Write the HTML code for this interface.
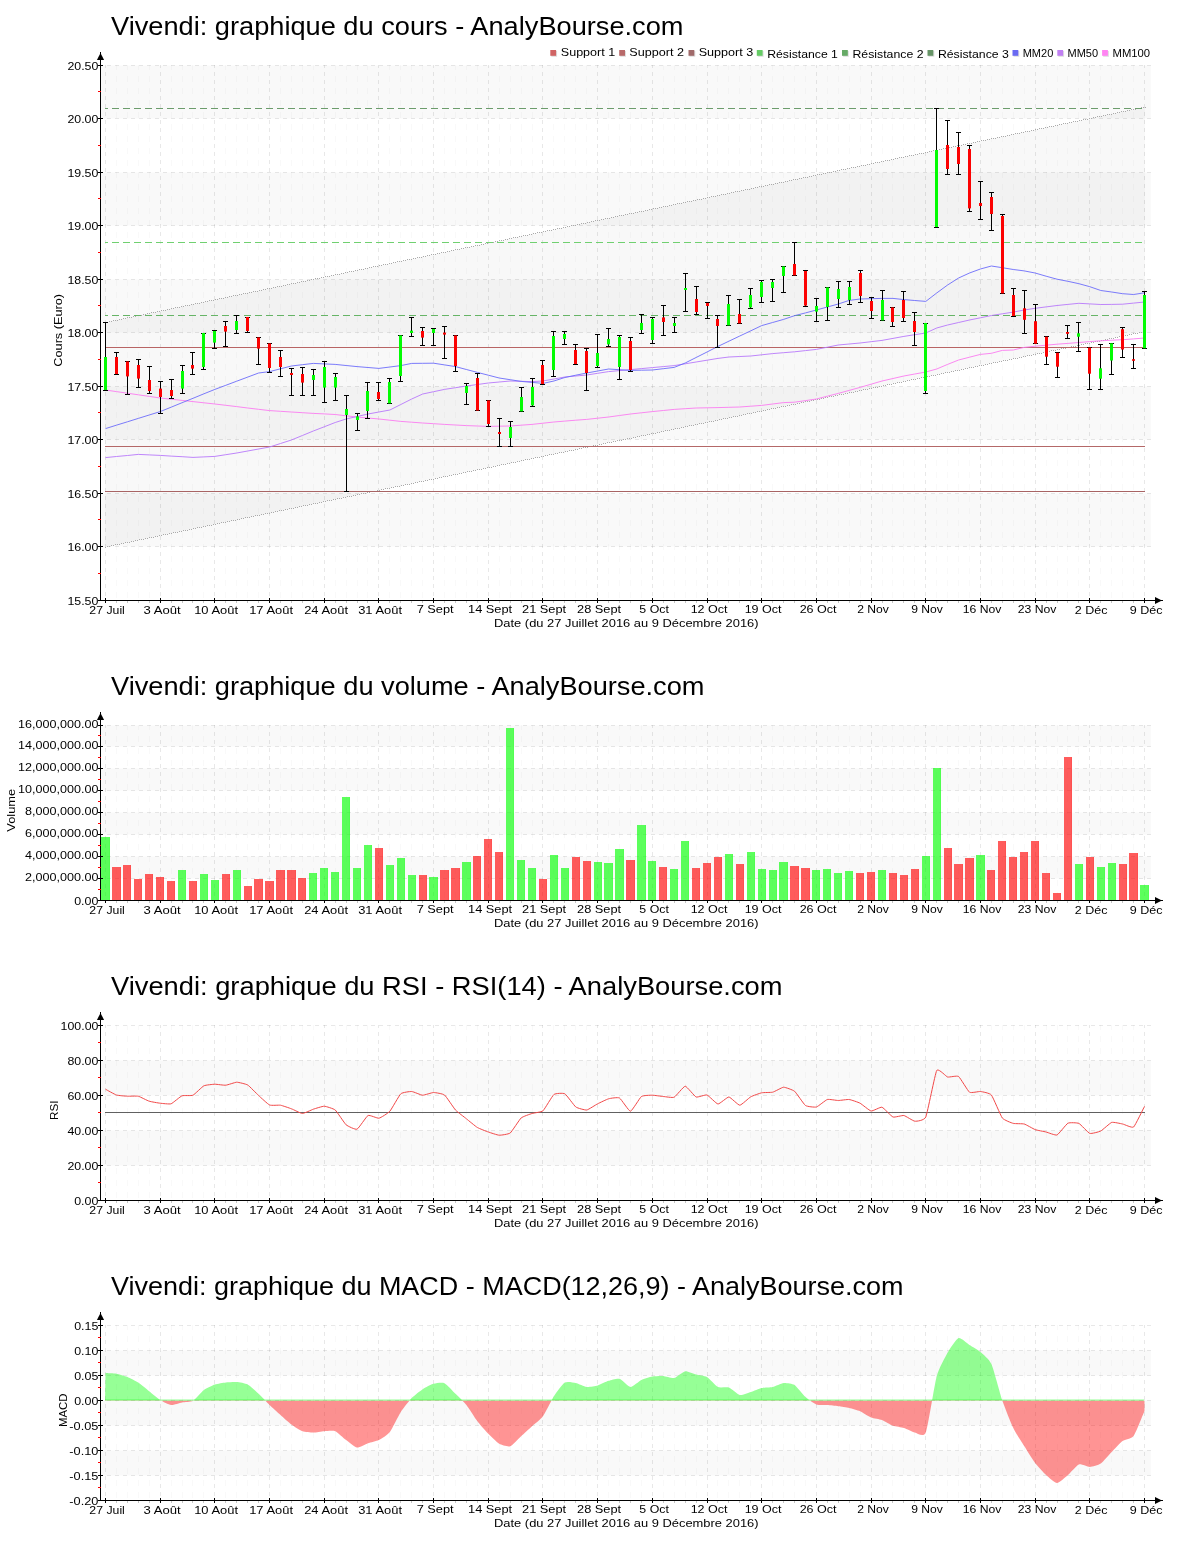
<!DOCTYPE html><html><head><meta charset="utf-8"><title>Vivendi</title><style>html,body{margin:0;padding:0;background:#fff}svg{display:block;will-change:transform}text{font-family:"Liberation Sans",sans-serif}</style></head><body>
<svg width="1200" height="1550" viewBox="0 0 1200 1550">
<rect width="1200" height="1550" fill="#fff"/>
<rect x="101" y="65.5" width="1049.8" height="53.0" fill="#f9f9f9"/>
<rect x="101" y="172.5" width="1049.8" height="53.0" fill="#f9f9f9"/>
<rect x="101" y="279.5" width="1049.8" height="53.0" fill="#f9f9f9"/>
<rect x="101" y="386.5" width="1049.8" height="53.0" fill="#f9f9f9"/>
<rect x="101" y="493.5" width="1049.8" height="53.0" fill="#f9f9f9"/>
<line x1="105.5" y1="65" x2="105.5" y2="600" stroke="#000" stroke-opacity="0.09" stroke-dasharray="4 4" stroke-width="1" stroke-dashoffset="1"/>
<line x1="116.5" y1="65" x2="116.5" y2="600" stroke="#000" stroke-opacity="0.022" stroke-dasharray="6 6" stroke-width="1" stroke-dashoffset="1"/>
<line x1="127.5" y1="65" x2="127.5" y2="600" stroke="#000" stroke-opacity="0.022" stroke-dasharray="6 6" stroke-width="1" stroke-dashoffset="1"/>
<line x1="138.5" y1="65" x2="138.5" y2="600" stroke="#000" stroke-opacity="0.022" stroke-dasharray="6 6" stroke-width="1" stroke-dashoffset="1"/>
<line x1="149.5" y1="65" x2="149.5" y2="600" stroke="#000" stroke-opacity="0.022" stroke-dasharray="6 6" stroke-width="1" stroke-dashoffset="1"/>
<line x1="160.5" y1="65" x2="160.5" y2="600" stroke="#000" stroke-opacity="0.09" stroke-dasharray="4 4" stroke-width="1" stroke-dashoffset="1"/>
<line x1="171.5" y1="65" x2="171.5" y2="600" stroke="#000" stroke-opacity="0.022" stroke-dasharray="6 6" stroke-width="1" stroke-dashoffset="1"/>
<line x1="182.5" y1="65" x2="182.5" y2="600" stroke="#000" stroke-opacity="0.022" stroke-dasharray="6 6" stroke-width="1" stroke-dashoffset="1"/>
<line x1="192.5" y1="65" x2="192.5" y2="600" stroke="#000" stroke-opacity="0.022" stroke-dasharray="6 6" stroke-width="1" stroke-dashoffset="1"/>
<line x1="203.5" y1="65" x2="203.5" y2="600" stroke="#000" stroke-opacity="0.022" stroke-dasharray="6 6" stroke-width="1" stroke-dashoffset="1"/>
<line x1="214.5" y1="65" x2="214.5" y2="600" stroke="#000" stroke-opacity="0.09" stroke-dasharray="4 4" stroke-width="1" stroke-dashoffset="1"/>
<line x1="225.5" y1="65" x2="225.5" y2="600" stroke="#000" stroke-opacity="0.022" stroke-dasharray="6 6" stroke-width="1" stroke-dashoffset="1"/>
<line x1="236.5" y1="65" x2="236.5" y2="600" stroke="#000" stroke-opacity="0.022" stroke-dasharray="6 6" stroke-width="1" stroke-dashoffset="1"/>
<line x1="247.5" y1="65" x2="247.5" y2="600" stroke="#000" stroke-opacity="0.022" stroke-dasharray="6 6" stroke-width="1" stroke-dashoffset="1"/>
<line x1="258.5" y1="65" x2="258.5" y2="600" stroke="#000" stroke-opacity="0.022" stroke-dasharray="6 6" stroke-width="1" stroke-dashoffset="1"/>
<line x1="269.5" y1="65" x2="269.5" y2="600" stroke="#000" stroke-opacity="0.09" stroke-dasharray="4 4" stroke-width="1" stroke-dashoffset="1"/>
<line x1="280.5" y1="65" x2="280.5" y2="600" stroke="#000" stroke-opacity="0.022" stroke-dasharray="6 6" stroke-width="1" stroke-dashoffset="1"/>
<line x1="291.5" y1="65" x2="291.5" y2="600" stroke="#000" stroke-opacity="0.022" stroke-dasharray="6 6" stroke-width="1" stroke-dashoffset="1"/>
<line x1="302.5" y1="65" x2="302.5" y2="600" stroke="#000" stroke-opacity="0.022" stroke-dasharray="6 6" stroke-width="1" stroke-dashoffset="1"/>
<line x1="313.5" y1="65" x2="313.5" y2="600" stroke="#000" stroke-opacity="0.022" stroke-dasharray="6 6" stroke-width="1" stroke-dashoffset="1"/>
<line x1="324.5" y1="65" x2="324.5" y2="600" stroke="#000" stroke-opacity="0.09" stroke-dasharray="4 4" stroke-width="1" stroke-dashoffset="1"/>
<line x1="335.5" y1="65" x2="335.5" y2="600" stroke="#000" stroke-opacity="0.022" stroke-dasharray="6 6" stroke-width="1" stroke-dashoffset="1"/>
<line x1="346.5" y1="65" x2="346.5" y2="600" stroke="#000" stroke-opacity="0.022" stroke-dasharray="6 6" stroke-width="1" stroke-dashoffset="1"/>
<line x1="357.5" y1="65" x2="357.5" y2="600" stroke="#000" stroke-opacity="0.022" stroke-dasharray="6 6" stroke-width="1" stroke-dashoffset="1"/>
<line x1="367.5" y1="65" x2="367.5" y2="600" stroke="#000" stroke-opacity="0.022" stroke-dasharray="6 6" stroke-width="1" stroke-dashoffset="1"/>
<line x1="378.5" y1="65" x2="378.5" y2="600" stroke="#000" stroke-opacity="0.09" stroke-dasharray="4 4" stroke-width="1" stroke-dashoffset="1"/>
<line x1="389.5" y1="65" x2="389.5" y2="600" stroke="#000" stroke-opacity="0.022" stroke-dasharray="6 6" stroke-width="1" stroke-dashoffset="1"/>
<line x1="400.5" y1="65" x2="400.5" y2="600" stroke="#000" stroke-opacity="0.022" stroke-dasharray="6 6" stroke-width="1" stroke-dashoffset="1"/>
<line x1="411.5" y1="65" x2="411.5" y2="600" stroke="#000" stroke-opacity="0.022" stroke-dasharray="6 6" stroke-width="1" stroke-dashoffset="1"/>
<line x1="422.5" y1="65" x2="422.5" y2="600" stroke="#000" stroke-opacity="0.022" stroke-dasharray="6 6" stroke-width="1" stroke-dashoffset="1"/>
<line x1="433.5" y1="65" x2="433.5" y2="600" stroke="#000" stroke-opacity="0.09" stroke-dasharray="4 4" stroke-width="1" stroke-dashoffset="1"/>
<line x1="444.5" y1="65" x2="444.5" y2="600" stroke="#000" stroke-opacity="0.022" stroke-dasharray="6 6" stroke-width="1" stroke-dashoffset="1"/>
<line x1="455.5" y1="65" x2="455.5" y2="600" stroke="#000" stroke-opacity="0.022" stroke-dasharray="6 6" stroke-width="1" stroke-dashoffset="1"/>
<line x1="466.5" y1="65" x2="466.5" y2="600" stroke="#000" stroke-opacity="0.022" stroke-dasharray="6 6" stroke-width="1" stroke-dashoffset="1"/>
<line x1="477.5" y1="65" x2="477.5" y2="600" stroke="#000" stroke-opacity="0.022" stroke-dasharray="6 6" stroke-width="1" stroke-dashoffset="1"/>
<line x1="488.5" y1="65" x2="488.5" y2="600" stroke="#000" stroke-opacity="0.09" stroke-dasharray="4 4" stroke-width="1" stroke-dashoffset="1"/>
<line x1="499.5" y1="65" x2="499.5" y2="600" stroke="#000" stroke-opacity="0.022" stroke-dasharray="6 6" stroke-width="1" stroke-dashoffset="1"/>
<line x1="510.5" y1="65" x2="510.5" y2="600" stroke="#000" stroke-opacity="0.022" stroke-dasharray="6 6" stroke-width="1" stroke-dashoffset="1"/>
<line x1="521.5" y1="65" x2="521.5" y2="600" stroke="#000" stroke-opacity="0.022" stroke-dasharray="6 6" stroke-width="1" stroke-dashoffset="1"/>
<line x1="532.5" y1="65" x2="532.5" y2="600" stroke="#000" stroke-opacity="0.022" stroke-dasharray="6 6" stroke-width="1" stroke-dashoffset="1"/>
<line x1="542.5" y1="65" x2="542.5" y2="600" stroke="#000" stroke-opacity="0.09" stroke-dasharray="4 4" stroke-width="1" stroke-dashoffset="1"/>
<line x1="553.5" y1="65" x2="553.5" y2="600" stroke="#000" stroke-opacity="0.022" stroke-dasharray="6 6" stroke-width="1" stroke-dashoffset="1"/>
<line x1="564.5" y1="65" x2="564.5" y2="600" stroke="#000" stroke-opacity="0.022" stroke-dasharray="6 6" stroke-width="1" stroke-dashoffset="1"/>
<line x1="575.5" y1="65" x2="575.5" y2="600" stroke="#000" stroke-opacity="0.022" stroke-dasharray="6 6" stroke-width="1" stroke-dashoffset="1"/>
<line x1="586.5" y1="65" x2="586.5" y2="600" stroke="#000" stroke-opacity="0.022" stroke-dasharray="6 6" stroke-width="1" stroke-dashoffset="1"/>
<line x1="597.5" y1="65" x2="597.5" y2="600" stroke="#000" stroke-opacity="0.09" stroke-dasharray="4 4" stroke-width="1" stroke-dashoffset="1"/>
<line x1="608.5" y1="65" x2="608.5" y2="600" stroke="#000" stroke-opacity="0.022" stroke-dasharray="6 6" stroke-width="1" stroke-dashoffset="1"/>
<line x1="619.5" y1="65" x2="619.5" y2="600" stroke="#000" stroke-opacity="0.022" stroke-dasharray="6 6" stroke-width="1" stroke-dashoffset="1"/>
<line x1="630.5" y1="65" x2="630.5" y2="600" stroke="#000" stroke-opacity="0.022" stroke-dasharray="6 6" stroke-width="1" stroke-dashoffset="1"/>
<line x1="641.5" y1="65" x2="641.5" y2="600" stroke="#000" stroke-opacity="0.022" stroke-dasharray="6 6" stroke-width="1" stroke-dashoffset="1"/>
<line x1="652.5" y1="65" x2="652.5" y2="600" stroke="#000" stroke-opacity="0.09" stroke-dasharray="4 4" stroke-width="1" stroke-dashoffset="1"/>
<line x1="663.5" y1="65" x2="663.5" y2="600" stroke="#000" stroke-opacity="0.022" stroke-dasharray="6 6" stroke-width="1" stroke-dashoffset="1"/>
<line x1="674.5" y1="65" x2="674.5" y2="600" stroke="#000" stroke-opacity="0.022" stroke-dasharray="6 6" stroke-width="1" stroke-dashoffset="1"/>
<line x1="685.5" y1="65" x2="685.5" y2="600" stroke="#000" stroke-opacity="0.022" stroke-dasharray="6 6" stroke-width="1" stroke-dashoffset="1"/>
<line x1="696.5" y1="65" x2="696.5" y2="600" stroke="#000" stroke-opacity="0.022" stroke-dasharray="6 6" stroke-width="1" stroke-dashoffset="1"/>
<line x1="707.5" y1="65" x2="707.5" y2="600" stroke="#000" stroke-opacity="0.09" stroke-dasharray="4 4" stroke-width="1" stroke-dashoffset="1"/>
<line x1="717.5" y1="65" x2="717.5" y2="600" stroke="#000" stroke-opacity="0.022" stroke-dasharray="6 6" stroke-width="1" stroke-dashoffset="1"/>
<line x1="728.5" y1="65" x2="728.5" y2="600" stroke="#000" stroke-opacity="0.022" stroke-dasharray="6 6" stroke-width="1" stroke-dashoffset="1"/>
<line x1="739.5" y1="65" x2="739.5" y2="600" stroke="#000" stroke-opacity="0.022" stroke-dasharray="6 6" stroke-width="1" stroke-dashoffset="1"/>
<line x1="750.5" y1="65" x2="750.5" y2="600" stroke="#000" stroke-opacity="0.022" stroke-dasharray="6 6" stroke-width="1" stroke-dashoffset="1"/>
<line x1="761.5" y1="65" x2="761.5" y2="600" stroke="#000" stroke-opacity="0.09" stroke-dasharray="4 4" stroke-width="1" stroke-dashoffset="1"/>
<line x1="772.5" y1="65" x2="772.5" y2="600" stroke="#000" stroke-opacity="0.022" stroke-dasharray="6 6" stroke-width="1" stroke-dashoffset="1"/>
<line x1="783.5" y1="65" x2="783.5" y2="600" stroke="#000" stroke-opacity="0.022" stroke-dasharray="6 6" stroke-width="1" stroke-dashoffset="1"/>
<line x1="794.5" y1="65" x2="794.5" y2="600" stroke="#000" stroke-opacity="0.022" stroke-dasharray="6 6" stroke-width="1" stroke-dashoffset="1"/>
<line x1="805.5" y1="65" x2="805.5" y2="600" stroke="#000" stroke-opacity="0.022" stroke-dasharray="6 6" stroke-width="1" stroke-dashoffset="1"/>
<line x1="816.5" y1="65" x2="816.5" y2="600" stroke="#000" stroke-opacity="0.09" stroke-dasharray="4 4" stroke-width="1" stroke-dashoffset="1"/>
<line x1="827.5" y1="65" x2="827.5" y2="600" stroke="#000" stroke-opacity="0.022" stroke-dasharray="6 6" stroke-width="1" stroke-dashoffset="1"/>
<line x1="838.5" y1="65" x2="838.5" y2="600" stroke="#000" stroke-opacity="0.022" stroke-dasharray="6 6" stroke-width="1" stroke-dashoffset="1"/>
<line x1="849.5" y1="65" x2="849.5" y2="600" stroke="#000" stroke-opacity="0.022" stroke-dasharray="6 6" stroke-width="1" stroke-dashoffset="1"/>
<line x1="860.5" y1="65" x2="860.5" y2="600" stroke="#000" stroke-opacity="0.022" stroke-dasharray="6 6" stroke-width="1" stroke-dashoffset="1"/>
<line x1="871.5" y1="65" x2="871.5" y2="600" stroke="#000" stroke-opacity="0.09" stroke-dasharray="4 4" stroke-width="1" stroke-dashoffset="1"/>
<line x1="882.5" y1="65" x2="882.5" y2="600" stroke="#000" stroke-opacity="0.022" stroke-dasharray="6 6" stroke-width="1" stroke-dashoffset="1"/>
<line x1="892.5" y1="65" x2="892.5" y2="600" stroke="#000" stroke-opacity="0.022" stroke-dasharray="6 6" stroke-width="1" stroke-dashoffset="1"/>
<line x1="903.5" y1="65" x2="903.5" y2="600" stroke="#000" stroke-opacity="0.022" stroke-dasharray="6 6" stroke-width="1" stroke-dashoffset="1"/>
<line x1="914.5" y1="65" x2="914.5" y2="600" stroke="#000" stroke-opacity="0.022" stroke-dasharray="6 6" stroke-width="1" stroke-dashoffset="1"/>
<line x1="925.5" y1="65" x2="925.5" y2="600" stroke="#000" stroke-opacity="0.09" stroke-dasharray="4 4" stroke-width="1" stroke-dashoffset="1"/>
<line x1="936.5" y1="65" x2="936.5" y2="600" stroke="#000" stroke-opacity="0.022" stroke-dasharray="6 6" stroke-width="1" stroke-dashoffset="1"/>
<line x1="947.5" y1="65" x2="947.5" y2="600" stroke="#000" stroke-opacity="0.022" stroke-dasharray="6 6" stroke-width="1" stroke-dashoffset="1"/>
<line x1="958.5" y1="65" x2="958.5" y2="600" stroke="#000" stroke-opacity="0.022" stroke-dasharray="6 6" stroke-width="1" stroke-dashoffset="1"/>
<line x1="969.5" y1="65" x2="969.5" y2="600" stroke="#000" stroke-opacity="0.022" stroke-dasharray="6 6" stroke-width="1" stroke-dashoffset="1"/>
<line x1="980.5" y1="65" x2="980.5" y2="600" stroke="#000" stroke-opacity="0.09" stroke-dasharray="4 4" stroke-width="1" stroke-dashoffset="1"/>
<line x1="991.5" y1="65" x2="991.5" y2="600" stroke="#000" stroke-opacity="0.022" stroke-dasharray="6 6" stroke-width="1" stroke-dashoffset="1"/>
<line x1="1002.5" y1="65" x2="1002.5" y2="600" stroke="#000" stroke-opacity="0.022" stroke-dasharray="6 6" stroke-width="1" stroke-dashoffset="1"/>
<line x1="1013.5" y1="65" x2="1013.5" y2="600" stroke="#000" stroke-opacity="0.022" stroke-dasharray="6 6" stroke-width="1" stroke-dashoffset="1"/>
<line x1="1024.5" y1="65" x2="1024.5" y2="600" stroke="#000" stroke-opacity="0.022" stroke-dasharray="6 6" stroke-width="1" stroke-dashoffset="1"/>
<line x1="1035.5" y1="65" x2="1035.5" y2="600" stroke="#000" stroke-opacity="0.09" stroke-dasharray="4 4" stroke-width="1" stroke-dashoffset="1"/>
<line x1="1046.5" y1="65" x2="1046.5" y2="600" stroke="#000" stroke-opacity="0.022" stroke-dasharray="6 6" stroke-width="1" stroke-dashoffset="1"/>
<line x1="1057.5" y1="65" x2="1057.5" y2="600" stroke="#000" stroke-opacity="0.022" stroke-dasharray="6 6" stroke-width="1" stroke-dashoffset="1"/>
<line x1="1067.5" y1="65" x2="1067.5" y2="600" stroke="#000" stroke-opacity="0.022" stroke-dasharray="6 6" stroke-width="1" stroke-dashoffset="1"/>
<line x1="1078.5" y1="65" x2="1078.5" y2="600" stroke="#000" stroke-opacity="0.022" stroke-dasharray="6 6" stroke-width="1" stroke-dashoffset="1"/>
<line x1="1089.5" y1="65" x2="1089.5" y2="600" stroke="#000" stroke-opacity="0.09" stroke-dasharray="4 4" stroke-width="1" stroke-dashoffset="1"/>
<line x1="1100.5" y1="65" x2="1100.5" y2="600" stroke="#000" stroke-opacity="0.022" stroke-dasharray="6 6" stroke-width="1" stroke-dashoffset="1"/>
<line x1="1111.5" y1="65" x2="1111.5" y2="600" stroke="#000" stroke-opacity="0.022" stroke-dasharray="6 6" stroke-width="1" stroke-dashoffset="1"/>
<line x1="1122.5" y1="65" x2="1122.5" y2="600" stroke="#000" stroke-opacity="0.022" stroke-dasharray="6 6" stroke-width="1" stroke-dashoffset="1"/>
<line x1="1133.5" y1="65" x2="1133.5" y2="600" stroke="#000" stroke-opacity="0.022" stroke-dasharray="6 6" stroke-width="1" stroke-dashoffset="1"/>
<line x1="1144.5" y1="65" x2="1144.5" y2="600" stroke="#000" stroke-opacity="0.09" stroke-dasharray="4 4" stroke-width="1" stroke-dashoffset="1"/>
<line x1="107" y1="65.5" x2="1151" y2="65.5" stroke="#000" stroke-opacity="0.09" stroke-width="1" stroke-dasharray="4 4"/>
<line x1="107" y1="118.5" x2="1151" y2="118.5" stroke="#000" stroke-opacity="0.09" stroke-width="1" stroke-dasharray="4 4"/>
<line x1="107" y1="172.5" x2="1151" y2="172.5" stroke="#000" stroke-opacity="0.09" stroke-width="1" stroke-dasharray="4 4"/>
<line x1="107" y1="225.5" x2="1151" y2="225.5" stroke="#000" stroke-opacity="0.09" stroke-width="1" stroke-dasharray="4 4"/>
<line x1="107" y1="279.5" x2="1151" y2="279.5" stroke="#000" stroke-opacity="0.09" stroke-width="1" stroke-dasharray="4 4"/>
<line x1="107" y1="332.5" x2="1151" y2="332.5" stroke="#000" stroke-opacity="0.09" stroke-width="1" stroke-dasharray="4 4"/>
<line x1="107" y1="386.5" x2="1151" y2="386.5" stroke="#000" stroke-opacity="0.09" stroke-width="1" stroke-dasharray="4 4"/>
<line x1="107" y1="439.5" x2="1151" y2="439.5" stroke="#000" stroke-opacity="0.09" stroke-width="1" stroke-dasharray="4 4"/>
<line x1="107" y1="493.5" x2="1151" y2="493.5" stroke="#000" stroke-opacity="0.09" stroke-width="1" stroke-dasharray="4 4"/>
<line x1="107" y1="546.5" x2="1151" y2="546.5" stroke="#000" stroke-opacity="0.09" stroke-width="1" stroke-dasharray="4 4"/>
<polygon points="105,322.5 1145,107 1145,331.5 105,547" fill="#000" fill-opacity="0.026"/>
<path d="M105 322.5h1M107 322.5h1M109 321.5h1M111 321.5h1M113 320.5h1M115 320.5h1M117 320.5h1M119 319.5h1M121 319.5h1M123 318.5h1M125 318.5h1M127 317.5h1M129 317.5h1M131 317.5h1M133 316.5h1M135 316.5h1M137 315.5h1M139 315.5h1M141 315.5h1M143 314.5h1M145 314.5h1M147 313.5h1M149 313.5h1M151 312.5h1M153 312.5h1M155 312.5h1M157 311.5h1M159 311.5h1M161 310.5h1M163 310.5h1M165 310.5h1M167 309.5h1M169 309.5h1M171 308.5h1M173 308.5h1M175 307.5h1M177 307.5h1M179 307.5h1M181 306.5h1M183 306.5h1M185 305.5h1M187 305.5h1M189 305.5h1M191 304.5h1M193 304.5h1M195 303.5h1M197 303.5h1M199 303.5h1M201 302.5h1M203 302.5h1M205 301.5h1M207 301.5h1M209 300.5h1M211 300.5h1M213 300.5h1M215 299.5h1M217 299.5h1M219 298.5h1M221 298.5h1M223 298.5h1M225 297.5h1M227 297.5h1M229 296.5h1M231 296.5h1M233 295.5h1M235 295.5h1M237 295.5h1M239 294.5h1M241 294.5h1M243 293.5h1M245 293.5h1M247 293.5h1M249 292.5h1M251 292.5h1M253 291.5h1M255 291.5h1M257 291.5h1M259 290.5h1M261 290.5h1M263 289.5h1M265 289.5h1M267 288.5h1M269 288.5h1M271 288.5h1M273 287.5h1M275 287.5h1M277 286.5h1M279 286.5h1M281 286.5h1M283 285.5h1M285 285.5h1M287 284.5h1M289 284.5h1M291 283.5h1M293 283.5h1M295 283.5h1M297 282.5h1M299 282.5h1M301 281.5h1M303 281.5h1M305 281.5h1M307 280.5h1M309 280.5h1M311 279.5h1M313 279.5h1M315 278.5h1M317 278.5h1M319 278.5h1M321 277.5h1M323 277.5h1M325 276.5h1M327 276.5h1M329 276.5h1M331 275.5h1M333 275.5h1M335 274.5h1M337 274.5h1M339 274.5h1M341 273.5h1M343 273.5h1M345 272.5h1M347 272.5h1M349 271.5h1M351 271.5h1M353 271.5h1M355 270.5h1M357 270.5h1M359 269.5h1M361 269.5h1M363 269.5h1M365 268.5h1M367 268.5h1M369 267.5h1M371 267.5h1M373 266.5h1M375 266.5h1M377 266.5h1M379 265.5h1M381 265.5h1M383 264.5h1M385 264.5h1M387 264.5h1M389 263.5h1M391 263.5h1M393 262.5h1M395 262.5h1M397 261.5h1M399 261.5h1M401 261.5h1M403 260.5h1M405 260.5h1M407 259.5h1M409 259.5h1M411 259.5h1M413 258.5h1M415 258.5h1M417 257.5h1M419 257.5h1M421 257.5h1M423 256.5h1M425 256.5h1M427 255.5h1M429 255.5h1M431 254.5h1M433 254.5h1M435 254.5h1M437 253.5h1M439 253.5h1M441 252.5h1M443 252.5h1M445 252.5h1M447 251.5h1M449 251.5h1M451 250.5h1M453 250.5h1M455 249.5h1M457 249.5h1M459 249.5h1M461 248.5h1M463 248.5h1M465 247.5h1M467 247.5h1M469 247.5h1M471 246.5h1M473 246.5h1M475 245.5h1M477 245.5h1M479 245.5h1M481 244.5h1M483 244.5h1M485 243.5h1M487 243.5h1M489 242.5h1M491 242.5h1M493 242.5h1M495 241.5h1M497 241.5h1M499 240.5h1M501 240.5h1M503 240.5h1M505 239.5h1M507 239.5h1M509 238.5h1M511 238.5h1M513 237.5h1M515 237.5h1M517 237.5h1M519 236.5h1M521 236.5h1M523 235.5h1M525 235.5h1M527 235.5h1M529 234.5h1M531 234.5h1M533 233.5h1M535 233.5h1M537 232.5h1M539 232.5h1M541 232.5h1M543 231.5h1M545 231.5h1M547 230.5h1M549 230.5h1M551 230.5h1M553 229.5h1M555 229.5h1M557 228.5h1M559 228.5h1M561 228.5h1M563 227.5h1M565 227.5h1M567 226.5h1M569 226.5h1M571 225.5h1M573 225.5h1M575 225.5h1M577 224.5h1M579 224.5h1M581 223.5h1M583 223.5h1M585 223.5h1M587 222.5h1M589 222.5h1M591 221.5h1M593 221.5h1M595 220.5h1M597 220.5h1M599 220.5h1M601 219.5h1M603 219.5h1M605 218.5h1M607 218.5h1M609 218.5h1M611 217.5h1M613 217.5h1M615 216.5h1M617 216.5h1M619 215.5h1M621 215.5h1M623 215.5h1M625 214.5h1M627 214.5h1M629 213.5h1M631 213.5h1M633 213.5h1M635 212.5h1M637 212.5h1M639 211.5h1M641 211.5h1M643 211.5h1M645 210.5h1M647 210.5h1M649 209.5h1M651 209.5h1M653 208.5h1M655 208.5h1M657 208.5h1M659 207.5h1M661 207.5h1M663 206.5h1M665 206.5h1M667 206.5h1M669 205.5h1M671 205.5h1M673 204.5h1M675 204.5h1M677 203.5h1M679 203.5h1M681 203.5h1M683 202.5h1M685 202.5h1M687 201.5h1M689 201.5h1M691 201.5h1M693 200.5h1M695 200.5h1M697 199.5h1M699 199.5h1M701 199.5h1M703 198.5h1M705 198.5h1M707 197.5h1M709 197.5h1M711 196.5h1M713 196.5h1M715 196.5h1M717 195.5h1M719 195.5h1M721 194.5h1M723 194.5h1M725 194.5h1M727 193.5h1M729 193.5h1M731 192.5h1M733 192.5h1M735 191.5h1M737 191.5h1M739 191.5h1M741 190.5h1M743 190.5h1M745 189.5h1M747 189.5h1M749 189.5h1M751 188.5h1M753 188.5h1M755 187.5h1M757 187.5h1M759 186.5h1M761 186.5h1M763 186.5h1M765 185.5h1M767 185.5h1M769 184.5h1M771 184.5h1M773 184.5h1M775 183.5h1M777 183.5h1M779 182.5h1M781 182.5h1M783 182.5h1M785 181.5h1M787 181.5h1M789 180.5h1M791 180.5h1M793 179.5h1M795 179.5h1M797 179.5h1M799 178.5h1M801 178.5h1M803 177.5h1M805 177.5h1M807 177.5h1M809 176.5h1M811 176.5h1M813 175.5h1M815 175.5h1M817 174.5h1M819 174.5h1M821 174.5h1M823 173.5h1M825 173.5h1M827 172.5h1M829 172.5h1M831 172.5h1M833 171.5h1M835 171.5h1M837 170.5h1M839 170.5h1M841 169.5h1M843 169.5h1M845 169.5h1M847 168.5h1M849 168.5h1M851 167.5h1M853 167.5h1M855 167.5h1M857 166.5h1M859 166.5h1M861 165.5h1M863 165.5h1M865 165.5h1M867 164.5h1M869 164.5h1M871 163.5h1M873 163.5h1M875 162.5h1M877 162.5h1M879 162.5h1M881 161.5h1M883 161.5h1M885 160.5h1M887 160.5h1M889 160.5h1M891 159.5h1M893 159.5h1M895 158.5h1M897 158.5h1M899 157.5h1M901 157.5h1M903 157.5h1M905 156.5h1M907 156.5h1M909 155.5h1M911 155.5h1M913 155.5h1M915 154.5h1M917 154.5h1M919 153.5h1M921 153.5h1M923 153.5h1M925 152.5h1M927 152.5h1M929 151.5h1M931 151.5h1M933 150.5h1M935 150.5h1M937 150.5h1M939 149.5h1M941 149.5h1M943 148.5h1M945 148.5h1M947 148.5h1M949 147.5h1M951 147.5h1M953 146.5h1M955 146.5h1M957 145.5h1M959 145.5h1M961 145.5h1M963 144.5h1M965 144.5h1M967 143.5h1M969 143.5h1M971 143.5h1M973 142.5h1M975 142.5h1M977 141.5h1M979 141.5h1M981 140.5h1M983 140.5h1M985 140.5h1M987 139.5h1M989 139.5h1M991 138.5h1M993 138.5h1M995 138.5h1M997 137.5h1M999 137.5h1M1001 136.5h1M1003 136.5h1M1005 136.5h1M1007 135.5h1M1009 135.5h1M1011 134.5h1M1013 134.5h1M1015 133.5h1M1017 133.5h1M1019 133.5h1M1021 132.5h1M1023 132.5h1M1025 131.5h1M1027 131.5h1M1029 131.5h1M1031 130.5h1M1033 130.5h1M1035 129.5h1M1037 129.5h1M1039 128.5h1M1041 128.5h1M1043 128.5h1M1045 127.5h1M1047 127.5h1M1049 126.5h1M1051 126.5h1M1053 126.5h1M1055 125.5h1M1057 125.5h1M1059 124.5h1M1061 124.5h1M1063 123.5h1M1065 123.5h1M1067 123.5h1M1069 122.5h1M1071 122.5h1M1073 121.5h1M1075 121.5h1M1077 121.5h1M1079 120.5h1M1081 120.5h1M1083 119.5h1M1085 119.5h1M1087 119.5h1M1089 118.5h1M1091 118.5h1M1093 117.5h1M1095 117.5h1M1097 116.5h1M1099 116.5h1M1101 116.5h1M1103 115.5h1M1105 115.5h1M1107 114.5h1M1109 114.5h1M1111 114.5h1M1113 113.5h1M1115 113.5h1M1117 112.5h1M1119 112.5h1M1121 111.5h1M1123 111.5h1M1125 111.5h1M1127 110.5h1M1129 110.5h1M1131 109.5h1M1133 109.5h1M1135 109.5h1M1137 108.5h1M1139 108.5h1M1141 107.5h1M1143 107.5h1M1145 107.5h1" stroke="#aaaaaa" stroke-width="1" fill="none" shape-rendering="crispEdges"/>
<path d="M105 547.5h1M107 546.5h1M109 546.5h1M111 545.5h1M113 545.5h1M115 544.5h1M117 544.5h1M119 544.5h1M121 543.5h1M123 543.5h1M125 542.5h1M127 542.5h1M129 542.5h1M131 541.5h1M133 541.5h1M135 540.5h1M137 540.5h1M139 539.5h1M141 539.5h1M143 539.5h1M145 538.5h1M147 538.5h1M149 537.5h1M151 537.5h1M153 537.5h1M155 536.5h1M157 536.5h1M159 535.5h1M161 535.5h1M163 534.5h1M165 534.5h1M167 534.5h1M169 533.5h1M171 533.5h1M173 532.5h1M175 532.5h1M177 532.5h1M179 531.5h1M181 531.5h1M183 530.5h1M185 530.5h1M187 530.5h1M189 529.5h1M191 529.5h1M193 528.5h1M195 528.5h1M197 527.5h1M199 527.5h1M201 527.5h1M203 526.5h1M205 526.5h1M207 525.5h1M209 525.5h1M211 525.5h1M213 524.5h1M215 524.5h1M217 523.5h1M219 523.5h1M221 522.5h1M223 522.5h1M225 522.5h1M227 521.5h1M229 521.5h1M231 520.5h1M233 520.5h1M235 520.5h1M237 519.5h1M239 519.5h1M241 518.5h1M243 518.5h1M245 517.5h1M247 517.5h1M249 517.5h1M251 516.5h1M253 516.5h1M255 515.5h1M257 515.5h1M259 515.5h1M261 514.5h1M263 514.5h1M265 513.5h1M267 513.5h1M269 513.5h1M271 512.5h1M273 512.5h1M275 511.5h1M277 511.5h1M279 510.5h1M281 510.5h1M283 510.5h1M285 509.5h1M287 509.5h1M289 508.5h1M291 508.5h1M293 508.5h1M295 507.5h1M297 507.5h1M299 506.5h1M301 506.5h1M303 505.5h1M305 505.5h1M307 505.5h1M309 504.5h1M311 504.5h1M313 503.5h1M315 503.5h1M317 503.5h1M319 502.5h1M321 502.5h1M323 501.5h1M325 501.5h1M327 500.5h1M329 500.5h1M331 500.5h1M333 499.5h1M335 499.5h1M337 498.5h1M339 498.5h1M341 498.5h1M343 497.5h1M345 497.5h1M347 496.5h1M349 496.5h1M351 496.5h1M353 495.5h1M355 495.5h1M357 494.5h1M359 494.5h1M361 493.5h1M363 493.5h1M365 493.5h1M367 492.5h1M369 492.5h1M371 491.5h1M373 491.5h1M375 491.5h1M377 490.5h1M379 490.5h1M381 489.5h1M383 489.5h1M385 488.5h1M387 488.5h1M389 488.5h1M391 487.5h1M393 487.5h1M395 486.5h1M397 486.5h1M399 486.5h1M401 485.5h1M403 485.5h1M405 484.5h1M407 484.5h1M409 484.5h1M411 483.5h1M413 483.5h1M415 482.5h1M417 482.5h1M419 481.5h1M421 481.5h1M423 481.5h1M425 480.5h1M427 480.5h1M429 479.5h1M431 479.5h1M433 479.5h1M435 478.5h1M437 478.5h1M439 477.5h1M441 477.5h1M443 476.5h1M445 476.5h1M447 476.5h1M449 475.5h1M451 475.5h1M453 474.5h1M455 474.5h1M457 474.5h1M459 473.5h1M461 473.5h1M463 472.5h1M465 472.5h1M467 471.5h1M469 471.5h1M471 471.5h1M473 470.5h1M475 470.5h1M477 469.5h1M479 469.5h1M481 469.5h1M483 468.5h1M485 468.5h1M487 467.5h1M489 467.5h1M491 467.5h1M493 466.5h1M495 466.5h1M497 465.5h1M499 465.5h1M501 464.5h1M503 464.5h1M505 464.5h1M507 463.5h1M509 463.5h1M511 462.5h1M513 462.5h1M515 462.5h1M517 461.5h1M519 461.5h1M521 460.5h1M523 460.5h1M525 459.5h1M527 459.5h1M529 459.5h1M531 458.5h1M533 458.5h1M535 457.5h1M537 457.5h1M539 457.5h1M541 456.5h1M543 456.5h1M545 455.5h1M547 455.5h1M549 454.5h1M551 454.5h1M553 454.5h1M555 453.5h1M557 453.5h1M559 452.5h1M561 452.5h1M563 452.5h1M565 451.5h1M567 451.5h1M569 450.5h1M571 450.5h1M573 450.5h1M575 449.5h1M577 449.5h1M579 448.5h1M581 448.5h1M583 447.5h1M585 447.5h1M587 447.5h1M589 446.5h1M591 446.5h1M593 445.5h1M595 445.5h1M597 445.5h1M599 444.5h1M601 444.5h1M603 443.5h1M605 443.5h1M607 442.5h1M609 442.5h1M611 442.5h1M613 441.5h1M615 441.5h1M617 440.5h1M619 440.5h1M621 440.5h1M623 439.5h1M625 439.5h1M627 438.5h1M629 438.5h1M631 438.5h1M633 437.5h1M635 437.5h1M637 436.5h1M639 436.5h1M641 435.5h1M643 435.5h1M645 435.5h1M647 434.5h1M649 434.5h1M651 433.5h1M653 433.5h1M655 433.5h1M657 432.5h1M659 432.5h1M661 431.5h1M663 431.5h1M665 430.5h1M667 430.5h1M669 430.5h1M671 429.5h1M673 429.5h1M675 428.5h1M677 428.5h1M679 428.5h1M681 427.5h1M683 427.5h1M685 426.5h1M687 426.5h1M689 425.5h1M691 425.5h1M693 425.5h1M695 424.5h1M697 424.5h1M699 423.5h1M701 423.5h1M703 423.5h1M705 422.5h1M707 422.5h1M709 421.5h1M711 421.5h1M713 421.5h1M715 420.5h1M717 420.5h1M719 419.5h1M721 419.5h1M723 418.5h1M725 418.5h1M727 418.5h1M729 417.5h1M731 417.5h1M733 416.5h1M735 416.5h1M737 416.5h1M739 415.5h1M741 415.5h1M743 414.5h1M745 414.5h1M747 413.5h1M749 413.5h1M751 413.5h1M753 412.5h1M755 412.5h1M757 411.5h1M759 411.5h1M761 411.5h1M763 410.5h1M765 410.5h1M767 409.5h1M769 409.5h1M771 408.5h1M773 408.5h1M775 408.5h1M777 407.5h1M779 407.5h1M781 406.5h1M783 406.5h1M785 406.5h1M787 405.5h1M789 405.5h1M791 404.5h1M793 404.5h1M795 404.5h1M797 403.5h1M799 403.5h1M801 402.5h1M803 402.5h1M805 401.5h1M807 401.5h1M809 401.5h1M811 400.5h1M813 400.5h1M815 399.5h1M817 399.5h1M819 399.5h1M821 398.5h1M823 398.5h1M825 397.5h1M827 397.5h1M829 396.5h1M831 396.5h1M833 396.5h1M835 395.5h1M837 395.5h1M839 394.5h1M841 394.5h1M843 394.5h1M845 393.5h1M847 393.5h1M849 392.5h1M851 392.5h1M853 392.5h1M855 391.5h1M857 391.5h1M859 390.5h1M861 390.5h1M863 389.5h1M865 389.5h1M867 389.5h1M869 388.5h1M871 388.5h1M873 387.5h1M875 387.5h1M877 387.5h1M879 386.5h1M881 386.5h1M883 385.5h1M885 385.5h1M887 384.5h1M889 384.5h1M891 384.5h1M893 383.5h1M895 383.5h1M897 382.5h1M899 382.5h1M901 382.5h1M903 381.5h1M905 381.5h1M907 380.5h1M909 380.5h1M911 379.5h1M913 379.5h1M915 379.5h1M917 378.5h1M919 378.5h1M921 377.5h1M923 377.5h1M925 377.5h1M927 376.5h1M929 376.5h1M931 375.5h1M933 375.5h1M935 375.5h1M937 374.5h1M939 374.5h1M941 373.5h1M943 373.5h1M945 372.5h1M947 372.5h1M949 372.5h1M951 371.5h1M953 371.5h1M955 370.5h1M957 370.5h1M959 370.5h1M961 369.5h1M963 369.5h1M965 368.5h1M967 368.5h1M969 367.5h1M971 367.5h1M973 367.5h1M975 366.5h1M977 366.5h1M979 365.5h1M981 365.5h1M983 365.5h1M985 364.5h1M987 364.5h1M989 363.5h1M991 363.5h1M993 362.5h1M995 362.5h1M997 362.5h1M999 361.5h1M1001 361.5h1M1003 360.5h1M1005 360.5h1M1007 360.5h1M1009 359.5h1M1011 359.5h1M1013 358.5h1M1015 358.5h1M1017 358.5h1M1019 357.5h1M1021 357.5h1M1023 356.5h1M1025 356.5h1M1027 355.5h1M1029 355.5h1M1031 355.5h1M1033 354.5h1M1035 354.5h1M1037 353.5h1M1039 353.5h1M1041 353.5h1M1043 352.5h1M1045 352.5h1M1047 351.5h1M1049 351.5h1M1051 350.5h1M1053 350.5h1M1055 350.5h1M1057 349.5h1M1059 349.5h1M1061 348.5h1M1063 348.5h1M1065 348.5h1M1067 347.5h1M1069 347.5h1M1071 346.5h1M1073 346.5h1M1075 346.5h1M1077 345.5h1M1079 345.5h1M1081 344.5h1M1083 344.5h1M1085 343.5h1M1087 343.5h1M1089 343.5h1M1091 342.5h1M1093 342.5h1M1095 341.5h1M1097 341.5h1M1099 341.5h1M1101 340.5h1M1103 340.5h1M1105 339.5h1M1107 339.5h1M1109 338.5h1M1111 338.5h1M1113 338.5h1M1115 337.5h1M1117 337.5h1M1119 336.5h1M1121 336.5h1M1123 336.5h1M1125 335.5h1M1127 335.5h1M1129 334.5h1M1131 334.5h1M1133 333.5h1M1135 333.5h1M1137 333.5h1M1139 332.5h1M1141 332.5h1M1143 331.5h1M1145 331.5h1" stroke="#aaaaaa" stroke-width="1" fill="none" shape-rendering="crispEdges"/>
<line x1="105" y1="347.5" x2="1145" y2="347.5" stroke="#b86464" stroke-width="1.2"/>
<line x1="105" y1="446.5" x2="1145" y2="446.5" stroke="#b46868" stroke-width="1.2"/>
<line x1="105" y1="491.5" x2="1145" y2="491.5" stroke="#a86464" stroke-width="1.2"/>
<line x1="105" y1="315.5" x2="1145" y2="315.5" stroke="#66b466" stroke-width="1.2" stroke-dasharray="7 4" stroke-dashoffset="4"/>
<line x1="105" y1="242.5" x2="1145" y2="242.5" stroke="#70d070" stroke-width="1.2" stroke-dasharray="7 4" stroke-dashoffset="4"/>
<line x1="105" y1="108.5" x2="1145" y2="108.5" stroke="#6c9c6c" stroke-width="1.2" stroke-dasharray="7 4" stroke-dashoffset="4"/>
<polyline points="105.5,390.0 116.4,391.6 127.4,393.2 138.3,394.8 149.2,396.4 160.2,398.0 171.1,399.2 182.1,400.4 193.0,401.6 203.9,402.8 214.9,404.0 225.8,405.3 236.7,406.6 247.7,408.0 258.6,409.3 269.6,410.6 280.5,411.3 291.4,412.0 302.4,412.7 313.3,413.4 324.2,413.9 335.2,414.5 346.1,415.8 357.0,417.0 368.0,418.0 378.9,419.0 389.9,420.2 400.8,421.4 411.7,422.2 422.7,423.0 433.6,423.7 444.5,424.4 455.5,425.0 466.4,425.6 477.4,426.0 488.3,426.4 499.2,426.2 510.2,426.0 521.1,425.2 532.0,424.4 543.0,423.2 553.9,422.0 564.8,421.1 575.8,420.2 586.7,419.4 597.7,418.2 608.6,417.0 619.5,415.5 630.5,414.0 641.4,412.8 652.3,411.6 663.3,410.5 674.2,409.4 685.2,408.7 696.1,408.0 707.0,407.8 718.0,407.6 728.9,407.3 739.8,407.0 750.8,406.2 761.7,405.4 772.6,404.0 783.6,402.6 794.5,402.2 805.5,400.6 816.4,399.0 827.3,396.2 838.3,393.4 849.2,390.4 860.1,387.4 871.1,384.2 882.0,381.0 893.0,378.5 903.9,376.0 914.8,374.0 925.8,372.0 936.7,369.0 947.6,364.4 958.6,360.0 969.5,357.2 980.4,354.4 991.4,353.3 1002.3,350.4 1013.3,350.0 1024.2,347.4 1035.1,346.2 1046.1,345.2 1057.0,344.2 1067.9,343.4 1078.9,342.5 1089.8,341.6 1100.8,340.8 1111.7,340.2 1122.6,339.7 1133.6,338.9 1144.5,338.0" fill="none" stroke="#fa7cf0" stroke-width="0.9" stroke-linejoin="round"/>
<polyline points="105.5,457.6 116.4,456.5 127.4,455.5 138.3,454.4 149.2,454.9 160.2,455.4 171.1,456.1 182.1,456.7 193.0,457.4 203.9,456.9 214.9,456.4 225.8,454.7 236.7,453.0 247.7,451.0 258.6,449.0 269.6,447.0 280.5,443.5 291.4,440.0 302.4,435.5 313.3,431.0 324.2,426.8 335.2,422.5 346.1,419.0 357.0,416.5 368.0,414.0 378.9,412.0 389.9,410.0 400.8,404.5 411.7,399.0 422.7,394.0 433.6,391.7 444.5,389.4 455.5,387.7 466.4,386.0 477.4,384.5 488.3,383.0 499.2,382.0 510.2,381.0 521.1,381.3 532.0,381.6 543.0,381.0 553.9,379.0 564.8,377.0 575.8,376.0 586.7,375.0 597.7,373.3 608.6,371.6 619.5,370.6 630.5,369.6 641.4,368.6 652.3,367.6 663.3,366.6 674.2,365.6 685.2,363.8 696.1,362.0 707.0,360.2 718.0,358.4 728.9,357.0 739.8,356.5 750.8,356.0 761.7,354.8 772.6,353.6 783.6,352.7 794.5,351.8 805.5,350.6 816.4,349.4 827.3,347.2 838.3,345.0 849.2,344.0 860.1,343.0 871.1,341.7 882.0,340.4 893.0,338.4 903.9,336.4 914.8,334.7 925.8,333.0 936.7,328.0 947.6,325.0 958.6,322.5 969.5,320.0 980.4,317.8 991.4,315.5 1002.3,313.8 1013.3,312.1 1024.2,310.0 1035.1,308.3 1046.1,306.9 1057.0,305.5 1067.9,304.4 1078.9,303.3 1089.8,303.9 1100.8,304.5 1111.7,304.4 1122.6,304.2 1133.6,303.1 1144.5,302.0" fill="none" stroke="#b878fa" stroke-width="0.9" stroke-linejoin="round"/>
<polyline points="105.5,428.6 116.4,425.2 127.4,421.8 138.3,418.4 149.2,415.0 160.2,411.6 171.1,407.2 182.1,402.7 193.0,398.3 203.9,393.8 214.9,389.4 225.8,385.3 236.7,381.2 247.7,377.1 258.6,373.0 269.6,371.6 280.5,368.8 291.4,366.0 302.4,364.7 313.3,363.4 324.2,363.9 335.2,364.4 346.1,365.5 357.0,366.6 368.0,367.5 378.9,368.4 389.9,367.0 400.8,365.6 411.7,363.4 422.7,363.3 433.6,363.2 444.5,364.9 455.5,366.6 466.4,369.5 477.4,372.4 488.3,375.2 499.2,378.0 510.2,379.7 521.1,381.4 532.0,382.4 543.0,383.4 553.9,381.0 564.8,377.5 575.8,375.2 586.7,373.0 597.7,371.0 608.6,369.0 619.5,369.7 630.5,370.4 641.4,370.2 652.3,370.0 663.3,368.7 674.2,367.4 685.2,363.0 696.1,357.5 707.0,352.0 718.0,346.4 728.9,341.2 739.8,336.0 750.8,330.8 761.7,325.6 772.6,322.5 783.6,319.4 794.5,315.7 805.5,312.9 816.4,310.0 827.3,307.0 838.3,304.0 849.2,300.4 860.1,299.0 871.1,298.7 882.0,298.4 893.0,298.4 903.9,299.6 914.8,300.5 925.8,301.4 936.7,293.0 947.6,285.0 958.6,278.0 969.5,273.0 980.4,269.0 991.4,266.0 1002.3,267.7 1013.3,269.5 1024.2,270.9 1035.1,273.0 1046.1,276.2 1057.0,279.2 1067.9,281.3 1078.9,283.7 1089.8,286.7 1100.8,290.5 1111.7,292.0 1122.6,293.7 1133.6,294.5 1144.5,292.8" fill="none" stroke="#6c6cfa" stroke-width="0.9" stroke-linejoin="round"/>
<path d="M105.5 322.0V391.0M103.0 322.5H108.0M103.0 390.5H108.0" stroke="#000" stroke-width="1" fill="none"/>
<rect x="104.0" y="357" width="3" height="33.0" fill="#02fc02"/>
<path d="M116.5 352.0V375.0M114.0 352.5H119.0M114.0 374.5H119.0" stroke="#000" stroke-width="1" fill="none"/>
<rect x="115.0" y="357" width="3" height="17.0" fill="#fc0202"/>
<path d="M127.5 361.0V395.0M125.0 361.5H130.0M125.0 394.5H130.0" stroke="#000" stroke-width="1" fill="none"/>
<rect x="126.0" y="361.4" width="3" height="15.0" fill="#fc0202"/>
<path d="M138.5 359.0V388.0M136.0 359.5H141.0M136.0 387.5H141.0" stroke="#000" stroke-width="1" fill="none"/>
<rect x="137.0" y="365" width="3" height="13.6" fill="#fc0202"/>
<path d="M149.5 366.0V394.0M147.0 366.5H152.0M147.0 393.5H152.0" stroke="#000" stroke-width="1" fill="none"/>
<rect x="148.0" y="380" width="3" height="11.0" fill="#fc0202"/>
<path d="M160.5 381.0V414.0M158.0 381.5H163.0M158.0 413.5H163.0" stroke="#000" stroke-width="1" fill="none"/>
<rect x="159.0" y="388.6" width="3" height="8.4" fill="#fc0202"/>
<path d="M171.5 379.0V399.0M169.0 379.5H174.0M169.0 398.5H174.0" stroke="#000" stroke-width="1" fill="none"/>
<rect x="170.0" y="390" width="3" height="6.0" fill="#fc0202"/>
<path d="M182.5 365.0V394.0M180.0 365.5H185.0M180.0 393.5H185.0" stroke="#000" stroke-width="1" fill="none"/>
<rect x="181.0" y="371" width="3" height="17.6" fill="#02fc02"/>
<path d="M192.5 352.0V375.0M190.0 352.5H195.0M190.0 374.5H195.0" stroke="#000" stroke-width="1" fill="none"/>
<rect x="191.0" y="365" width="3" height="3.6" fill="#fc0202"/>
<path d="M203.5 333.0V370.0M201.0 333.5H206.0M201.0 369.5H206.0" stroke="#000" stroke-width="1" fill="none"/>
<rect x="202.0" y="333" width="3" height="34.0" fill="#02fc02"/>
<path d="M214.5 330.0V349.0M212.0 330.5H217.0M212.0 348.5H217.0" stroke="#000" stroke-width="1" fill="none"/>
<rect x="213.0" y="331" width="3" height="11.6" fill="#02fc02"/>
<path d="M225.5 321.0V347.0M223.0 321.5H228.0M223.0 346.5H228.0" stroke="#000" stroke-width="1" fill="none"/>
<rect x="224.0" y="326" width="3" height="5.6" fill="#fc0202"/>
<path d="M236.5 315.0V334.0M234.0 315.5H239.0M234.0 333.5H239.0" stroke="#000" stroke-width="1" fill="none"/>
<rect x="235.0" y="321" width="3" height="9.0" fill="#02fc02"/>
<path d="M247.5 317.0V333.0M245.0 317.5H250.0M245.0 332.5H250.0" stroke="#000" stroke-width="1" fill="none"/>
<rect x="246.0" y="317" width="3" height="14.0" fill="#fc0202"/>
<path d="M258.5 337.0V365.0M256.0 337.5H261.0M256.0 364.5H261.0" stroke="#000" stroke-width="1" fill="none"/>
<rect x="257.0" y="337.4" width="3" height="11.2" fill="#fc0202"/>
<path d="M269.5 343.0V373.0M267.0 343.5H272.0M267.0 372.5H272.0" stroke="#000" stroke-width="1" fill="none"/>
<rect x="268.0" y="343.4" width="3" height="24.6" fill="#fc0202"/>
<path d="M280.5 350.0V377.0M278.0 350.5H283.0M278.0 376.5H283.0" stroke="#000" stroke-width="1" fill="none"/>
<rect x="279.0" y="357" width="3" height="10.0" fill="#fc0202"/>
<path d="M291.5 368.0V396.0M289.0 368.5H294.0M289.0 395.5H294.0" stroke="#000" stroke-width="1" fill="none"/>
<rect x="290.0" y="373" width="3" height="2.0" fill="#fc0202"/>
<path d="M302.5 367.0V396.0M300.0 367.5H305.0M300.0 395.5H305.0" stroke="#000" stroke-width="1" fill="none"/>
<rect x="301.0" y="374" width="3" height="8.6" fill="#fc0202"/>
<path d="M313.5 369.0V396.0M311.0 369.5H316.0M311.0 395.5H316.0" stroke="#000" stroke-width="1" fill="none"/>
<rect x="312.0" y="375" width="3" height="5.0" fill="#02fc02"/>
<path d="M324.5 361.0V403.0M322.0 361.5H327.0M322.0 402.5H327.0" stroke="#000" stroke-width="1" fill="none"/>
<rect x="323.0" y="367" width="3" height="20.6" fill="#02fc02"/>
<path d="M335.5 373.0V401.0M333.0 373.5H338.0M333.0 400.5H338.0" stroke="#000" stroke-width="1" fill="none"/>
<rect x="334.0" y="377" width="3" height="10.6" fill="#02fc02"/>
<path d="M346.5 395.0V492.0M344.0 395.5H349.0M344.0 491.5H349.0" stroke="#000" stroke-width="1" fill="none"/>
<rect x="345.0" y="409" width="3" height="6.0" fill="#02fc02"/>
<path d="M357.5 413.0V431.0M355.0 413.5H360.0M355.0 430.5H360.0" stroke="#000" stroke-width="1" fill="none"/>
<rect x="356.0" y="416.4" width="3" height="3.6" fill="#02fc02"/>
<path d="M367.5 382.0V419.0M365.0 382.5H370.0M365.0 418.5H370.0" stroke="#000" stroke-width="1" fill="none"/>
<rect x="366.0" y="391" width="3" height="20.0" fill="#02fc02"/>
<path d="M378.5 382.0V401.0M376.0 382.5H381.0M376.0 400.5H381.0" stroke="#000" stroke-width="1" fill="none"/>
<rect x="377.0" y="392" width="3" height="7.0" fill="#fc0202"/>
<path d="M389.5 378.0V404.0M387.0 378.5H392.0M387.0 403.5H392.0" stroke="#000" stroke-width="1" fill="none"/>
<rect x="388.0" y="382" width="3" height="21.4" fill="#02fc02"/>
<path d="M400.5 335.0V382.0M398.0 335.5H403.0M398.0 381.5H403.0" stroke="#000" stroke-width="1" fill="none"/>
<rect x="399.0" y="335.4" width="3" height="40.6" fill="#02fc02"/>
<path d="M411.5 317.0V337.0M409.0 317.5H414.0M409.0 336.5H414.0" stroke="#000" stroke-width="1" fill="none"/>
<rect x="410.0" y="330.6" width="3" height="2.4" fill="#02fc02"/>
<path d="M422.5 327.0V346.0M420.0 327.5H425.0M420.0 345.5H425.0" stroke="#000" stroke-width="1" fill="none"/>
<rect x="421.0" y="331" width="3" height="6.6" fill="#fc0202"/>
<path d="M433.5 328.0V346.0M431.0 328.5H436.0M431.0 345.5H436.0" stroke="#000" stroke-width="1" fill="none"/>
<rect x="432.0" y="329" width="3" height="4.0" fill="#02fc02"/>
<path d="M444.5 326.0V359.0M442.0 326.5H447.0M442.0 358.5H447.0" stroke="#000" stroke-width="1" fill="none"/>
<rect x="443.0" y="332.6" width="3" height="2.0" fill="#fc0202"/>
<path d="M455.5 335.0V372.0M453.0 335.5H458.0M453.0 371.5H458.0" stroke="#000" stroke-width="1" fill="none"/>
<rect x="454.0" y="335.4" width="3" height="30.6" fill="#fc0202"/>
<path d="M466.5 383.0V405.0M464.0 383.5H469.0M464.0 404.5H469.0" stroke="#000" stroke-width="1" fill="none"/>
<rect x="465.0" y="386" width="3" height="7.0" fill="#02fc02"/>
<path d="M477.5 373.0V411.0M475.0 373.5H480.0M475.0 410.5H480.0" stroke="#000" stroke-width="1" fill="none"/>
<rect x="476.0" y="378" width="3" height="32.6" fill="#fc0202"/>
<path d="M488.5 400.0V427.0M486.0 400.5H491.0M486.0 426.5H491.0" stroke="#000" stroke-width="1" fill="none"/>
<rect x="487.0" y="400.4" width="3" height="23.6" fill="#fc0202"/>
<path d="M499.5 418.0V447.0M497.0 418.5H502.0M497.0 446.5H502.0" stroke="#000" stroke-width="1" fill="none"/>
<rect x="498.0" y="432" width="3" height="2.0" fill="#fc0202"/>
<path d="M510.5 421.0V447.0M508.0 421.5H513.0M508.0 446.5H513.0" stroke="#000" stroke-width="1" fill="none"/>
<rect x="509.0" y="427" width="3" height="11.0" fill="#02fc02"/>
<path d="M521.5 387.0V412.0M519.0 387.5H524.0M519.0 411.5H524.0" stroke="#000" stroke-width="1" fill="none"/>
<rect x="520.0" y="397" width="3" height="14.4" fill="#02fc02"/>
<path d="M532.5 378.0V407.0M530.0 378.5H535.0M530.0 406.5H535.0" stroke="#000" stroke-width="1" fill="none"/>
<rect x="531.0" y="387" width="3" height="18.4" fill="#02fc02"/>
<path d="M542.5 360.0V385.0M540.0 360.5H545.0M540.0 384.5H545.0" stroke="#000" stroke-width="1" fill="none"/>
<rect x="541.0" y="365" width="3" height="19.0" fill="#fc0202"/>
<path d="M553.5 331.0V377.0M551.0 331.5H556.0M551.0 376.5H556.0" stroke="#000" stroke-width="1" fill="none"/>
<rect x="552.0" y="336" width="3" height="34.0" fill="#02fc02"/>
<path d="M564.5 331.0V345.0M562.0 331.5H567.0M562.0 344.5H567.0" stroke="#000" stroke-width="1" fill="none"/>
<rect x="563.0" y="334" width="3" height="5.0" fill="#02fc02"/>
<path d="M575.5 344.0V365.0M573.0 344.5H578.0M573.0 364.5H578.0" stroke="#000" stroke-width="1" fill="none"/>
<rect x="574.0" y="350" width="3" height="14.0" fill="#fc0202"/>
<path d="M586.5 348.0V391.0M584.0 348.5H589.0M584.0 390.5H589.0" stroke="#000" stroke-width="1" fill="none"/>
<rect x="585.0" y="351" width="3" height="22.0" fill="#fc0202"/>
<path d="M597.5 334.0V368.0M595.0 334.5H600.0M595.0 367.5H600.0" stroke="#000" stroke-width="1" fill="none"/>
<rect x="596.0" y="353" width="3" height="13.0" fill="#02fc02"/>
<path d="M608.5 328.0V347.0M606.0 328.5H611.0M606.0 346.5H611.0" stroke="#000" stroke-width="1" fill="none"/>
<rect x="607.0" y="339" width="3" height="5.4" fill="#02fc02"/>
<path d="M619.5 335.0V380.0M617.0 335.5H622.0M617.0 379.5H622.0" stroke="#000" stroke-width="1" fill="none"/>
<rect x="618.0" y="337" width="3" height="30.0" fill="#02fc02"/>
<path d="M630.5 337.0V372.0M628.0 337.5H633.0M628.0 371.5H633.0" stroke="#000" stroke-width="1" fill="none"/>
<rect x="629.0" y="341" width="3" height="29.0" fill="#fc0202"/>
<path d="M641.5 314.0V334.0M639.0 314.5H644.0M639.0 333.5H644.0" stroke="#000" stroke-width="1" fill="none"/>
<rect x="640.0" y="323" width="3" height="7.0" fill="#02fc02"/>
<path d="M652.5 317.0V344.0M650.0 317.5H655.0M650.0 343.5H655.0" stroke="#000" stroke-width="1" fill="none"/>
<rect x="651.0" y="319" width="3" height="21.0" fill="#02fc02"/>
<path d="M663.5 305.0V336.0M661.0 305.5H666.0M661.0 335.5H666.0" stroke="#000" stroke-width="1" fill="none"/>
<rect x="662.0" y="317.4" width="3" height="4.6" fill="#fc0202"/>
<path d="M674.5 317.0V333.0M672.0 317.5H677.0M672.0 332.5H677.0" stroke="#000" stroke-width="1" fill="none"/>
<rect x="673.0" y="323" width="3" height="3.0" fill="#02fc02"/>
<path d="M685.5 273.0V312.0M683.0 273.5H688.0M683.0 311.5H688.0" stroke="#000" stroke-width="1" fill="none"/>
<rect x="684.0" y="288" width="3" height="2.0" fill="#02fc02"/>
<path d="M696.5 286.0V315.0M694.0 286.5H699.0M694.0 314.5H699.0" stroke="#000" stroke-width="1" fill="none"/>
<rect x="695.0" y="299" width="3" height="13.0" fill="#fc0202"/>
<path d="M707.5 302.0V319.0M705.0 302.5H710.0M705.0 318.5H710.0" stroke="#000" stroke-width="1" fill="none"/>
<rect x="706.0" y="303" width="3" height="3.0" fill="#fc0202"/>
<path d="M717.5 315.0V348.0M715.0 315.5H720.0M715.0 347.5H720.0" stroke="#000" stroke-width="1" fill="none"/>
<rect x="716.0" y="319" width="3" height="7.0" fill="#fc0202"/>
<path d="M728.5 295.0V326.0M726.0 295.5H731.0M726.0 325.5H731.0" stroke="#000" stroke-width="1" fill="none"/>
<rect x="727.0" y="304" width="3" height="21.4" fill="#02fc02"/>
<path d="M739.5 299.0V324.0M737.0 299.5H742.0M737.0 323.5H742.0" stroke="#000" stroke-width="1" fill="none"/>
<rect x="738.0" y="314" width="3" height="9.4" fill="#fc0202"/>
<path d="M750.5 288.0V309.0M748.0 288.5H753.0M748.0 308.5H753.0" stroke="#000" stroke-width="1" fill="none"/>
<rect x="749.0" y="295" width="3" height="12.4" fill="#02fc02"/>
<path d="M761.5 280.0V303.0M759.0 280.5H764.0M759.0 302.5H764.0" stroke="#000" stroke-width="1" fill="none"/>
<rect x="760.0" y="282" width="3" height="15.0" fill="#02fc02"/>
<path d="M772.5 279.0V302.0M770.0 279.5H775.0M770.0 301.5H775.0" stroke="#000" stroke-width="1" fill="none"/>
<rect x="771.0" y="282" width="3" height="6.0" fill="#02fc02"/>
<path d="M783.5 266.0V293.0M781.0 266.5H786.0M781.0 292.5H786.0" stroke="#000" stroke-width="1" fill="none"/>
<rect x="782.0" y="266.4" width="3" height="9.6" fill="#02fc02"/>
<path d="M794.5 242.0V276.0M792.0 242.5H797.0M792.0 275.5H797.0" stroke="#000" stroke-width="1" fill="none"/>
<rect x="793.0" y="264" width="3" height="11.4" fill="#fc0202"/>
<path d="M805.5 270.0V307.0M803.0 270.5H808.0M803.0 306.5H808.0" stroke="#000" stroke-width="1" fill="none"/>
<rect x="804.0" y="271" width="3" height="34.6" fill="#fc0202"/>
<path d="M816.5 298.0V322.0M814.0 298.5H819.0M814.0 321.5H819.0" stroke="#000" stroke-width="1" fill="none"/>
<rect x="815.0" y="306" width="3" height="5.6" fill="#02fc02"/>
<path d="M827.5 287.0V321.0M825.0 287.5H830.0M825.0 320.5H830.0" stroke="#000" stroke-width="1" fill="none"/>
<rect x="826.0" y="287.4" width="3" height="19.6" fill="#02fc02"/>
<path d="M838.5 281.0V308.0M836.0 281.5H841.0M836.0 307.5H841.0" stroke="#000" stroke-width="1" fill="none"/>
<rect x="837.0" y="289" width="3" height="10.0" fill="#02fc02"/>
<path d="M849.5 281.0V305.0M847.0 281.5H852.0M847.0 304.5H852.0" stroke="#000" stroke-width="1" fill="none"/>
<rect x="848.0" y="287" width="3" height="13.0" fill="#02fc02"/>
<path d="M860.5 270.0V303.0M858.0 270.5H863.0M858.0 302.5H863.0" stroke="#000" stroke-width="1" fill="none"/>
<rect x="859.0" y="273" width="3" height="23.0" fill="#fc0202"/>
<path d="M871.5 297.0V319.0M869.0 297.5H874.0M869.0 318.5H874.0" stroke="#000" stroke-width="1" fill="none"/>
<rect x="870.0" y="301" width="3" height="10.0" fill="#fc0202"/>
<path d="M882.5 290.0V321.0M880.0 290.5H885.0M880.0 320.5H885.0" stroke="#000" stroke-width="1" fill="none"/>
<rect x="881.0" y="300" width="3" height="20.4" fill="#02fc02"/>
<path d="M892.5 307.0V327.0M890.0 307.5H895.0M890.0 326.5H895.0" stroke="#000" stroke-width="1" fill="none"/>
<rect x="891.0" y="307.4" width="3" height="14.6" fill="#fc0202"/>
<path d="M903.5 291.0V322.0M901.0 291.5H906.0M901.0 321.5H906.0" stroke="#000" stroke-width="1" fill="none"/>
<rect x="902.0" y="300" width="3" height="18.0" fill="#fc0202"/>
<path d="M914.5 312.0V346.0M912.0 312.5H917.0M912.0 345.5H917.0" stroke="#000" stroke-width="1" fill="none"/>
<rect x="913.0" y="321" width="3" height="11.0" fill="#fc0202"/>
<path d="M925.5 323.0V394.0M923.0 323.5H928.0M923.0 393.5H928.0" stroke="#000" stroke-width="1" fill="none"/>
<rect x="924.0" y="323" width="3" height="68.0" fill="#02fc02"/>
<path d="M936.5 108.0V228.0M934.0 108.5H939.0M934.0 227.5H939.0" stroke="#000" stroke-width="1" fill="none"/>
<rect x="935.0" y="150" width="3" height="77.0" fill="#02fc02"/>
<path d="M947.5 120.0V175.0M945.0 120.5H950.0M945.0 174.5H950.0" stroke="#000" stroke-width="1" fill="none"/>
<rect x="946.0" y="145" width="3" height="24.0" fill="#fc0202"/>
<path d="M958.5 132.0V175.0M956.0 132.5H961.0M956.0 174.5H961.0" stroke="#000" stroke-width="1" fill="none"/>
<rect x="957.0" y="147" width="3" height="17.0" fill="#fc0202"/>
<path d="M969.5 145.0V212.0M967.0 145.5H972.0M967.0 211.5H972.0" stroke="#000" stroke-width="1" fill="none"/>
<rect x="968.0" y="149" width="3" height="59.4" fill="#fc0202"/>
<path d="M980.5 181.0V220.0M978.0 181.5H983.0M978.0 219.5H983.0" stroke="#000" stroke-width="1" fill="none"/>
<rect x="979.0" y="203" width="3" height="3.0" fill="#fc0202"/>
<path d="M991.5 192.0V231.0M989.0 192.5H994.0M989.0 230.5H994.0" stroke="#000" stroke-width="1" fill="none"/>
<rect x="990.0" y="197" width="3" height="17.0" fill="#fc0202"/>
<path d="M1002.5 214.0V294.0M1000.0 214.5H1005.0M1000.0 293.5H1005.0" stroke="#000" stroke-width="1" fill="none"/>
<rect x="1001.0" y="216" width="3" height="77.4" fill="#fc0202"/>
<path d="M1013.5 288.0V317.0M1011.0 288.5H1016.0M1011.0 316.5H1016.0" stroke="#000" stroke-width="1" fill="none"/>
<rect x="1012.0" y="295" width="3" height="21.0" fill="#fc0202"/>
<path d="M1024.5 290.0V334.0M1022.0 290.5H1027.0M1022.0 333.5H1027.0" stroke="#000" stroke-width="1" fill="none"/>
<rect x="1023.0" y="308.3" width="3" height="11.5" fill="#fc0202"/>
<path d="M1035.5 304.0V344.0M1033.0 304.5H1038.0M1033.0 343.5H1038.0" stroke="#000" stroke-width="1" fill="none"/>
<rect x="1034.0" y="321.2" width="3" height="22.5" fill="#fc0202"/>
<path d="M1046.5 336.0V365.0M1044.0 336.5H1049.0M1044.0 364.5H1049.0" stroke="#000" stroke-width="1" fill="none"/>
<rect x="1045.0" y="336.7" width="3" height="20.0" fill="#fc0202"/>
<path d="M1057.5 352.0V378.0M1055.0 352.5H1060.0M1055.0 377.5H1060.0" stroke="#000" stroke-width="1" fill="none"/>
<rect x="1056.0" y="352.8" width="3" height="13.9" fill="#fc0202"/>
<path d="M1067.5 325.0V339.0M1065.0 325.5H1070.0M1065.0 338.5H1070.0" stroke="#000" stroke-width="1" fill="none"/>
<rect x="1066.0" y="332" width="3" height="1.8" fill="#fc0202"/>
<path d="M1078.5 322.0V352.0M1076.0 322.5H1081.0M1076.0 351.5H1081.0" stroke="#000" stroke-width="1" fill="none"/>
<rect x="1077.0" y="333.3" width="3" height="3.4" fill="#02fc02"/>
<path d="M1089.5 347.0V390.0M1087.0 347.5H1092.0M1087.0 389.5H1092.0" stroke="#000" stroke-width="1" fill="none"/>
<rect x="1088.0" y="347.5" width="3" height="26.2" fill="#fc0202"/>
<path d="M1100.5 344.0V390.0M1098.0 344.5H1103.0M1098.0 389.5H1103.0" stroke="#000" stroke-width="1" fill="none"/>
<rect x="1099.0" y="368.3" width="3" height="10.4" fill="#02fc02"/>
<path d="M1111.5 343.0V375.0M1109.0 343.5H1114.0M1109.0 374.5H1114.0" stroke="#000" stroke-width="1" fill="none"/>
<rect x="1110.0" y="343.3" width="3" height="17.2" fill="#02fc02"/>
<path d="M1122.5 327.0V358.0M1120.0 327.5H1125.0M1120.0 357.5H1125.0" stroke="#000" stroke-width="1" fill="none"/>
<rect x="1121.0" y="329.2" width="3" height="20.3" fill="#fc0202"/>
<path d="M1133.5 344.0V369.0M1131.0 344.5H1136.0M1131.0 368.5H1136.0" stroke="#000" stroke-width="1" fill="none"/>
<rect x="1132.0" y="359.2" width="3" height="1.6" fill="#fc0202"/>
<path d="M1144.5 291.0V349.0M1142.0 291.5H1147.0M1142.0 348.5H1147.0" stroke="#000" stroke-width="1" fill="none"/>
<rect x="1143.0" y="295" width="3" height="53.3" fill="#02fc02"/>
<rect x="551.3" y="51" width="5.8" height="5.8" fill="#000" fill-opacity="0.13"/><rect x="550.3" y="50" width="5.8" height="5.8" fill="#d06464"/>
<text x="560.80" y="56.00" font-size="11" text-anchor="start" fill="#000"  textLength="54.40" lengthAdjust="spacingAndGlyphs">Support 1</text>
<rect x="620.2" y="51" width="5.8" height="5.8" fill="#000" fill-opacity="0.13"/><rect x="619.2" y="50" width="5.8" height="5.8" fill="#b86a6a"/>
<text x="629.30" y="56.00" font-size="11" text-anchor="start" fill="#000"  textLength="54.70" lengthAdjust="spacingAndGlyphs">Support 2</text>
<rect x="689.5" y="51" width="5.8" height="5.8" fill="#000" fill-opacity="0.13"/><rect x="688.5" y="50" width="5.8" height="5.8" fill="#a06a6a"/>
<text x="698.70" y="56.00" font-size="11" text-anchor="start" fill="#000"  textLength="54.60" lengthAdjust="spacingAndGlyphs">Support 3</text>
<rect x="757.8" y="51" width="5.8" height="5.8" fill="#000" fill-opacity="0.13"/><rect x="756.8" y="50" width="5.8" height="5.8" fill="#66cc66"/>
<text x="767.20" y="58.00" font-size="11" text-anchor="start" fill="#000"  textLength="70.70" lengthAdjust="spacingAndGlyphs">Résistance 1</text>
<rect x="843.0" y="51" width="5.8" height="5.8" fill="#000" fill-opacity="0.13"/><rect x="842.0" y="50" width="5.8" height="5.8" fill="#66aa66"/>
<text x="852.50" y="58.00" font-size="11" text-anchor="start" fill="#000"  textLength="71.00" lengthAdjust="spacingAndGlyphs">Résistance 2</text>
<rect x="928.5" y="51" width="5.8" height="5.8" fill="#000" fill-opacity="0.13"/><rect x="927.5" y="50" width="5.8" height="5.8" fill="#669466"/>
<text x="937.90" y="58.00" font-size="11" text-anchor="start" fill="#000"  textLength="71.00" lengthAdjust="spacingAndGlyphs">Résistance 3</text>
<rect x="1013.5" y="51" width="5.8" height="5.8" fill="#000" fill-opacity="0.13"/><rect x="1012.5" y="50" width="5.8" height="5.8" fill="#6a6af2"/>
<text x="1022.70" y="57.00" font-size="11" text-anchor="start" fill="#000"  textLength="30.60" lengthAdjust="spacingAndGlyphs">MM20</text>
<rect x="1058.3" y="51" width="5.8" height="5.8" fill="#000" fill-opacity="0.13"/><rect x="1057.3" y="50" width="5.8" height="5.8" fill="#c080f2"/>
<text x="1067.50" y="57.00" font-size="11" text-anchor="start" fill="#000"  textLength="30.60" lengthAdjust="spacingAndGlyphs">MM50</text>
<rect x="1103.1" y="51" width="5.8" height="5.8" fill="#000" fill-opacity="0.13"/><rect x="1102.1" y="50" width="5.8" height="5.8" fill="#ff84f2"/>
<text x="1112.50" y="57.00" font-size="11" text-anchor="start" fill="#000"  textLength="37.60" lengthAdjust="spacingAndGlyphs">MM100</text>
<line x1="100.5" y1="52" x2="100.5" y2="601" stroke="#000" stroke-width="1"/>
<polygon points="100.5,53 96.9,60 104.1,60" fill="#000"/>
<line x1="100" y1="600.5" x2="1163" y2="600.5" stroke="#000" stroke-width="1"/>
<polygon points="1162,600.5 1155,596.9 1155,604.1" fill="#000"/>
<line x1="98" y1="65.5" x2="103" y2="65.5" stroke="#000" stroke-width="1"/>
<text x="98.40" y="69.90" font-size="10.8" text-anchor="end" fill="#000"  textLength="31.00" lengthAdjust="spacingAndGlyphs">20.50</text>
<line x1="98" y1="91.5" x2="101" y2="91.5" stroke="#f00" stroke-width="1"/>
<line x1="98" y1="118.5" x2="103" y2="118.5" stroke="#000" stroke-width="1"/>
<text x="98.40" y="122.90" font-size="10.8" text-anchor="end" fill="#000"  textLength="31.00" lengthAdjust="spacingAndGlyphs">20.00</text>
<line x1="98" y1="145.5" x2="101" y2="145.5" stroke="#f00" stroke-width="1"/>
<line x1="98" y1="172.5" x2="103" y2="172.5" stroke="#000" stroke-width="1"/>
<text x="98.40" y="176.90" font-size="10.8" text-anchor="end" fill="#000"  textLength="31.00" lengthAdjust="spacingAndGlyphs">19.50</text>
<line x1="98" y1="198.5" x2="101" y2="198.5" stroke="#f00" stroke-width="1"/>
<line x1="98" y1="225.5" x2="103" y2="225.5" stroke="#000" stroke-width="1"/>
<text x="98.40" y="229.90" font-size="10.8" text-anchor="end" fill="#000"  textLength="31.00" lengthAdjust="spacingAndGlyphs">19.00</text>
<line x1="98" y1="252.5" x2="101" y2="252.5" stroke="#f00" stroke-width="1"/>
<line x1="98" y1="279.5" x2="103" y2="279.5" stroke="#000" stroke-width="1"/>
<text x="98.40" y="283.90" font-size="10.8" text-anchor="end" fill="#000"  textLength="31.00" lengthAdjust="spacingAndGlyphs">18.50</text>
<line x1="98" y1="305.5" x2="101" y2="305.5" stroke="#f00" stroke-width="1"/>
<line x1="98" y1="332.5" x2="103" y2="332.5" stroke="#000" stroke-width="1"/>
<text x="98.40" y="336.90" font-size="10.8" text-anchor="end" fill="#000"  textLength="31.00" lengthAdjust="spacingAndGlyphs">18.00</text>
<line x1="98" y1="359.5" x2="101" y2="359.5" stroke="#f00" stroke-width="1"/>
<line x1="98" y1="386.5" x2="103" y2="386.5" stroke="#000" stroke-width="1"/>
<text x="98.40" y="390.90" font-size="10.8" text-anchor="end" fill="#000"  textLength="31.00" lengthAdjust="spacingAndGlyphs">17.50</text>
<line x1="98" y1="412.5" x2="101" y2="412.5" stroke="#f00" stroke-width="1"/>
<line x1="98" y1="439.5" x2="103" y2="439.5" stroke="#000" stroke-width="1"/>
<text x="98.40" y="443.90" font-size="10.8" text-anchor="end" fill="#000"  textLength="31.00" lengthAdjust="spacingAndGlyphs">17.00</text>
<line x1="98" y1="466.5" x2="101" y2="466.5" stroke="#f00" stroke-width="1"/>
<line x1="98" y1="493.5" x2="103" y2="493.5" stroke="#000" stroke-width="1"/>
<text x="98.40" y="497.90" font-size="10.8" text-anchor="end" fill="#000"  textLength="31.00" lengthAdjust="spacingAndGlyphs">16.50</text>
<line x1="98" y1="519.5" x2="101" y2="519.5" stroke="#f00" stroke-width="1"/>
<line x1="98" y1="546.5" x2="103" y2="546.5" stroke="#000" stroke-width="1"/>
<text x="98.40" y="550.90" font-size="10.8" text-anchor="end" fill="#000"  textLength="31.00" lengthAdjust="spacingAndGlyphs">16.00</text>
<line x1="98" y1="573.5" x2="101" y2="573.5" stroke="#f00" stroke-width="1"/>
<line x1="98" y1="600.5" x2="103" y2="600.5" stroke="#000" stroke-width="1"/>
<text x="98.40" y="604.90" font-size="10.8" text-anchor="end" fill="#000"  textLength="31.00" lengthAdjust="spacingAndGlyphs">15.50</text>
<line x1="105.5" y1="598" x2="105.5" y2="603" stroke="#000" stroke-width="1"/>
<text x="107.10" y="613.80" font-size="10.8" text-anchor="middle" fill="#000"  textLength="35.50" lengthAdjust="spacingAndGlyphs">27 Juil</text>
<line x1="116.5" y1="601" x2="116.5" y2="603" stroke="#c4c4c4" stroke-width="1"/>
<line x1="127.5" y1="601" x2="127.5" y2="603" stroke="#c4c4c4" stroke-width="1"/>
<line x1="138.5" y1="601" x2="138.5" y2="603" stroke="#c4c4c4" stroke-width="1"/>
<line x1="149.5" y1="601" x2="149.5" y2="603" stroke="#c4c4c4" stroke-width="1"/>
<line x1="160.5" y1="598" x2="160.5" y2="603" stroke="#000" stroke-width="1"/>
<text x="162.10" y="613.80" font-size="10.8" text-anchor="middle" fill="#000"  textLength="37.10" lengthAdjust="spacingAndGlyphs">3 Août</text>
<line x1="171.5" y1="601" x2="171.5" y2="603" stroke="#c4c4c4" stroke-width="1"/>
<line x1="182.5" y1="601" x2="182.5" y2="603" stroke="#c4c4c4" stroke-width="1"/>
<line x1="192.5" y1="601" x2="192.5" y2="603" stroke="#c4c4c4" stroke-width="1"/>
<line x1="203.5" y1="601" x2="203.5" y2="603" stroke="#c4c4c4" stroke-width="1"/>
<line x1="214.5" y1="598" x2="214.5" y2="603" stroke="#000" stroke-width="1"/>
<text x="216.10" y="613.80" font-size="10.8" text-anchor="middle" fill="#000"  textLength="43.80" lengthAdjust="spacingAndGlyphs">10 Août</text>
<line x1="225.5" y1="601" x2="225.5" y2="603" stroke="#c4c4c4" stroke-width="1"/>
<line x1="236.5" y1="601" x2="236.5" y2="603" stroke="#c4c4c4" stroke-width="1"/>
<line x1="247.5" y1="601" x2="247.5" y2="603" stroke="#c4c4c4" stroke-width="1"/>
<line x1="258.5" y1="601" x2="258.5" y2="603" stroke="#c4c4c4" stroke-width="1"/>
<line x1="269.5" y1="598" x2="269.5" y2="603" stroke="#000" stroke-width="1"/>
<text x="271.10" y="613.80" font-size="10.8" text-anchor="middle" fill="#000"  textLength="43.80" lengthAdjust="spacingAndGlyphs">17 Août</text>
<line x1="280.5" y1="601" x2="280.5" y2="603" stroke="#c4c4c4" stroke-width="1"/>
<line x1="291.5" y1="601" x2="291.5" y2="603" stroke="#c4c4c4" stroke-width="1"/>
<line x1="302.5" y1="601" x2="302.5" y2="603" stroke="#c4c4c4" stroke-width="1"/>
<line x1="313.5" y1="601" x2="313.5" y2="603" stroke="#c4c4c4" stroke-width="1"/>
<line x1="324.5" y1="598" x2="324.5" y2="603" stroke="#000" stroke-width="1"/>
<text x="326.10" y="613.80" font-size="10.8" text-anchor="middle" fill="#000"  textLength="43.80" lengthAdjust="spacingAndGlyphs">24 Août</text>
<line x1="335.5" y1="601" x2="335.5" y2="603" stroke="#c4c4c4" stroke-width="1"/>
<line x1="346.5" y1="601" x2="346.5" y2="603" stroke="#c4c4c4" stroke-width="1"/>
<line x1="357.5" y1="601" x2="357.5" y2="603" stroke="#c4c4c4" stroke-width="1"/>
<line x1="367.5" y1="601" x2="367.5" y2="603" stroke="#c4c4c4" stroke-width="1"/>
<line x1="378.5" y1="598" x2="378.5" y2="603" stroke="#000" stroke-width="1"/>
<text x="380.10" y="613.80" font-size="10.8" text-anchor="middle" fill="#000"  textLength="43.80" lengthAdjust="spacingAndGlyphs">31 Août</text>
<line x1="389.5" y1="601" x2="389.5" y2="603" stroke="#c4c4c4" stroke-width="1"/>
<line x1="400.5" y1="601" x2="400.5" y2="603" stroke="#c4c4c4" stroke-width="1"/>
<line x1="411.5" y1="601" x2="411.5" y2="603" stroke="#c4c4c4" stroke-width="1"/>
<line x1="422.5" y1="601" x2="422.5" y2="603" stroke="#c4c4c4" stroke-width="1"/>
<line x1="433.5" y1="598" x2="433.5" y2="603" stroke="#000" stroke-width="1"/>
<text x="435.10" y="612.80" font-size="10.8" text-anchor="middle" fill="#000"  textLength="36.90" lengthAdjust="spacingAndGlyphs">7 Sept</text>
<line x1="444.5" y1="601" x2="444.5" y2="603" stroke="#c4c4c4" stroke-width="1"/>
<line x1="455.5" y1="601" x2="455.5" y2="603" stroke="#c4c4c4" stroke-width="1"/>
<line x1="466.5" y1="601" x2="466.5" y2="603" stroke="#c4c4c4" stroke-width="1"/>
<line x1="477.5" y1="601" x2="477.5" y2="603" stroke="#c4c4c4" stroke-width="1"/>
<line x1="488.5" y1="598" x2="488.5" y2="603" stroke="#000" stroke-width="1"/>
<text x="490.10" y="612.80" font-size="10.8" text-anchor="middle" fill="#000"  textLength="44.20" lengthAdjust="spacingAndGlyphs">14 Sept</text>
<line x1="499.5" y1="601" x2="499.5" y2="603" stroke="#c4c4c4" stroke-width="1"/>
<line x1="510.5" y1="601" x2="510.5" y2="603" stroke="#c4c4c4" stroke-width="1"/>
<line x1="521.5" y1="601" x2="521.5" y2="603" stroke="#c4c4c4" stroke-width="1"/>
<line x1="532.5" y1="601" x2="532.5" y2="603" stroke="#c4c4c4" stroke-width="1"/>
<line x1="542.5" y1="598" x2="542.5" y2="603" stroke="#000" stroke-width="1"/>
<text x="544.10" y="612.80" font-size="10.8" text-anchor="middle" fill="#000"  textLength="44.20" lengthAdjust="spacingAndGlyphs">21 Sept</text>
<line x1="553.5" y1="601" x2="553.5" y2="603" stroke="#c4c4c4" stroke-width="1"/>
<line x1="564.5" y1="601" x2="564.5" y2="603" stroke="#c4c4c4" stroke-width="1"/>
<line x1="575.5" y1="601" x2="575.5" y2="603" stroke="#c4c4c4" stroke-width="1"/>
<line x1="586.5" y1="601" x2="586.5" y2="603" stroke="#c4c4c4" stroke-width="1"/>
<line x1="597.5" y1="598" x2="597.5" y2="603" stroke="#000" stroke-width="1"/>
<text x="599.10" y="612.80" font-size="10.8" text-anchor="middle" fill="#000"  textLength="44.20" lengthAdjust="spacingAndGlyphs">28 Sept</text>
<line x1="608.5" y1="601" x2="608.5" y2="603" stroke="#c4c4c4" stroke-width="1"/>
<line x1="619.5" y1="601" x2="619.5" y2="603" stroke="#c4c4c4" stroke-width="1"/>
<line x1="630.5" y1="601" x2="630.5" y2="603" stroke="#c4c4c4" stroke-width="1"/>
<line x1="641.5" y1="601" x2="641.5" y2="603" stroke="#c4c4c4" stroke-width="1"/>
<line x1="652.5" y1="598" x2="652.5" y2="603" stroke="#000" stroke-width="1"/>
<text x="654.10" y="612.80" font-size="10.8" text-anchor="middle" fill="#000"  textLength="29.50" lengthAdjust="spacingAndGlyphs">5 Oct</text>
<line x1="663.5" y1="601" x2="663.5" y2="603" stroke="#c4c4c4" stroke-width="1"/>
<line x1="674.5" y1="601" x2="674.5" y2="603" stroke="#c4c4c4" stroke-width="1"/>
<line x1="685.5" y1="601" x2="685.5" y2="603" stroke="#c4c4c4" stroke-width="1"/>
<line x1="696.5" y1="601" x2="696.5" y2="603" stroke="#c4c4c4" stroke-width="1"/>
<line x1="707.5" y1="598" x2="707.5" y2="603" stroke="#000" stroke-width="1"/>
<text x="709.10" y="612.80" font-size="10.8" text-anchor="middle" fill="#000"  textLength="36.90" lengthAdjust="spacingAndGlyphs">12 Oct</text>
<line x1="717.5" y1="601" x2="717.5" y2="603" stroke="#c4c4c4" stroke-width="1"/>
<line x1="728.5" y1="601" x2="728.5" y2="603" stroke="#c4c4c4" stroke-width="1"/>
<line x1="739.5" y1="601" x2="739.5" y2="603" stroke="#c4c4c4" stroke-width="1"/>
<line x1="750.5" y1="601" x2="750.5" y2="603" stroke="#c4c4c4" stroke-width="1"/>
<line x1="761.5" y1="598" x2="761.5" y2="603" stroke="#000" stroke-width="1"/>
<text x="763.10" y="612.80" font-size="10.8" text-anchor="middle" fill="#000"  textLength="36.90" lengthAdjust="spacingAndGlyphs">19 Oct</text>
<line x1="772.5" y1="601" x2="772.5" y2="603" stroke="#c4c4c4" stroke-width="1"/>
<line x1="783.5" y1="601" x2="783.5" y2="603" stroke="#c4c4c4" stroke-width="1"/>
<line x1="794.5" y1="601" x2="794.5" y2="603" stroke="#c4c4c4" stroke-width="1"/>
<line x1="805.5" y1="601" x2="805.5" y2="603" stroke="#c4c4c4" stroke-width="1"/>
<line x1="816.5" y1="598" x2="816.5" y2="603" stroke="#000" stroke-width="1"/>
<text x="818.10" y="612.80" font-size="10.8" text-anchor="middle" fill="#000"  textLength="36.90" lengthAdjust="spacingAndGlyphs">26 Oct</text>
<line x1="827.5" y1="601" x2="827.5" y2="603" stroke="#c4c4c4" stroke-width="1"/>
<line x1="838.5" y1="601" x2="838.5" y2="603" stroke="#c4c4c4" stroke-width="1"/>
<line x1="849.5" y1="601" x2="849.5" y2="603" stroke="#c4c4c4" stroke-width="1"/>
<line x1="860.5" y1="601" x2="860.5" y2="603" stroke="#c4c4c4" stroke-width="1"/>
<line x1="871.5" y1="598" x2="871.5" y2="603" stroke="#000" stroke-width="1"/>
<text x="873.10" y="612.80" font-size="10.8" text-anchor="middle" fill="#000"  textLength="31.70" lengthAdjust="spacingAndGlyphs">2 Nov</text>
<line x1="882.5" y1="601" x2="882.5" y2="603" stroke="#c4c4c4" stroke-width="1"/>
<line x1="892.5" y1="601" x2="892.5" y2="603" stroke="#c4c4c4" stroke-width="1"/>
<line x1="903.5" y1="601" x2="903.5" y2="603" stroke="#c4c4c4" stroke-width="1"/>
<line x1="914.5" y1="601" x2="914.5" y2="603" stroke="#c4c4c4" stroke-width="1"/>
<line x1="925.5" y1="598" x2="925.5" y2="603" stroke="#000" stroke-width="1"/>
<text x="927.10" y="612.80" font-size="10.8" text-anchor="middle" fill="#000"  textLength="31.70" lengthAdjust="spacingAndGlyphs">9 Nov</text>
<line x1="936.5" y1="601" x2="936.5" y2="603" stroke="#c4c4c4" stroke-width="1"/>
<line x1="947.5" y1="601" x2="947.5" y2="603" stroke="#c4c4c4" stroke-width="1"/>
<line x1="958.5" y1="601" x2="958.5" y2="603" stroke="#c4c4c4" stroke-width="1"/>
<line x1="969.5" y1="601" x2="969.5" y2="603" stroke="#c4c4c4" stroke-width="1"/>
<line x1="980.5" y1="598" x2="980.5" y2="603" stroke="#000" stroke-width="1"/>
<text x="982.10" y="612.80" font-size="10.8" text-anchor="middle" fill="#000"  textLength="38.70" lengthAdjust="spacingAndGlyphs">16 Nov</text>
<line x1="991.5" y1="601" x2="991.5" y2="603" stroke="#c4c4c4" stroke-width="1"/>
<line x1="1002.5" y1="601" x2="1002.5" y2="603" stroke="#c4c4c4" stroke-width="1"/>
<line x1="1013.5" y1="601" x2="1013.5" y2="603" stroke="#c4c4c4" stroke-width="1"/>
<line x1="1024.5" y1="601" x2="1024.5" y2="603" stroke="#c4c4c4" stroke-width="1"/>
<line x1="1035.5" y1="598" x2="1035.5" y2="603" stroke="#000" stroke-width="1"/>
<text x="1037.10" y="612.80" font-size="10.8" text-anchor="middle" fill="#000"  textLength="38.70" lengthAdjust="spacingAndGlyphs">23 Nov</text>
<line x1="1046.5" y1="601" x2="1046.5" y2="603" stroke="#c4c4c4" stroke-width="1"/>
<line x1="1057.5" y1="601" x2="1057.5" y2="603" stroke="#c4c4c4" stroke-width="1"/>
<line x1="1067.5" y1="601" x2="1067.5" y2="603" stroke="#c4c4c4" stroke-width="1"/>
<line x1="1078.5" y1="601" x2="1078.5" y2="603" stroke="#c4c4c4" stroke-width="1"/>
<line x1="1089.5" y1="598" x2="1089.5" y2="603" stroke="#000" stroke-width="1"/>
<text x="1091.10" y="613.80" font-size="10.8" text-anchor="middle" fill="#000"  textLength="32.70" lengthAdjust="spacingAndGlyphs">2 Déc</text>
<line x1="1100.5" y1="601" x2="1100.5" y2="603" stroke="#c4c4c4" stroke-width="1"/>
<line x1="1111.5" y1="601" x2="1111.5" y2="603" stroke="#c4c4c4" stroke-width="1"/>
<line x1="1122.5" y1="601" x2="1122.5" y2="603" stroke="#c4c4c4" stroke-width="1"/>
<line x1="1133.5" y1="601" x2="1133.5" y2="603" stroke="#c4c4c4" stroke-width="1"/>
<line x1="1144.5" y1="598" x2="1144.5" y2="603" stroke="#000" stroke-width="1"/>
<text x="1146.10" y="613.80" font-size="10.8" text-anchor="middle" fill="#000"  textLength="32.70" lengthAdjust="spacingAndGlyphs">9 Déc</text>
<text x="626.30" y="626.60" font-size="10.8" text-anchor="middle" fill="#000"  textLength="264.50" lengthAdjust="spacingAndGlyphs">Date (du 27 Juillet 2016 au 9 Décembre 2016)</text>
<text x="111.00" y="34.90" font-size="25" text-anchor="start" fill="#000"  textLength="572.50" lengthAdjust="spacingAndGlyphs">Vivendi: graphique du cours - AnalyBourse.com</text>
<text transform="translate(62.3,330.3) rotate(-90)" font-size="10.8" text-anchor="middle" textLength="72.8" lengthAdjust="spacingAndGlyphs">Cours (Euro)</text>
<rect x="101" y="725.5" width="1049.8" height="21.0" fill="#f9f9f9"/>
<rect x="101" y="768.5" width="1049.8" height="22.0" fill="#f9f9f9"/>
<rect x="101" y="812.5" width="1049.8" height="22.0" fill="#f9f9f9"/>
<rect x="101" y="856.5" width="1049.8" height="22.0" fill="#f9f9f9"/>
<line x1="105.5" y1="725" x2="105.5" y2="900" stroke="#000" stroke-opacity="0.09" stroke-dasharray="4 4" stroke-width="1" stroke-dashoffset="1"/>
<line x1="116.5" y1="725" x2="116.5" y2="900" stroke="#000" stroke-opacity="0.022" stroke-dasharray="6 6" stroke-width="1" stroke-dashoffset="1"/>
<line x1="127.5" y1="725" x2="127.5" y2="900" stroke="#000" stroke-opacity="0.022" stroke-dasharray="6 6" stroke-width="1" stroke-dashoffset="1"/>
<line x1="138.5" y1="725" x2="138.5" y2="900" stroke="#000" stroke-opacity="0.022" stroke-dasharray="6 6" stroke-width="1" stroke-dashoffset="1"/>
<line x1="149.5" y1="725" x2="149.5" y2="900" stroke="#000" stroke-opacity="0.022" stroke-dasharray="6 6" stroke-width="1" stroke-dashoffset="1"/>
<line x1="160.5" y1="725" x2="160.5" y2="900" stroke="#000" stroke-opacity="0.09" stroke-dasharray="4 4" stroke-width="1" stroke-dashoffset="1"/>
<line x1="171.5" y1="725" x2="171.5" y2="900" stroke="#000" stroke-opacity="0.022" stroke-dasharray="6 6" stroke-width="1" stroke-dashoffset="1"/>
<line x1="182.5" y1="725" x2="182.5" y2="900" stroke="#000" stroke-opacity="0.022" stroke-dasharray="6 6" stroke-width="1" stroke-dashoffset="1"/>
<line x1="192.5" y1="725" x2="192.5" y2="900" stroke="#000" stroke-opacity="0.022" stroke-dasharray="6 6" stroke-width="1" stroke-dashoffset="1"/>
<line x1="203.5" y1="725" x2="203.5" y2="900" stroke="#000" stroke-opacity="0.022" stroke-dasharray="6 6" stroke-width="1" stroke-dashoffset="1"/>
<line x1="214.5" y1="725" x2="214.5" y2="900" stroke="#000" stroke-opacity="0.09" stroke-dasharray="4 4" stroke-width="1" stroke-dashoffset="1"/>
<line x1="225.5" y1="725" x2="225.5" y2="900" stroke="#000" stroke-opacity="0.022" stroke-dasharray="6 6" stroke-width="1" stroke-dashoffset="1"/>
<line x1="236.5" y1="725" x2="236.5" y2="900" stroke="#000" stroke-opacity="0.022" stroke-dasharray="6 6" stroke-width="1" stroke-dashoffset="1"/>
<line x1="247.5" y1="725" x2="247.5" y2="900" stroke="#000" stroke-opacity="0.022" stroke-dasharray="6 6" stroke-width="1" stroke-dashoffset="1"/>
<line x1="258.5" y1="725" x2="258.5" y2="900" stroke="#000" stroke-opacity="0.022" stroke-dasharray="6 6" stroke-width="1" stroke-dashoffset="1"/>
<line x1="269.5" y1="725" x2="269.5" y2="900" stroke="#000" stroke-opacity="0.09" stroke-dasharray="4 4" stroke-width="1" stroke-dashoffset="1"/>
<line x1="280.5" y1="725" x2="280.5" y2="900" stroke="#000" stroke-opacity="0.022" stroke-dasharray="6 6" stroke-width="1" stroke-dashoffset="1"/>
<line x1="291.5" y1="725" x2="291.5" y2="900" stroke="#000" stroke-opacity="0.022" stroke-dasharray="6 6" stroke-width="1" stroke-dashoffset="1"/>
<line x1="302.5" y1="725" x2="302.5" y2="900" stroke="#000" stroke-opacity="0.022" stroke-dasharray="6 6" stroke-width="1" stroke-dashoffset="1"/>
<line x1="313.5" y1="725" x2="313.5" y2="900" stroke="#000" stroke-opacity="0.022" stroke-dasharray="6 6" stroke-width="1" stroke-dashoffset="1"/>
<line x1="324.5" y1="725" x2="324.5" y2="900" stroke="#000" stroke-opacity="0.09" stroke-dasharray="4 4" stroke-width="1" stroke-dashoffset="1"/>
<line x1="335.5" y1="725" x2="335.5" y2="900" stroke="#000" stroke-opacity="0.022" stroke-dasharray="6 6" stroke-width="1" stroke-dashoffset="1"/>
<line x1="346.5" y1="725" x2="346.5" y2="900" stroke="#000" stroke-opacity="0.022" stroke-dasharray="6 6" stroke-width="1" stroke-dashoffset="1"/>
<line x1="357.5" y1="725" x2="357.5" y2="900" stroke="#000" stroke-opacity="0.022" stroke-dasharray="6 6" stroke-width="1" stroke-dashoffset="1"/>
<line x1="367.5" y1="725" x2="367.5" y2="900" stroke="#000" stroke-opacity="0.022" stroke-dasharray="6 6" stroke-width="1" stroke-dashoffset="1"/>
<line x1="378.5" y1="725" x2="378.5" y2="900" stroke="#000" stroke-opacity="0.09" stroke-dasharray="4 4" stroke-width="1" stroke-dashoffset="1"/>
<line x1="389.5" y1="725" x2="389.5" y2="900" stroke="#000" stroke-opacity="0.022" stroke-dasharray="6 6" stroke-width="1" stroke-dashoffset="1"/>
<line x1="400.5" y1="725" x2="400.5" y2="900" stroke="#000" stroke-opacity="0.022" stroke-dasharray="6 6" stroke-width="1" stroke-dashoffset="1"/>
<line x1="411.5" y1="725" x2="411.5" y2="900" stroke="#000" stroke-opacity="0.022" stroke-dasharray="6 6" stroke-width="1" stroke-dashoffset="1"/>
<line x1="422.5" y1="725" x2="422.5" y2="900" stroke="#000" stroke-opacity="0.022" stroke-dasharray="6 6" stroke-width="1" stroke-dashoffset="1"/>
<line x1="433.5" y1="725" x2="433.5" y2="900" stroke="#000" stroke-opacity="0.09" stroke-dasharray="4 4" stroke-width="1" stroke-dashoffset="1"/>
<line x1="444.5" y1="725" x2="444.5" y2="900" stroke="#000" stroke-opacity="0.022" stroke-dasharray="6 6" stroke-width="1" stroke-dashoffset="1"/>
<line x1="455.5" y1="725" x2="455.5" y2="900" stroke="#000" stroke-opacity="0.022" stroke-dasharray="6 6" stroke-width="1" stroke-dashoffset="1"/>
<line x1="466.5" y1="725" x2="466.5" y2="900" stroke="#000" stroke-opacity="0.022" stroke-dasharray="6 6" stroke-width="1" stroke-dashoffset="1"/>
<line x1="477.5" y1="725" x2="477.5" y2="900" stroke="#000" stroke-opacity="0.022" stroke-dasharray="6 6" stroke-width="1" stroke-dashoffset="1"/>
<line x1="488.5" y1="725" x2="488.5" y2="900" stroke="#000" stroke-opacity="0.09" stroke-dasharray="4 4" stroke-width="1" stroke-dashoffset="1"/>
<line x1="499.5" y1="725" x2="499.5" y2="900" stroke="#000" stroke-opacity="0.022" stroke-dasharray="6 6" stroke-width="1" stroke-dashoffset="1"/>
<line x1="510.5" y1="725" x2="510.5" y2="900" stroke="#000" stroke-opacity="0.022" stroke-dasharray="6 6" stroke-width="1" stroke-dashoffset="1"/>
<line x1="521.5" y1="725" x2="521.5" y2="900" stroke="#000" stroke-opacity="0.022" stroke-dasharray="6 6" stroke-width="1" stroke-dashoffset="1"/>
<line x1="532.5" y1="725" x2="532.5" y2="900" stroke="#000" stroke-opacity="0.022" stroke-dasharray="6 6" stroke-width="1" stroke-dashoffset="1"/>
<line x1="542.5" y1="725" x2="542.5" y2="900" stroke="#000" stroke-opacity="0.09" stroke-dasharray="4 4" stroke-width="1" stroke-dashoffset="1"/>
<line x1="553.5" y1="725" x2="553.5" y2="900" stroke="#000" stroke-opacity="0.022" stroke-dasharray="6 6" stroke-width="1" stroke-dashoffset="1"/>
<line x1="564.5" y1="725" x2="564.5" y2="900" stroke="#000" stroke-opacity="0.022" stroke-dasharray="6 6" stroke-width="1" stroke-dashoffset="1"/>
<line x1="575.5" y1="725" x2="575.5" y2="900" stroke="#000" stroke-opacity="0.022" stroke-dasharray="6 6" stroke-width="1" stroke-dashoffset="1"/>
<line x1="586.5" y1="725" x2="586.5" y2="900" stroke="#000" stroke-opacity="0.022" stroke-dasharray="6 6" stroke-width="1" stroke-dashoffset="1"/>
<line x1="597.5" y1="725" x2="597.5" y2="900" stroke="#000" stroke-opacity="0.09" stroke-dasharray="4 4" stroke-width="1" stroke-dashoffset="1"/>
<line x1="608.5" y1="725" x2="608.5" y2="900" stroke="#000" stroke-opacity="0.022" stroke-dasharray="6 6" stroke-width="1" stroke-dashoffset="1"/>
<line x1="619.5" y1="725" x2="619.5" y2="900" stroke="#000" stroke-opacity="0.022" stroke-dasharray="6 6" stroke-width="1" stroke-dashoffset="1"/>
<line x1="630.5" y1="725" x2="630.5" y2="900" stroke="#000" stroke-opacity="0.022" stroke-dasharray="6 6" stroke-width="1" stroke-dashoffset="1"/>
<line x1="641.5" y1="725" x2="641.5" y2="900" stroke="#000" stroke-opacity="0.022" stroke-dasharray="6 6" stroke-width="1" stroke-dashoffset="1"/>
<line x1="652.5" y1="725" x2="652.5" y2="900" stroke="#000" stroke-opacity="0.09" stroke-dasharray="4 4" stroke-width="1" stroke-dashoffset="1"/>
<line x1="663.5" y1="725" x2="663.5" y2="900" stroke="#000" stroke-opacity="0.022" stroke-dasharray="6 6" stroke-width="1" stroke-dashoffset="1"/>
<line x1="674.5" y1="725" x2="674.5" y2="900" stroke="#000" stroke-opacity="0.022" stroke-dasharray="6 6" stroke-width="1" stroke-dashoffset="1"/>
<line x1="685.5" y1="725" x2="685.5" y2="900" stroke="#000" stroke-opacity="0.022" stroke-dasharray="6 6" stroke-width="1" stroke-dashoffset="1"/>
<line x1="696.5" y1="725" x2="696.5" y2="900" stroke="#000" stroke-opacity="0.022" stroke-dasharray="6 6" stroke-width="1" stroke-dashoffset="1"/>
<line x1="707.5" y1="725" x2="707.5" y2="900" stroke="#000" stroke-opacity="0.09" stroke-dasharray="4 4" stroke-width="1" stroke-dashoffset="1"/>
<line x1="717.5" y1="725" x2="717.5" y2="900" stroke="#000" stroke-opacity="0.022" stroke-dasharray="6 6" stroke-width="1" stroke-dashoffset="1"/>
<line x1="728.5" y1="725" x2="728.5" y2="900" stroke="#000" stroke-opacity="0.022" stroke-dasharray="6 6" stroke-width="1" stroke-dashoffset="1"/>
<line x1="739.5" y1="725" x2="739.5" y2="900" stroke="#000" stroke-opacity="0.022" stroke-dasharray="6 6" stroke-width="1" stroke-dashoffset="1"/>
<line x1="750.5" y1="725" x2="750.5" y2="900" stroke="#000" stroke-opacity="0.022" stroke-dasharray="6 6" stroke-width="1" stroke-dashoffset="1"/>
<line x1="761.5" y1="725" x2="761.5" y2="900" stroke="#000" stroke-opacity="0.09" stroke-dasharray="4 4" stroke-width="1" stroke-dashoffset="1"/>
<line x1="772.5" y1="725" x2="772.5" y2="900" stroke="#000" stroke-opacity="0.022" stroke-dasharray="6 6" stroke-width="1" stroke-dashoffset="1"/>
<line x1="783.5" y1="725" x2="783.5" y2="900" stroke="#000" stroke-opacity="0.022" stroke-dasharray="6 6" stroke-width="1" stroke-dashoffset="1"/>
<line x1="794.5" y1="725" x2="794.5" y2="900" stroke="#000" stroke-opacity="0.022" stroke-dasharray="6 6" stroke-width="1" stroke-dashoffset="1"/>
<line x1="805.5" y1="725" x2="805.5" y2="900" stroke="#000" stroke-opacity="0.022" stroke-dasharray="6 6" stroke-width="1" stroke-dashoffset="1"/>
<line x1="816.5" y1="725" x2="816.5" y2="900" stroke="#000" stroke-opacity="0.09" stroke-dasharray="4 4" stroke-width="1" stroke-dashoffset="1"/>
<line x1="827.5" y1="725" x2="827.5" y2="900" stroke="#000" stroke-opacity="0.022" stroke-dasharray="6 6" stroke-width="1" stroke-dashoffset="1"/>
<line x1="838.5" y1="725" x2="838.5" y2="900" stroke="#000" stroke-opacity="0.022" stroke-dasharray="6 6" stroke-width="1" stroke-dashoffset="1"/>
<line x1="849.5" y1="725" x2="849.5" y2="900" stroke="#000" stroke-opacity="0.022" stroke-dasharray="6 6" stroke-width="1" stroke-dashoffset="1"/>
<line x1="860.5" y1="725" x2="860.5" y2="900" stroke="#000" stroke-opacity="0.022" stroke-dasharray="6 6" stroke-width="1" stroke-dashoffset="1"/>
<line x1="871.5" y1="725" x2="871.5" y2="900" stroke="#000" stroke-opacity="0.09" stroke-dasharray="4 4" stroke-width="1" stroke-dashoffset="1"/>
<line x1="882.5" y1="725" x2="882.5" y2="900" stroke="#000" stroke-opacity="0.022" stroke-dasharray="6 6" stroke-width="1" stroke-dashoffset="1"/>
<line x1="892.5" y1="725" x2="892.5" y2="900" stroke="#000" stroke-opacity="0.022" stroke-dasharray="6 6" stroke-width="1" stroke-dashoffset="1"/>
<line x1="903.5" y1="725" x2="903.5" y2="900" stroke="#000" stroke-opacity="0.022" stroke-dasharray="6 6" stroke-width="1" stroke-dashoffset="1"/>
<line x1="914.5" y1="725" x2="914.5" y2="900" stroke="#000" stroke-opacity="0.022" stroke-dasharray="6 6" stroke-width="1" stroke-dashoffset="1"/>
<line x1="925.5" y1="725" x2="925.5" y2="900" stroke="#000" stroke-opacity="0.09" stroke-dasharray="4 4" stroke-width="1" stroke-dashoffset="1"/>
<line x1="936.5" y1="725" x2="936.5" y2="900" stroke="#000" stroke-opacity="0.022" stroke-dasharray="6 6" stroke-width="1" stroke-dashoffset="1"/>
<line x1="947.5" y1="725" x2="947.5" y2="900" stroke="#000" stroke-opacity="0.022" stroke-dasharray="6 6" stroke-width="1" stroke-dashoffset="1"/>
<line x1="958.5" y1="725" x2="958.5" y2="900" stroke="#000" stroke-opacity="0.022" stroke-dasharray="6 6" stroke-width="1" stroke-dashoffset="1"/>
<line x1="969.5" y1="725" x2="969.5" y2="900" stroke="#000" stroke-opacity="0.022" stroke-dasharray="6 6" stroke-width="1" stroke-dashoffset="1"/>
<line x1="980.5" y1="725" x2="980.5" y2="900" stroke="#000" stroke-opacity="0.09" stroke-dasharray="4 4" stroke-width="1" stroke-dashoffset="1"/>
<line x1="991.5" y1="725" x2="991.5" y2="900" stroke="#000" stroke-opacity="0.022" stroke-dasharray="6 6" stroke-width="1" stroke-dashoffset="1"/>
<line x1="1002.5" y1="725" x2="1002.5" y2="900" stroke="#000" stroke-opacity="0.022" stroke-dasharray="6 6" stroke-width="1" stroke-dashoffset="1"/>
<line x1="1013.5" y1="725" x2="1013.5" y2="900" stroke="#000" stroke-opacity="0.022" stroke-dasharray="6 6" stroke-width="1" stroke-dashoffset="1"/>
<line x1="1024.5" y1="725" x2="1024.5" y2="900" stroke="#000" stroke-opacity="0.022" stroke-dasharray="6 6" stroke-width="1" stroke-dashoffset="1"/>
<line x1="1035.5" y1="725" x2="1035.5" y2="900" stroke="#000" stroke-opacity="0.09" stroke-dasharray="4 4" stroke-width="1" stroke-dashoffset="1"/>
<line x1="1046.5" y1="725" x2="1046.5" y2="900" stroke="#000" stroke-opacity="0.022" stroke-dasharray="6 6" stroke-width="1" stroke-dashoffset="1"/>
<line x1="1057.5" y1="725" x2="1057.5" y2="900" stroke="#000" stroke-opacity="0.022" stroke-dasharray="6 6" stroke-width="1" stroke-dashoffset="1"/>
<line x1="1067.5" y1="725" x2="1067.5" y2="900" stroke="#000" stroke-opacity="0.022" stroke-dasharray="6 6" stroke-width="1" stroke-dashoffset="1"/>
<line x1="1078.5" y1="725" x2="1078.5" y2="900" stroke="#000" stroke-opacity="0.022" stroke-dasharray="6 6" stroke-width="1" stroke-dashoffset="1"/>
<line x1="1089.5" y1="725" x2="1089.5" y2="900" stroke="#000" stroke-opacity="0.09" stroke-dasharray="4 4" stroke-width="1" stroke-dashoffset="1"/>
<line x1="1100.5" y1="725" x2="1100.5" y2="900" stroke="#000" stroke-opacity="0.022" stroke-dasharray="6 6" stroke-width="1" stroke-dashoffset="1"/>
<line x1="1111.5" y1="725" x2="1111.5" y2="900" stroke="#000" stroke-opacity="0.022" stroke-dasharray="6 6" stroke-width="1" stroke-dashoffset="1"/>
<line x1="1122.5" y1="725" x2="1122.5" y2="900" stroke="#000" stroke-opacity="0.022" stroke-dasharray="6 6" stroke-width="1" stroke-dashoffset="1"/>
<line x1="1133.5" y1="725" x2="1133.5" y2="900" stroke="#000" stroke-opacity="0.022" stroke-dasharray="6 6" stroke-width="1" stroke-dashoffset="1"/>
<line x1="1144.5" y1="725" x2="1144.5" y2="900" stroke="#000" stroke-opacity="0.09" stroke-dasharray="4 4" stroke-width="1" stroke-dashoffset="1"/>
<line x1="107" y1="725.5" x2="1151" y2="725.5" stroke="#000" stroke-opacity="0.09" stroke-width="1" stroke-dasharray="4 4"/>
<line x1="107" y1="746.5" x2="1151" y2="746.5" stroke="#000" stroke-opacity="0.09" stroke-width="1" stroke-dasharray="4 4"/>
<line x1="107" y1="768.5" x2="1151" y2="768.5" stroke="#000" stroke-opacity="0.09" stroke-width="1" stroke-dasharray="4 4"/>
<line x1="107" y1="790.5" x2="1151" y2="790.5" stroke="#000" stroke-opacity="0.09" stroke-width="1" stroke-dasharray="4 4"/>
<line x1="107" y1="812.5" x2="1151" y2="812.5" stroke="#000" stroke-opacity="0.09" stroke-width="1" stroke-dasharray="4 4"/>
<line x1="107" y1="834.5" x2="1151" y2="834.5" stroke="#000" stroke-opacity="0.09" stroke-width="1" stroke-dasharray="4 4"/>
<line x1="107" y1="856.5" x2="1151" y2="856.5" stroke="#000" stroke-opacity="0.09" stroke-width="1" stroke-dasharray="4 4"/>
<line x1="107" y1="878.5" x2="1151" y2="878.5" stroke="#000" stroke-opacity="0.09" stroke-width="1" stroke-dasharray="4 4"/>
<rect x="101" y="837" width="9" height="63" fill="#00ff00" fill-opacity="0.64"/><rect x="109" y="837" width="1" height="63" fill="#00ff00" fill-opacity="0.1"/>
<rect x="112" y="867" width="9" height="33" fill="#ff0000" fill-opacity="0.64"/><rect x="120" y="867" width="1" height="33" fill="#ff0000" fill-opacity="0.1"/>
<rect x="123" y="865" width="8" height="35" fill="#ff0000" fill-opacity="0.64"/><rect x="130" y="865" width="1" height="35" fill="#ff0000" fill-opacity="0.1"/>
<rect x="134" y="879" width="8" height="21" fill="#ff0000" fill-opacity="0.64"/><rect x="141" y="879" width="1" height="21" fill="#ff0000" fill-opacity="0.1"/>
<rect x="145" y="874" width="8" height="26" fill="#ff0000" fill-opacity="0.64"/><rect x="152" y="874" width="1" height="26" fill="#ff0000" fill-opacity="0.1"/>
<rect x="156" y="877" width="8" height="23" fill="#ff0000" fill-opacity="0.64"/><rect x="163" y="877" width="1" height="23" fill="#ff0000" fill-opacity="0.1"/>
<rect x="167" y="881" width="8" height="19" fill="#ff0000" fill-opacity="0.64"/><rect x="174" y="881" width="1" height="19" fill="#ff0000" fill-opacity="0.1"/>
<rect x="178" y="870" width="8" height="30" fill="#00ff00" fill-opacity="0.64"/><rect x="185" y="870" width="1" height="30" fill="#00ff00" fill-opacity="0.1"/>
<rect x="189" y="881" width="8" height="19" fill="#ff0000" fill-opacity="0.64"/><rect x="196" y="881" width="1" height="19" fill="#ff0000" fill-opacity="0.1"/>
<rect x="200" y="874" width="8" height="26" fill="#00ff00" fill-opacity="0.64"/><rect x="207" y="874" width="1" height="26" fill="#00ff00" fill-opacity="0.1"/>
<rect x="211" y="880" width="8" height="20" fill="#00ff00" fill-opacity="0.64"/><rect x="218" y="880" width="1" height="20" fill="#00ff00" fill-opacity="0.1"/>
<rect x="222" y="874" width="8" height="26" fill="#ff0000" fill-opacity="0.64"/><rect x="229" y="874" width="1" height="26" fill="#ff0000" fill-opacity="0.1"/>
<rect x="233" y="870" width="8" height="30" fill="#00ff00" fill-opacity="0.64"/><rect x="240" y="870" width="1" height="30" fill="#00ff00" fill-opacity="0.1"/>
<rect x="244" y="886" width="8" height="14" fill="#ff0000" fill-opacity="0.64"/><rect x="251" y="886" width="1" height="14" fill="#ff0000" fill-opacity="0.1"/>
<rect x="254" y="879" width="9" height="21" fill="#ff0000" fill-opacity="0.64"/><rect x="262" y="879" width="1" height="21" fill="#ff0000" fill-opacity="0.1"/>
<rect x="265" y="881" width="9" height="19" fill="#ff0000" fill-opacity="0.64"/><rect x="273" y="881" width="1" height="19" fill="#ff0000" fill-opacity="0.1"/>
<rect x="276" y="870" width="9" height="30" fill="#ff0000" fill-opacity="0.64"/><rect x="284" y="870" width="1" height="30" fill="#ff0000" fill-opacity="0.1"/>
<rect x="287" y="870" width="9" height="30" fill="#ff0000" fill-opacity="0.64"/><rect x="295" y="870" width="1" height="30" fill="#ff0000" fill-opacity="0.1"/>
<rect x="298" y="878" width="8" height="22" fill="#ff0000" fill-opacity="0.64"/><rect x="305" y="878" width="1" height="22" fill="#ff0000" fill-opacity="0.1"/>
<rect x="309" y="873" width="8" height="27" fill="#00ff00" fill-opacity="0.64"/><rect x="316" y="873" width="1" height="27" fill="#00ff00" fill-opacity="0.1"/>
<rect x="320" y="868" width="8" height="32" fill="#00ff00" fill-opacity="0.64"/><rect x="327" y="868" width="1" height="32" fill="#00ff00" fill-opacity="0.1"/>
<rect x="331" y="872" width="8" height="28" fill="#00ff00" fill-opacity="0.64"/><rect x="338" y="872" width="1" height="28" fill="#00ff00" fill-opacity="0.1"/>
<rect x="342" y="797" width="8" height="103" fill="#00ff00" fill-opacity="0.64"/><rect x="349" y="797" width="1" height="103" fill="#00ff00" fill-opacity="0.1"/>
<rect x="353" y="868" width="8" height="32" fill="#00ff00" fill-opacity="0.64"/><rect x="360" y="868" width="1" height="32" fill="#00ff00" fill-opacity="0.1"/>
<rect x="364" y="845" width="8" height="55" fill="#00ff00" fill-opacity="0.64"/><rect x="371" y="845" width="1" height="55" fill="#00ff00" fill-opacity="0.1"/>
<rect x="375" y="848" width="8" height="52" fill="#ff0000" fill-opacity="0.64"/><rect x="382" y="848" width="1" height="52" fill="#ff0000" fill-opacity="0.1"/>
<rect x="386" y="865" width="8" height="35" fill="#00ff00" fill-opacity="0.64"/><rect x="393" y="865" width="1" height="35" fill="#00ff00" fill-opacity="0.1"/>
<rect x="397" y="858" width="8" height="42" fill="#00ff00" fill-opacity="0.64"/><rect x="404" y="858" width="1" height="42" fill="#00ff00" fill-opacity="0.1"/>
<rect x="408" y="875" width="8" height="25" fill="#00ff00" fill-opacity="0.64"/><rect x="415" y="875" width="1" height="25" fill="#00ff00" fill-opacity="0.1"/>
<rect x="419" y="875" width="8" height="25" fill="#ff0000" fill-opacity="0.64"/><rect x="426" y="875" width="1" height="25" fill="#ff0000" fill-opacity="0.1"/>
<rect x="429" y="877" width="9" height="23" fill="#00ff00" fill-opacity="0.64"/><rect x="437" y="877" width="1" height="23" fill="#00ff00" fill-opacity="0.1"/>
<rect x="440" y="870" width="9" height="30" fill="#ff0000" fill-opacity="0.64"/><rect x="448" y="870" width="1" height="30" fill="#ff0000" fill-opacity="0.1"/>
<rect x="451" y="868" width="9" height="32" fill="#ff0000" fill-opacity="0.64"/><rect x="459" y="868" width="1" height="32" fill="#ff0000" fill-opacity="0.1"/>
<rect x="462" y="862" width="9" height="38" fill="#00ff00" fill-opacity="0.64"/><rect x="470" y="862" width="1" height="38" fill="#00ff00" fill-opacity="0.1"/>
<rect x="473" y="856" width="8" height="44" fill="#ff0000" fill-opacity="0.64"/><rect x="480" y="856" width="1" height="44" fill="#ff0000" fill-opacity="0.1"/>
<rect x="484" y="839" width="8" height="61" fill="#ff0000" fill-opacity="0.64"/><rect x="491" y="839" width="1" height="61" fill="#ff0000" fill-opacity="0.1"/>
<rect x="495" y="852" width="8" height="48" fill="#ff0000" fill-opacity="0.64"/><rect x="502" y="852" width="1" height="48" fill="#ff0000" fill-opacity="0.1"/>
<rect x="506" y="728" width="8" height="172" fill="#00ff00" fill-opacity="0.64"/><rect x="513" y="728" width="1" height="172" fill="#00ff00" fill-opacity="0.1"/>
<rect x="517" y="860" width="8" height="40" fill="#00ff00" fill-opacity="0.64"/><rect x="524" y="860" width="1" height="40" fill="#00ff00" fill-opacity="0.1"/>
<rect x="528" y="868" width="8" height="32" fill="#00ff00" fill-opacity="0.64"/><rect x="535" y="868" width="1" height="32" fill="#00ff00" fill-opacity="0.1"/>
<rect x="539" y="879" width="8" height="21" fill="#ff0000" fill-opacity="0.64"/><rect x="546" y="879" width="1" height="21" fill="#ff0000" fill-opacity="0.1"/>
<rect x="550" y="855" width="8" height="45" fill="#00ff00" fill-opacity="0.64"/><rect x="557" y="855" width="1" height="45" fill="#00ff00" fill-opacity="0.1"/>
<rect x="561" y="868" width="8" height="32" fill="#00ff00" fill-opacity="0.64"/><rect x="568" y="868" width="1" height="32" fill="#00ff00" fill-opacity="0.1"/>
<rect x="572" y="857" width="8" height="43" fill="#ff0000" fill-opacity="0.64"/><rect x="579" y="857" width="1" height="43" fill="#ff0000" fill-opacity="0.1"/>
<rect x="583" y="861" width="8" height="39" fill="#ff0000" fill-opacity="0.64"/><rect x="590" y="861" width="1" height="39" fill="#ff0000" fill-opacity="0.1"/>
<rect x="594" y="862" width="8" height="38" fill="#00ff00" fill-opacity="0.64"/><rect x="601" y="862" width="1" height="38" fill="#00ff00" fill-opacity="0.1"/>
<rect x="604" y="863" width="9" height="37" fill="#00ff00" fill-opacity="0.64"/><rect x="612" y="863" width="1" height="37" fill="#00ff00" fill-opacity="0.1"/>
<rect x="615" y="849" width="9" height="51" fill="#00ff00" fill-opacity="0.64"/><rect x="623" y="849" width="1" height="51" fill="#00ff00" fill-opacity="0.1"/>
<rect x="626" y="860" width="9" height="40" fill="#ff0000" fill-opacity="0.64"/><rect x="634" y="860" width="1" height="40" fill="#ff0000" fill-opacity="0.1"/>
<rect x="637" y="825" width="9" height="75" fill="#00ff00" fill-opacity="0.64"/><rect x="645" y="825" width="1" height="75" fill="#00ff00" fill-opacity="0.1"/>
<rect x="648" y="861" width="8" height="39" fill="#00ff00" fill-opacity="0.64"/><rect x="655" y="861" width="1" height="39" fill="#00ff00" fill-opacity="0.1"/>
<rect x="659" y="867" width="8" height="33" fill="#ff0000" fill-opacity="0.64"/><rect x="666" y="867" width="1" height="33" fill="#ff0000" fill-opacity="0.1"/>
<rect x="670" y="869" width="8" height="31" fill="#00ff00" fill-opacity="0.64"/><rect x="677" y="869" width="1" height="31" fill="#00ff00" fill-opacity="0.1"/>
<rect x="681" y="841" width="8" height="59" fill="#00ff00" fill-opacity="0.64"/><rect x="688" y="841" width="1" height="59" fill="#00ff00" fill-opacity="0.1"/>
<rect x="692" y="868" width="8" height="32" fill="#ff0000" fill-opacity="0.64"/><rect x="699" y="868" width="1" height="32" fill="#ff0000" fill-opacity="0.1"/>
<rect x="703" y="863" width="8" height="37" fill="#ff0000" fill-opacity="0.64"/><rect x="710" y="863" width="1" height="37" fill="#ff0000" fill-opacity="0.1"/>
<rect x="714" y="857" width="8" height="43" fill="#ff0000" fill-opacity="0.64"/><rect x="721" y="857" width="1" height="43" fill="#ff0000" fill-opacity="0.1"/>
<rect x="725" y="854" width="8" height="46" fill="#00ff00" fill-opacity="0.64"/><rect x="732" y="854" width="1" height="46" fill="#00ff00" fill-opacity="0.1"/>
<rect x="736" y="864" width="8" height="36" fill="#ff0000" fill-opacity="0.64"/><rect x="743" y="864" width="1" height="36" fill="#ff0000" fill-opacity="0.1"/>
<rect x="747" y="852" width="8" height="48" fill="#00ff00" fill-opacity="0.64"/><rect x="754" y="852" width="1" height="48" fill="#00ff00" fill-opacity="0.1"/>
<rect x="758" y="869" width="8" height="31" fill="#00ff00" fill-opacity="0.64"/><rect x="765" y="869" width="1" height="31" fill="#00ff00" fill-opacity="0.1"/>
<rect x="769" y="870" width="8" height="30" fill="#00ff00" fill-opacity="0.64"/><rect x="776" y="870" width="1" height="30" fill="#00ff00" fill-opacity="0.1"/>
<rect x="779" y="862" width="9" height="38" fill="#00ff00" fill-opacity="0.64"/><rect x="787" y="862" width="1" height="38" fill="#00ff00" fill-opacity="0.1"/>
<rect x="790" y="866" width="9" height="34" fill="#ff0000" fill-opacity="0.64"/><rect x="798" y="866" width="1" height="34" fill="#ff0000" fill-opacity="0.1"/>
<rect x="801" y="868" width="9" height="32" fill="#ff0000" fill-opacity="0.64"/><rect x="809" y="868" width="1" height="32" fill="#ff0000" fill-opacity="0.1"/>
<rect x="812" y="870" width="8" height="30" fill="#00ff00" fill-opacity="0.64"/><rect x="819" y="870" width="1" height="30" fill="#00ff00" fill-opacity="0.1"/>
<rect x="823" y="869" width="8" height="31" fill="#00ff00" fill-opacity="0.64"/><rect x="830" y="869" width="1" height="31" fill="#00ff00" fill-opacity="0.1"/>
<rect x="834" y="873" width="8" height="27" fill="#00ff00" fill-opacity="0.64"/><rect x="841" y="873" width="1" height="27" fill="#00ff00" fill-opacity="0.1"/>
<rect x="845" y="871" width="8" height="29" fill="#00ff00" fill-opacity="0.64"/><rect x="852" y="871" width="1" height="29" fill="#00ff00" fill-opacity="0.1"/>
<rect x="856" y="873" width="8" height="27" fill="#ff0000" fill-opacity="0.64"/><rect x="863" y="873" width="1" height="27" fill="#ff0000" fill-opacity="0.1"/>
<rect x="867" y="872" width="8" height="28" fill="#ff0000" fill-opacity="0.64"/><rect x="874" y="872" width="1" height="28" fill="#ff0000" fill-opacity="0.1"/>
<rect x="878" y="870" width="8" height="30" fill="#00ff00" fill-opacity="0.64"/><rect x="885" y="870" width="1" height="30" fill="#00ff00" fill-opacity="0.1"/>
<rect x="889" y="873" width="8" height="27" fill="#ff0000" fill-opacity="0.64"/><rect x="896" y="873" width="1" height="27" fill="#ff0000" fill-opacity="0.1"/>
<rect x="900" y="875" width="8" height="25" fill="#ff0000" fill-opacity="0.64"/><rect x="907" y="875" width="1" height="25" fill="#ff0000" fill-opacity="0.1"/>
<rect x="911" y="869" width="8" height="31" fill="#ff0000" fill-opacity="0.64"/><rect x="918" y="869" width="1" height="31" fill="#ff0000" fill-opacity="0.1"/>
<rect x="922" y="856" width="8" height="44" fill="#00ff00" fill-opacity="0.64"/><rect x="929" y="856" width="1" height="44" fill="#00ff00" fill-opacity="0.1"/>
<rect x="933" y="768" width="8" height="132" fill="#00ff00" fill-opacity="0.64"/><rect x="940" y="768" width="1" height="132" fill="#00ff00" fill-opacity="0.1"/>
<rect x="944" y="848" width="8" height="52" fill="#ff0000" fill-opacity="0.64"/><rect x="951" y="848" width="1" height="52" fill="#ff0000" fill-opacity="0.1"/>
<rect x="954" y="864" width="9" height="36" fill="#ff0000" fill-opacity="0.64"/><rect x="962" y="864" width="1" height="36" fill="#ff0000" fill-opacity="0.1"/>
<rect x="965" y="858" width="9" height="42" fill="#ff0000" fill-opacity="0.64"/><rect x="973" y="858" width="1" height="42" fill="#ff0000" fill-opacity="0.1"/>
<rect x="976" y="855" width="9" height="45" fill="#00ff00" fill-opacity="0.64"/><rect x="984" y="855" width="1" height="45" fill="#00ff00" fill-opacity="0.1"/>
<rect x="987" y="870" width="8" height="30" fill="#ff0000" fill-opacity="0.64"/><rect x="994" y="870" width="1" height="30" fill="#ff0000" fill-opacity="0.1"/>
<rect x="998" y="841" width="8" height="59" fill="#ff0000" fill-opacity="0.64"/><rect x="1005" y="841" width="1" height="59" fill="#ff0000" fill-opacity="0.1"/>
<rect x="1009" y="857" width="8" height="43" fill="#ff0000" fill-opacity="0.64"/><rect x="1016" y="857" width="1" height="43" fill="#ff0000" fill-opacity="0.1"/>
<rect x="1020" y="852" width="8" height="48" fill="#ff0000" fill-opacity="0.64"/><rect x="1027" y="852" width="1" height="48" fill="#ff0000" fill-opacity="0.1"/>
<rect x="1031" y="841" width="8" height="59" fill="#ff0000" fill-opacity="0.64"/><rect x="1038" y="841" width="1" height="59" fill="#ff0000" fill-opacity="0.1"/>
<rect x="1042" y="873" width="8" height="27" fill="#ff0000" fill-opacity="0.64"/><rect x="1049" y="873" width="1" height="27" fill="#ff0000" fill-opacity="0.1"/>
<rect x="1053" y="893" width="8" height="7" fill="#ff0000" fill-opacity="0.64"/><rect x="1060" y="893" width="1" height="7" fill="#ff0000" fill-opacity="0.1"/>
<rect x="1064" y="757" width="8" height="143" fill="#ff0000" fill-opacity="0.64"/><rect x="1071" y="757" width="1" height="143" fill="#ff0000" fill-opacity="0.1"/>
<rect x="1075" y="864" width="8" height="36" fill="#00ff00" fill-opacity="0.64"/><rect x="1082" y="864" width="1" height="36" fill="#00ff00" fill-opacity="0.1"/>
<rect x="1086" y="857" width="8" height="43" fill="#ff0000" fill-opacity="0.64"/><rect x="1093" y="857" width="1" height="43" fill="#ff0000" fill-opacity="0.1"/>
<rect x="1097" y="867" width="8" height="33" fill="#00ff00" fill-opacity="0.64"/><rect x="1104" y="867" width="1" height="33" fill="#00ff00" fill-opacity="0.1"/>
<rect x="1108" y="863" width="8" height="37" fill="#00ff00" fill-opacity="0.64"/><rect x="1115" y="863" width="1" height="37" fill="#00ff00" fill-opacity="0.1"/>
<rect x="1119" y="864" width="8" height="36" fill="#ff0000" fill-opacity="0.64"/><rect x="1126" y="864" width="1" height="36" fill="#ff0000" fill-opacity="0.1"/>
<rect x="1129" y="853" width="9" height="47" fill="#ff0000" fill-opacity="0.64"/><rect x="1137" y="853" width="1" height="47" fill="#ff0000" fill-opacity="0.1"/>
<rect x="1140" y="885" width="9" height="15" fill="#00ff00" fill-opacity="0.64"/><rect x="1148" y="885" width="1" height="15" fill="#00ff00" fill-opacity="0.1"/>
<line x1="100.5" y1="712" x2="100.5" y2="901" stroke="#000" stroke-width="1"/>
<polygon points="100.5,713 96.9,720 104.1,720" fill="#000"/>
<line x1="100" y1="900.5" x2="1163" y2="900.5" stroke="#000" stroke-width="1"/>
<polygon points="1162,900.5 1155,896.9 1155,904.1" fill="#000"/>
<line x1="98" y1="725.5" x2="103" y2="725.5" stroke="#000" stroke-width="1"/>
<text x="98.40" y="728.10" font-size="10.8" text-anchor="end" fill="#000"  textLength="80.28" lengthAdjust="spacingAndGlyphs">16,000,000.00</text>
<line x1="98" y1="735.5" x2="101" y2="735.5" stroke="#f00" stroke-width="1"/>
<line x1="98" y1="746.5" x2="103" y2="746.5" stroke="#000" stroke-width="1"/>
<text x="98.40" y="749.10" font-size="10.8" text-anchor="end" fill="#000"  textLength="80.28" lengthAdjust="spacingAndGlyphs">14,000,000.00</text>
<line x1="98" y1="757.5" x2="101" y2="757.5" stroke="#f00" stroke-width="1"/>
<line x1="98" y1="768.5" x2="103" y2="768.5" stroke="#000" stroke-width="1"/>
<text x="98.40" y="771.10" font-size="10.8" text-anchor="end" fill="#000"  textLength="80.28" lengthAdjust="spacingAndGlyphs">12,000,000.00</text>
<line x1="98" y1="779.5" x2="101" y2="779.5" stroke="#f00" stroke-width="1"/>
<line x1="98" y1="790.5" x2="103" y2="790.5" stroke="#000" stroke-width="1"/>
<text x="98.40" y="793.10" font-size="10.8" text-anchor="end" fill="#000"  textLength="80.28" lengthAdjust="spacingAndGlyphs">10,000,000.00</text>
<line x1="98" y1="801.5" x2="101" y2="801.5" stroke="#f00" stroke-width="1"/>
<line x1="98" y1="812.5" x2="103" y2="812.5" stroke="#000" stroke-width="1"/>
<text x="98.40" y="815.10" font-size="10.8" text-anchor="end" fill="#000"  textLength="73.50" lengthAdjust="spacingAndGlyphs">8,000,000.00</text>
<line x1="98" y1="823.5" x2="101" y2="823.5" stroke="#f00" stroke-width="1"/>
<line x1="98" y1="834.5" x2="103" y2="834.5" stroke="#000" stroke-width="1"/>
<text x="98.40" y="837.10" font-size="10.8" text-anchor="end" fill="#000"  textLength="73.50" lengthAdjust="spacingAndGlyphs">6,000,000.00</text>
<line x1="98" y1="845.5" x2="101" y2="845.5" stroke="#f00" stroke-width="1"/>
<line x1="98" y1="856.5" x2="103" y2="856.5" stroke="#000" stroke-width="1"/>
<text x="98.40" y="859.10" font-size="10.8" text-anchor="end" fill="#000"  textLength="73.50" lengthAdjust="spacingAndGlyphs">4,000,000.00</text>
<line x1="98" y1="867.5" x2="101" y2="867.5" stroke="#f00" stroke-width="1"/>
<line x1="98" y1="878.5" x2="103" y2="878.5" stroke="#000" stroke-width="1"/>
<text x="98.40" y="881.10" font-size="10.8" text-anchor="end" fill="#000"  textLength="73.50" lengthAdjust="spacingAndGlyphs">2,000,000.00</text>
<line x1="98" y1="889.5" x2="101" y2="889.5" stroke="#f00" stroke-width="1"/>
<line x1="98" y1="900.5" x2="103" y2="900.5" stroke="#000" stroke-width="1"/>
<text x="98.40" y="904.90" font-size="10.8" text-anchor="end" fill="#000"  textLength="24.22" lengthAdjust="spacingAndGlyphs">0.00</text>
<line x1="105.5" y1="900" x2="105.5" y2="903" stroke="#000" stroke-width="1"/>
<text x="107.10" y="913.80" font-size="10.8" text-anchor="middle" fill="#000"  textLength="35.50" lengthAdjust="spacingAndGlyphs">27 Juil</text>
<line x1="116.5" y1="901" x2="116.5" y2="903" stroke="#c4c4c4" stroke-width="1"/>
<line x1="127.5" y1="901" x2="127.5" y2="903" stroke="#c4c4c4" stroke-width="1"/>
<line x1="138.5" y1="901" x2="138.5" y2="903" stroke="#c4c4c4" stroke-width="1"/>
<line x1="149.5" y1="901" x2="149.5" y2="903" stroke="#c4c4c4" stroke-width="1"/>
<line x1="160.5" y1="900" x2="160.5" y2="903" stroke="#000" stroke-width="1"/>
<text x="162.10" y="913.80" font-size="10.8" text-anchor="middle" fill="#000"  textLength="37.10" lengthAdjust="spacingAndGlyphs">3 Août</text>
<line x1="171.5" y1="901" x2="171.5" y2="903" stroke="#c4c4c4" stroke-width="1"/>
<line x1="182.5" y1="901" x2="182.5" y2="903" stroke="#c4c4c4" stroke-width="1"/>
<line x1="192.5" y1="901" x2="192.5" y2="903" stroke="#c4c4c4" stroke-width="1"/>
<line x1="203.5" y1="901" x2="203.5" y2="903" stroke="#c4c4c4" stroke-width="1"/>
<line x1="214.5" y1="900" x2="214.5" y2="903" stroke="#000" stroke-width="1"/>
<text x="216.10" y="913.80" font-size="10.8" text-anchor="middle" fill="#000"  textLength="43.80" lengthAdjust="spacingAndGlyphs">10 Août</text>
<line x1="225.5" y1="901" x2="225.5" y2="903" stroke="#c4c4c4" stroke-width="1"/>
<line x1="236.5" y1="901" x2="236.5" y2="903" stroke="#c4c4c4" stroke-width="1"/>
<line x1="247.5" y1="901" x2="247.5" y2="903" stroke="#c4c4c4" stroke-width="1"/>
<line x1="258.5" y1="901" x2="258.5" y2="903" stroke="#c4c4c4" stroke-width="1"/>
<line x1="269.5" y1="900" x2="269.5" y2="903" stroke="#000" stroke-width="1"/>
<text x="271.10" y="913.80" font-size="10.8" text-anchor="middle" fill="#000"  textLength="43.80" lengthAdjust="spacingAndGlyphs">17 Août</text>
<line x1="280.5" y1="901" x2="280.5" y2="903" stroke="#c4c4c4" stroke-width="1"/>
<line x1="291.5" y1="901" x2="291.5" y2="903" stroke="#c4c4c4" stroke-width="1"/>
<line x1="302.5" y1="901" x2="302.5" y2="903" stroke="#c4c4c4" stroke-width="1"/>
<line x1="313.5" y1="901" x2="313.5" y2="903" stroke="#c4c4c4" stroke-width="1"/>
<line x1="324.5" y1="900" x2="324.5" y2="903" stroke="#000" stroke-width="1"/>
<text x="326.10" y="913.80" font-size="10.8" text-anchor="middle" fill="#000"  textLength="43.80" lengthAdjust="spacingAndGlyphs">24 Août</text>
<line x1="335.5" y1="901" x2="335.5" y2="903" stroke="#c4c4c4" stroke-width="1"/>
<line x1="346.5" y1="901" x2="346.5" y2="903" stroke="#c4c4c4" stroke-width="1"/>
<line x1="357.5" y1="901" x2="357.5" y2="903" stroke="#c4c4c4" stroke-width="1"/>
<line x1="367.5" y1="901" x2="367.5" y2="903" stroke="#c4c4c4" stroke-width="1"/>
<line x1="378.5" y1="900" x2="378.5" y2="903" stroke="#000" stroke-width="1"/>
<text x="380.10" y="913.80" font-size="10.8" text-anchor="middle" fill="#000"  textLength="43.80" lengthAdjust="spacingAndGlyphs">31 Août</text>
<line x1="389.5" y1="901" x2="389.5" y2="903" stroke="#c4c4c4" stroke-width="1"/>
<line x1="400.5" y1="901" x2="400.5" y2="903" stroke="#c4c4c4" stroke-width="1"/>
<line x1="411.5" y1="901" x2="411.5" y2="903" stroke="#c4c4c4" stroke-width="1"/>
<line x1="422.5" y1="901" x2="422.5" y2="903" stroke="#c4c4c4" stroke-width="1"/>
<line x1="433.5" y1="900" x2="433.5" y2="903" stroke="#000" stroke-width="1"/>
<text x="435.10" y="912.80" font-size="10.8" text-anchor="middle" fill="#000"  textLength="36.90" lengthAdjust="spacingAndGlyphs">7 Sept</text>
<line x1="444.5" y1="901" x2="444.5" y2="903" stroke="#c4c4c4" stroke-width="1"/>
<line x1="455.5" y1="901" x2="455.5" y2="903" stroke="#c4c4c4" stroke-width="1"/>
<line x1="466.5" y1="901" x2="466.5" y2="903" stroke="#c4c4c4" stroke-width="1"/>
<line x1="477.5" y1="901" x2="477.5" y2="903" stroke="#c4c4c4" stroke-width="1"/>
<line x1="488.5" y1="900" x2="488.5" y2="903" stroke="#000" stroke-width="1"/>
<text x="490.10" y="912.80" font-size="10.8" text-anchor="middle" fill="#000"  textLength="44.20" lengthAdjust="spacingAndGlyphs">14 Sept</text>
<line x1="499.5" y1="901" x2="499.5" y2="903" stroke="#c4c4c4" stroke-width="1"/>
<line x1="510.5" y1="901" x2="510.5" y2="903" stroke="#c4c4c4" stroke-width="1"/>
<line x1="521.5" y1="901" x2="521.5" y2="903" stroke="#c4c4c4" stroke-width="1"/>
<line x1="532.5" y1="901" x2="532.5" y2="903" stroke="#c4c4c4" stroke-width="1"/>
<line x1="542.5" y1="900" x2="542.5" y2="903" stroke="#000" stroke-width="1"/>
<text x="544.10" y="912.80" font-size="10.8" text-anchor="middle" fill="#000"  textLength="44.20" lengthAdjust="spacingAndGlyphs">21 Sept</text>
<line x1="553.5" y1="901" x2="553.5" y2="903" stroke="#c4c4c4" stroke-width="1"/>
<line x1="564.5" y1="901" x2="564.5" y2="903" stroke="#c4c4c4" stroke-width="1"/>
<line x1="575.5" y1="901" x2="575.5" y2="903" stroke="#c4c4c4" stroke-width="1"/>
<line x1="586.5" y1="901" x2="586.5" y2="903" stroke="#c4c4c4" stroke-width="1"/>
<line x1="597.5" y1="900" x2="597.5" y2="903" stroke="#000" stroke-width="1"/>
<text x="599.10" y="912.80" font-size="10.8" text-anchor="middle" fill="#000"  textLength="44.20" lengthAdjust="spacingAndGlyphs">28 Sept</text>
<line x1="608.5" y1="901" x2="608.5" y2="903" stroke="#c4c4c4" stroke-width="1"/>
<line x1="619.5" y1="901" x2="619.5" y2="903" stroke="#c4c4c4" stroke-width="1"/>
<line x1="630.5" y1="901" x2="630.5" y2="903" stroke="#c4c4c4" stroke-width="1"/>
<line x1="641.5" y1="901" x2="641.5" y2="903" stroke="#c4c4c4" stroke-width="1"/>
<line x1="652.5" y1="900" x2="652.5" y2="903" stroke="#000" stroke-width="1"/>
<text x="654.10" y="912.80" font-size="10.8" text-anchor="middle" fill="#000"  textLength="29.50" lengthAdjust="spacingAndGlyphs">5 Oct</text>
<line x1="663.5" y1="901" x2="663.5" y2="903" stroke="#c4c4c4" stroke-width="1"/>
<line x1="674.5" y1="901" x2="674.5" y2="903" stroke="#c4c4c4" stroke-width="1"/>
<line x1="685.5" y1="901" x2="685.5" y2="903" stroke="#c4c4c4" stroke-width="1"/>
<line x1="696.5" y1="901" x2="696.5" y2="903" stroke="#c4c4c4" stroke-width="1"/>
<line x1="707.5" y1="900" x2="707.5" y2="903" stroke="#000" stroke-width="1"/>
<text x="709.10" y="912.80" font-size="10.8" text-anchor="middle" fill="#000"  textLength="36.90" lengthAdjust="spacingAndGlyphs">12 Oct</text>
<line x1="717.5" y1="901" x2="717.5" y2="903" stroke="#c4c4c4" stroke-width="1"/>
<line x1="728.5" y1="901" x2="728.5" y2="903" stroke="#c4c4c4" stroke-width="1"/>
<line x1="739.5" y1="901" x2="739.5" y2="903" stroke="#c4c4c4" stroke-width="1"/>
<line x1="750.5" y1="901" x2="750.5" y2="903" stroke="#c4c4c4" stroke-width="1"/>
<line x1="761.5" y1="900" x2="761.5" y2="903" stroke="#000" stroke-width="1"/>
<text x="763.10" y="912.80" font-size="10.8" text-anchor="middle" fill="#000"  textLength="36.90" lengthAdjust="spacingAndGlyphs">19 Oct</text>
<line x1="772.5" y1="901" x2="772.5" y2="903" stroke="#c4c4c4" stroke-width="1"/>
<line x1="783.5" y1="901" x2="783.5" y2="903" stroke="#c4c4c4" stroke-width="1"/>
<line x1="794.5" y1="901" x2="794.5" y2="903" stroke="#c4c4c4" stroke-width="1"/>
<line x1="805.5" y1="901" x2="805.5" y2="903" stroke="#c4c4c4" stroke-width="1"/>
<line x1="816.5" y1="900" x2="816.5" y2="903" stroke="#000" stroke-width="1"/>
<text x="818.10" y="912.80" font-size="10.8" text-anchor="middle" fill="#000"  textLength="36.90" lengthAdjust="spacingAndGlyphs">26 Oct</text>
<line x1="827.5" y1="901" x2="827.5" y2="903" stroke="#c4c4c4" stroke-width="1"/>
<line x1="838.5" y1="901" x2="838.5" y2="903" stroke="#c4c4c4" stroke-width="1"/>
<line x1="849.5" y1="901" x2="849.5" y2="903" stroke="#c4c4c4" stroke-width="1"/>
<line x1="860.5" y1="901" x2="860.5" y2="903" stroke="#c4c4c4" stroke-width="1"/>
<line x1="871.5" y1="900" x2="871.5" y2="903" stroke="#000" stroke-width="1"/>
<text x="873.10" y="912.80" font-size="10.8" text-anchor="middle" fill="#000"  textLength="31.70" lengthAdjust="spacingAndGlyphs">2 Nov</text>
<line x1="882.5" y1="901" x2="882.5" y2="903" stroke="#c4c4c4" stroke-width="1"/>
<line x1="892.5" y1="901" x2="892.5" y2="903" stroke="#c4c4c4" stroke-width="1"/>
<line x1="903.5" y1="901" x2="903.5" y2="903" stroke="#c4c4c4" stroke-width="1"/>
<line x1="914.5" y1="901" x2="914.5" y2="903" stroke="#c4c4c4" stroke-width="1"/>
<line x1="925.5" y1="900" x2="925.5" y2="903" stroke="#000" stroke-width="1"/>
<text x="927.10" y="912.80" font-size="10.8" text-anchor="middle" fill="#000"  textLength="31.70" lengthAdjust="spacingAndGlyphs">9 Nov</text>
<line x1="936.5" y1="901" x2="936.5" y2="903" stroke="#c4c4c4" stroke-width="1"/>
<line x1="947.5" y1="901" x2="947.5" y2="903" stroke="#c4c4c4" stroke-width="1"/>
<line x1="958.5" y1="901" x2="958.5" y2="903" stroke="#c4c4c4" stroke-width="1"/>
<line x1="969.5" y1="901" x2="969.5" y2="903" stroke="#c4c4c4" stroke-width="1"/>
<line x1="980.5" y1="900" x2="980.5" y2="903" stroke="#000" stroke-width="1"/>
<text x="982.10" y="912.80" font-size="10.8" text-anchor="middle" fill="#000"  textLength="38.70" lengthAdjust="spacingAndGlyphs">16 Nov</text>
<line x1="991.5" y1="901" x2="991.5" y2="903" stroke="#c4c4c4" stroke-width="1"/>
<line x1="1002.5" y1="901" x2="1002.5" y2="903" stroke="#c4c4c4" stroke-width="1"/>
<line x1="1013.5" y1="901" x2="1013.5" y2="903" stroke="#c4c4c4" stroke-width="1"/>
<line x1="1024.5" y1="901" x2="1024.5" y2="903" stroke="#c4c4c4" stroke-width="1"/>
<line x1="1035.5" y1="900" x2="1035.5" y2="903" stroke="#000" stroke-width="1"/>
<text x="1037.10" y="912.80" font-size="10.8" text-anchor="middle" fill="#000"  textLength="38.70" lengthAdjust="spacingAndGlyphs">23 Nov</text>
<line x1="1046.5" y1="901" x2="1046.5" y2="903" stroke="#c4c4c4" stroke-width="1"/>
<line x1="1057.5" y1="901" x2="1057.5" y2="903" stroke="#c4c4c4" stroke-width="1"/>
<line x1="1067.5" y1="901" x2="1067.5" y2="903" stroke="#c4c4c4" stroke-width="1"/>
<line x1="1078.5" y1="901" x2="1078.5" y2="903" stroke="#c4c4c4" stroke-width="1"/>
<line x1="1089.5" y1="900" x2="1089.5" y2="903" stroke="#000" stroke-width="1"/>
<text x="1091.10" y="913.80" font-size="10.8" text-anchor="middle" fill="#000"  textLength="32.70" lengthAdjust="spacingAndGlyphs">2 Déc</text>
<line x1="1100.5" y1="901" x2="1100.5" y2="903" stroke="#c4c4c4" stroke-width="1"/>
<line x1="1111.5" y1="901" x2="1111.5" y2="903" stroke="#c4c4c4" stroke-width="1"/>
<line x1="1122.5" y1="901" x2="1122.5" y2="903" stroke="#c4c4c4" stroke-width="1"/>
<line x1="1133.5" y1="901" x2="1133.5" y2="903" stroke="#c4c4c4" stroke-width="1"/>
<line x1="1144.5" y1="900" x2="1144.5" y2="903" stroke="#000" stroke-width="1"/>
<text x="1146.10" y="913.80" font-size="10.8" text-anchor="middle" fill="#000"  textLength="32.70" lengthAdjust="spacingAndGlyphs">9 Déc</text>
<text x="626.30" y="926.60" font-size="10.8" text-anchor="middle" fill="#000"  textLength="264.50" lengthAdjust="spacingAndGlyphs">Date (du 27 Juillet 2016 au 9 Décembre 2016)</text>
<text x="111.00" y="694.90" font-size="25" text-anchor="start" fill="#000"  textLength="593.50" lengthAdjust="spacingAndGlyphs">Vivendi: graphique du volume - AnalyBourse.com</text>
<text transform="translate(15.1,810.3) rotate(-90)" font-size="10.8" text-anchor="middle" textLength="42.8" lengthAdjust="spacingAndGlyphs">Volume</text>
<rect x="101" y="1060.5" width="1049.8" height="35.0" fill="#f9f9f9"/>
<rect x="101" y="1130.5" width="1049.8" height="35.0" fill="#f9f9f9"/>
<line x1="105.5" y1="1025" x2="105.5" y2="1200" stroke="#000" stroke-opacity="0.09" stroke-dasharray="4 4" stroke-width="1" stroke-dashoffset="1"/>
<line x1="116.5" y1="1025" x2="116.5" y2="1200" stroke="#000" stroke-opacity="0.022" stroke-dasharray="6 6" stroke-width="1" stroke-dashoffset="1"/>
<line x1="127.5" y1="1025" x2="127.5" y2="1200" stroke="#000" stroke-opacity="0.022" stroke-dasharray="6 6" stroke-width="1" stroke-dashoffset="1"/>
<line x1="138.5" y1="1025" x2="138.5" y2="1200" stroke="#000" stroke-opacity="0.022" stroke-dasharray="6 6" stroke-width="1" stroke-dashoffset="1"/>
<line x1="149.5" y1="1025" x2="149.5" y2="1200" stroke="#000" stroke-opacity="0.022" stroke-dasharray="6 6" stroke-width="1" stroke-dashoffset="1"/>
<line x1="160.5" y1="1025" x2="160.5" y2="1200" stroke="#000" stroke-opacity="0.09" stroke-dasharray="4 4" stroke-width="1" stroke-dashoffset="1"/>
<line x1="171.5" y1="1025" x2="171.5" y2="1200" stroke="#000" stroke-opacity="0.022" stroke-dasharray="6 6" stroke-width="1" stroke-dashoffset="1"/>
<line x1="182.5" y1="1025" x2="182.5" y2="1200" stroke="#000" stroke-opacity="0.022" stroke-dasharray="6 6" stroke-width="1" stroke-dashoffset="1"/>
<line x1="192.5" y1="1025" x2="192.5" y2="1200" stroke="#000" stroke-opacity="0.022" stroke-dasharray="6 6" stroke-width="1" stroke-dashoffset="1"/>
<line x1="203.5" y1="1025" x2="203.5" y2="1200" stroke="#000" stroke-opacity="0.022" stroke-dasharray="6 6" stroke-width="1" stroke-dashoffset="1"/>
<line x1="214.5" y1="1025" x2="214.5" y2="1200" stroke="#000" stroke-opacity="0.09" stroke-dasharray="4 4" stroke-width="1" stroke-dashoffset="1"/>
<line x1="225.5" y1="1025" x2="225.5" y2="1200" stroke="#000" stroke-opacity="0.022" stroke-dasharray="6 6" stroke-width="1" stroke-dashoffset="1"/>
<line x1="236.5" y1="1025" x2="236.5" y2="1200" stroke="#000" stroke-opacity="0.022" stroke-dasharray="6 6" stroke-width="1" stroke-dashoffset="1"/>
<line x1="247.5" y1="1025" x2="247.5" y2="1200" stroke="#000" stroke-opacity="0.022" stroke-dasharray="6 6" stroke-width="1" stroke-dashoffset="1"/>
<line x1="258.5" y1="1025" x2="258.5" y2="1200" stroke="#000" stroke-opacity="0.022" stroke-dasharray="6 6" stroke-width="1" stroke-dashoffset="1"/>
<line x1="269.5" y1="1025" x2="269.5" y2="1200" stroke="#000" stroke-opacity="0.09" stroke-dasharray="4 4" stroke-width="1" stroke-dashoffset="1"/>
<line x1="280.5" y1="1025" x2="280.5" y2="1200" stroke="#000" stroke-opacity="0.022" stroke-dasharray="6 6" stroke-width="1" stroke-dashoffset="1"/>
<line x1="291.5" y1="1025" x2="291.5" y2="1200" stroke="#000" stroke-opacity="0.022" stroke-dasharray="6 6" stroke-width="1" stroke-dashoffset="1"/>
<line x1="302.5" y1="1025" x2="302.5" y2="1200" stroke="#000" stroke-opacity="0.022" stroke-dasharray="6 6" stroke-width="1" stroke-dashoffset="1"/>
<line x1="313.5" y1="1025" x2="313.5" y2="1200" stroke="#000" stroke-opacity="0.022" stroke-dasharray="6 6" stroke-width="1" stroke-dashoffset="1"/>
<line x1="324.5" y1="1025" x2="324.5" y2="1200" stroke="#000" stroke-opacity="0.09" stroke-dasharray="4 4" stroke-width="1" stroke-dashoffset="1"/>
<line x1="335.5" y1="1025" x2="335.5" y2="1200" stroke="#000" stroke-opacity="0.022" stroke-dasharray="6 6" stroke-width="1" stroke-dashoffset="1"/>
<line x1="346.5" y1="1025" x2="346.5" y2="1200" stroke="#000" stroke-opacity="0.022" stroke-dasharray="6 6" stroke-width="1" stroke-dashoffset="1"/>
<line x1="357.5" y1="1025" x2="357.5" y2="1200" stroke="#000" stroke-opacity="0.022" stroke-dasharray="6 6" stroke-width="1" stroke-dashoffset="1"/>
<line x1="367.5" y1="1025" x2="367.5" y2="1200" stroke="#000" stroke-opacity="0.022" stroke-dasharray="6 6" stroke-width="1" stroke-dashoffset="1"/>
<line x1="378.5" y1="1025" x2="378.5" y2="1200" stroke="#000" stroke-opacity="0.09" stroke-dasharray="4 4" stroke-width="1" stroke-dashoffset="1"/>
<line x1="389.5" y1="1025" x2="389.5" y2="1200" stroke="#000" stroke-opacity="0.022" stroke-dasharray="6 6" stroke-width="1" stroke-dashoffset="1"/>
<line x1="400.5" y1="1025" x2="400.5" y2="1200" stroke="#000" stroke-opacity="0.022" stroke-dasharray="6 6" stroke-width="1" stroke-dashoffset="1"/>
<line x1="411.5" y1="1025" x2="411.5" y2="1200" stroke="#000" stroke-opacity="0.022" stroke-dasharray="6 6" stroke-width="1" stroke-dashoffset="1"/>
<line x1="422.5" y1="1025" x2="422.5" y2="1200" stroke="#000" stroke-opacity="0.022" stroke-dasharray="6 6" stroke-width="1" stroke-dashoffset="1"/>
<line x1="433.5" y1="1025" x2="433.5" y2="1200" stroke="#000" stroke-opacity="0.09" stroke-dasharray="4 4" stroke-width="1" stroke-dashoffset="1"/>
<line x1="444.5" y1="1025" x2="444.5" y2="1200" stroke="#000" stroke-opacity="0.022" stroke-dasharray="6 6" stroke-width="1" stroke-dashoffset="1"/>
<line x1="455.5" y1="1025" x2="455.5" y2="1200" stroke="#000" stroke-opacity="0.022" stroke-dasharray="6 6" stroke-width="1" stroke-dashoffset="1"/>
<line x1="466.5" y1="1025" x2="466.5" y2="1200" stroke="#000" stroke-opacity="0.022" stroke-dasharray="6 6" stroke-width="1" stroke-dashoffset="1"/>
<line x1="477.5" y1="1025" x2="477.5" y2="1200" stroke="#000" stroke-opacity="0.022" stroke-dasharray="6 6" stroke-width="1" stroke-dashoffset="1"/>
<line x1="488.5" y1="1025" x2="488.5" y2="1200" stroke="#000" stroke-opacity="0.09" stroke-dasharray="4 4" stroke-width="1" stroke-dashoffset="1"/>
<line x1="499.5" y1="1025" x2="499.5" y2="1200" stroke="#000" stroke-opacity="0.022" stroke-dasharray="6 6" stroke-width="1" stroke-dashoffset="1"/>
<line x1="510.5" y1="1025" x2="510.5" y2="1200" stroke="#000" stroke-opacity="0.022" stroke-dasharray="6 6" stroke-width="1" stroke-dashoffset="1"/>
<line x1="521.5" y1="1025" x2="521.5" y2="1200" stroke="#000" stroke-opacity="0.022" stroke-dasharray="6 6" stroke-width="1" stroke-dashoffset="1"/>
<line x1="532.5" y1="1025" x2="532.5" y2="1200" stroke="#000" stroke-opacity="0.022" stroke-dasharray="6 6" stroke-width="1" stroke-dashoffset="1"/>
<line x1="542.5" y1="1025" x2="542.5" y2="1200" stroke="#000" stroke-opacity="0.09" stroke-dasharray="4 4" stroke-width="1" stroke-dashoffset="1"/>
<line x1="553.5" y1="1025" x2="553.5" y2="1200" stroke="#000" stroke-opacity="0.022" stroke-dasharray="6 6" stroke-width="1" stroke-dashoffset="1"/>
<line x1="564.5" y1="1025" x2="564.5" y2="1200" stroke="#000" stroke-opacity="0.022" stroke-dasharray="6 6" stroke-width="1" stroke-dashoffset="1"/>
<line x1="575.5" y1="1025" x2="575.5" y2="1200" stroke="#000" stroke-opacity="0.022" stroke-dasharray="6 6" stroke-width="1" stroke-dashoffset="1"/>
<line x1="586.5" y1="1025" x2="586.5" y2="1200" stroke="#000" stroke-opacity="0.022" stroke-dasharray="6 6" stroke-width="1" stroke-dashoffset="1"/>
<line x1="597.5" y1="1025" x2="597.5" y2="1200" stroke="#000" stroke-opacity="0.09" stroke-dasharray="4 4" stroke-width="1" stroke-dashoffset="1"/>
<line x1="608.5" y1="1025" x2="608.5" y2="1200" stroke="#000" stroke-opacity="0.022" stroke-dasharray="6 6" stroke-width="1" stroke-dashoffset="1"/>
<line x1="619.5" y1="1025" x2="619.5" y2="1200" stroke="#000" stroke-opacity="0.022" stroke-dasharray="6 6" stroke-width="1" stroke-dashoffset="1"/>
<line x1="630.5" y1="1025" x2="630.5" y2="1200" stroke="#000" stroke-opacity="0.022" stroke-dasharray="6 6" stroke-width="1" stroke-dashoffset="1"/>
<line x1="641.5" y1="1025" x2="641.5" y2="1200" stroke="#000" stroke-opacity="0.022" stroke-dasharray="6 6" stroke-width="1" stroke-dashoffset="1"/>
<line x1="652.5" y1="1025" x2="652.5" y2="1200" stroke="#000" stroke-opacity="0.09" stroke-dasharray="4 4" stroke-width="1" stroke-dashoffset="1"/>
<line x1="663.5" y1="1025" x2="663.5" y2="1200" stroke="#000" stroke-opacity="0.022" stroke-dasharray="6 6" stroke-width="1" stroke-dashoffset="1"/>
<line x1="674.5" y1="1025" x2="674.5" y2="1200" stroke="#000" stroke-opacity="0.022" stroke-dasharray="6 6" stroke-width="1" stroke-dashoffset="1"/>
<line x1="685.5" y1="1025" x2="685.5" y2="1200" stroke="#000" stroke-opacity="0.022" stroke-dasharray="6 6" stroke-width="1" stroke-dashoffset="1"/>
<line x1="696.5" y1="1025" x2="696.5" y2="1200" stroke="#000" stroke-opacity="0.022" stroke-dasharray="6 6" stroke-width="1" stroke-dashoffset="1"/>
<line x1="707.5" y1="1025" x2="707.5" y2="1200" stroke="#000" stroke-opacity="0.09" stroke-dasharray="4 4" stroke-width="1" stroke-dashoffset="1"/>
<line x1="717.5" y1="1025" x2="717.5" y2="1200" stroke="#000" stroke-opacity="0.022" stroke-dasharray="6 6" stroke-width="1" stroke-dashoffset="1"/>
<line x1="728.5" y1="1025" x2="728.5" y2="1200" stroke="#000" stroke-opacity="0.022" stroke-dasharray="6 6" stroke-width="1" stroke-dashoffset="1"/>
<line x1="739.5" y1="1025" x2="739.5" y2="1200" stroke="#000" stroke-opacity="0.022" stroke-dasharray="6 6" stroke-width="1" stroke-dashoffset="1"/>
<line x1="750.5" y1="1025" x2="750.5" y2="1200" stroke="#000" stroke-opacity="0.022" stroke-dasharray="6 6" stroke-width="1" stroke-dashoffset="1"/>
<line x1="761.5" y1="1025" x2="761.5" y2="1200" stroke="#000" stroke-opacity="0.09" stroke-dasharray="4 4" stroke-width="1" stroke-dashoffset="1"/>
<line x1="772.5" y1="1025" x2="772.5" y2="1200" stroke="#000" stroke-opacity="0.022" stroke-dasharray="6 6" stroke-width="1" stroke-dashoffset="1"/>
<line x1="783.5" y1="1025" x2="783.5" y2="1200" stroke="#000" stroke-opacity="0.022" stroke-dasharray="6 6" stroke-width="1" stroke-dashoffset="1"/>
<line x1="794.5" y1="1025" x2="794.5" y2="1200" stroke="#000" stroke-opacity="0.022" stroke-dasharray="6 6" stroke-width="1" stroke-dashoffset="1"/>
<line x1="805.5" y1="1025" x2="805.5" y2="1200" stroke="#000" stroke-opacity="0.022" stroke-dasharray="6 6" stroke-width="1" stroke-dashoffset="1"/>
<line x1="816.5" y1="1025" x2="816.5" y2="1200" stroke="#000" stroke-opacity="0.09" stroke-dasharray="4 4" stroke-width="1" stroke-dashoffset="1"/>
<line x1="827.5" y1="1025" x2="827.5" y2="1200" stroke="#000" stroke-opacity="0.022" stroke-dasharray="6 6" stroke-width="1" stroke-dashoffset="1"/>
<line x1="838.5" y1="1025" x2="838.5" y2="1200" stroke="#000" stroke-opacity="0.022" stroke-dasharray="6 6" stroke-width="1" stroke-dashoffset="1"/>
<line x1="849.5" y1="1025" x2="849.5" y2="1200" stroke="#000" stroke-opacity="0.022" stroke-dasharray="6 6" stroke-width="1" stroke-dashoffset="1"/>
<line x1="860.5" y1="1025" x2="860.5" y2="1200" stroke="#000" stroke-opacity="0.022" stroke-dasharray="6 6" stroke-width="1" stroke-dashoffset="1"/>
<line x1="871.5" y1="1025" x2="871.5" y2="1200" stroke="#000" stroke-opacity="0.09" stroke-dasharray="4 4" stroke-width="1" stroke-dashoffset="1"/>
<line x1="882.5" y1="1025" x2="882.5" y2="1200" stroke="#000" stroke-opacity="0.022" stroke-dasharray="6 6" stroke-width="1" stroke-dashoffset="1"/>
<line x1="892.5" y1="1025" x2="892.5" y2="1200" stroke="#000" stroke-opacity="0.022" stroke-dasharray="6 6" stroke-width="1" stroke-dashoffset="1"/>
<line x1="903.5" y1="1025" x2="903.5" y2="1200" stroke="#000" stroke-opacity="0.022" stroke-dasharray="6 6" stroke-width="1" stroke-dashoffset="1"/>
<line x1="914.5" y1="1025" x2="914.5" y2="1200" stroke="#000" stroke-opacity="0.022" stroke-dasharray="6 6" stroke-width="1" stroke-dashoffset="1"/>
<line x1="925.5" y1="1025" x2="925.5" y2="1200" stroke="#000" stroke-opacity="0.09" stroke-dasharray="4 4" stroke-width="1" stroke-dashoffset="1"/>
<line x1="936.5" y1="1025" x2="936.5" y2="1200" stroke="#000" stroke-opacity="0.022" stroke-dasharray="6 6" stroke-width="1" stroke-dashoffset="1"/>
<line x1="947.5" y1="1025" x2="947.5" y2="1200" stroke="#000" stroke-opacity="0.022" stroke-dasharray="6 6" stroke-width="1" stroke-dashoffset="1"/>
<line x1="958.5" y1="1025" x2="958.5" y2="1200" stroke="#000" stroke-opacity="0.022" stroke-dasharray="6 6" stroke-width="1" stroke-dashoffset="1"/>
<line x1="969.5" y1="1025" x2="969.5" y2="1200" stroke="#000" stroke-opacity="0.022" stroke-dasharray="6 6" stroke-width="1" stroke-dashoffset="1"/>
<line x1="980.5" y1="1025" x2="980.5" y2="1200" stroke="#000" stroke-opacity="0.09" stroke-dasharray="4 4" stroke-width="1" stroke-dashoffset="1"/>
<line x1="991.5" y1="1025" x2="991.5" y2="1200" stroke="#000" stroke-opacity="0.022" stroke-dasharray="6 6" stroke-width="1" stroke-dashoffset="1"/>
<line x1="1002.5" y1="1025" x2="1002.5" y2="1200" stroke="#000" stroke-opacity="0.022" stroke-dasharray="6 6" stroke-width="1" stroke-dashoffset="1"/>
<line x1="1013.5" y1="1025" x2="1013.5" y2="1200" stroke="#000" stroke-opacity="0.022" stroke-dasharray="6 6" stroke-width="1" stroke-dashoffset="1"/>
<line x1="1024.5" y1="1025" x2="1024.5" y2="1200" stroke="#000" stroke-opacity="0.022" stroke-dasharray="6 6" stroke-width="1" stroke-dashoffset="1"/>
<line x1="1035.5" y1="1025" x2="1035.5" y2="1200" stroke="#000" stroke-opacity="0.09" stroke-dasharray="4 4" stroke-width="1" stroke-dashoffset="1"/>
<line x1="1046.5" y1="1025" x2="1046.5" y2="1200" stroke="#000" stroke-opacity="0.022" stroke-dasharray="6 6" stroke-width="1" stroke-dashoffset="1"/>
<line x1="1057.5" y1="1025" x2="1057.5" y2="1200" stroke="#000" stroke-opacity="0.022" stroke-dasharray="6 6" stroke-width="1" stroke-dashoffset="1"/>
<line x1="1067.5" y1="1025" x2="1067.5" y2="1200" stroke="#000" stroke-opacity="0.022" stroke-dasharray="6 6" stroke-width="1" stroke-dashoffset="1"/>
<line x1="1078.5" y1="1025" x2="1078.5" y2="1200" stroke="#000" stroke-opacity="0.022" stroke-dasharray="6 6" stroke-width="1" stroke-dashoffset="1"/>
<line x1="1089.5" y1="1025" x2="1089.5" y2="1200" stroke="#000" stroke-opacity="0.09" stroke-dasharray="4 4" stroke-width="1" stroke-dashoffset="1"/>
<line x1="1100.5" y1="1025" x2="1100.5" y2="1200" stroke="#000" stroke-opacity="0.022" stroke-dasharray="6 6" stroke-width="1" stroke-dashoffset="1"/>
<line x1="1111.5" y1="1025" x2="1111.5" y2="1200" stroke="#000" stroke-opacity="0.022" stroke-dasharray="6 6" stroke-width="1" stroke-dashoffset="1"/>
<line x1="1122.5" y1="1025" x2="1122.5" y2="1200" stroke="#000" stroke-opacity="0.022" stroke-dasharray="6 6" stroke-width="1" stroke-dashoffset="1"/>
<line x1="1133.5" y1="1025" x2="1133.5" y2="1200" stroke="#000" stroke-opacity="0.022" stroke-dasharray="6 6" stroke-width="1" stroke-dashoffset="1"/>
<line x1="1144.5" y1="1025" x2="1144.5" y2="1200" stroke="#000" stroke-opacity="0.09" stroke-dasharray="4 4" stroke-width="1" stroke-dashoffset="1"/>
<line x1="107" y1="1025.5" x2="1151" y2="1025.5" stroke="#000" stroke-opacity="0.09" stroke-width="1" stroke-dasharray="4 4"/>
<line x1="107" y1="1060.5" x2="1151" y2="1060.5" stroke="#000" stroke-opacity="0.09" stroke-width="1" stroke-dasharray="4 4"/>
<line x1="107" y1="1095.5" x2="1151" y2="1095.5" stroke="#000" stroke-opacity="0.09" stroke-width="1" stroke-dasharray="4 4"/>
<line x1="107" y1="1130.5" x2="1151" y2="1130.5" stroke="#000" stroke-opacity="0.09" stroke-width="1" stroke-dasharray="4 4"/>
<line x1="107" y1="1165.5" x2="1151" y2="1165.5" stroke="#000" stroke-opacity="0.09" stroke-width="1" stroke-dasharray="4 4"/>
<line x1="105" y1="1112.5" x2="1145" y2="1112.5" stroke="#606060" stroke-width="1"/>
<path d="M105.5 1089.2C106.3 1089.7 114.9 1094.5 116.4 1095.0C118.0 1095.5 125.8 1096.2 127.4 1096.2C128.9 1096.3 136.8 1095.9 138.3 1096.2C139.8 1096.6 147.7 1100.8 149.2 1101.2C150.8 1101.7 158.7 1103.1 160.2 1103.2C161.7 1103.4 169.6 1104.3 171.1 1103.8C172.7 1103.2 180.5 1096.3 182.1 1095.8C183.6 1095.2 191.5 1096.0 193.0 1095.2C194.5 1094.5 202.4 1086.5 203.9 1085.8C205.5 1085.0 213.3 1084.3 214.9 1084.2C216.4 1084.2 224.3 1085.4 225.8 1085.2C227.3 1085.1 235.2 1082.3 236.7 1082.2C238.3 1082.2 246.1 1084.1 247.7 1085.0C249.2 1085.9 257.1 1094.1 258.6 1095.5C260.1 1096.9 268.0 1104.3 269.6 1105.0C271.1 1105.7 279.0 1105.0 280.5 1105.2C282.0 1105.5 289.9 1108.2 291.4 1108.8C293.0 1109.3 300.8 1113.5 302.4 1113.5C303.9 1113.5 311.8 1109.8 313.3 1109.2C314.8 1108.7 322.7 1106.2 324.2 1106.2C325.8 1106.3 333.6 1108.7 335.2 1110.0C336.7 1111.3 344.6 1123.4 346.1 1124.8C347.6 1126.1 355.5 1129.9 357.0 1129.2C358.6 1128.6 366.5 1116.3 368.0 1115.5C369.5 1114.7 377.4 1118.5 378.9 1118.2C380.5 1118.0 388.3 1113.0 389.9 1111.2C391.4 1109.5 399.3 1095.1 400.8 1093.8C402.3 1092.4 410.2 1091.4 411.7 1091.5C413.3 1091.6 421.1 1095.2 422.7 1095.2C424.2 1095.3 432.1 1092.5 433.6 1092.5C435.1 1092.5 443.0 1093.8 444.5 1095.0C446.1 1096.2 453.9 1108.3 455.5 1110.0C457.0 1111.7 464.9 1117.5 466.4 1118.8C467.9 1120.0 475.8 1126.6 477.4 1127.5C478.9 1128.4 486.8 1131.5 488.3 1132.0C489.8 1132.5 497.7 1135.2 499.2 1135.2C500.8 1135.3 508.6 1134.2 510.2 1133.0C511.7 1131.8 519.6 1119.4 521.1 1118.0C522.6 1116.6 530.5 1114.0 532.0 1113.5C533.6 1113.0 541.4 1112.1 543.0 1110.8C544.5 1109.4 552.4 1095.7 553.9 1094.5C555.4 1093.3 563.3 1092.9 564.8 1093.8C566.4 1094.6 574.3 1105.9 575.8 1107.0C577.3 1108.1 585.2 1110.2 586.7 1110.0C588.3 1109.8 596.1 1104.5 597.7 1103.8C599.2 1103.0 607.1 1099.2 608.6 1098.8C610.1 1098.3 618.0 1097.1 619.5 1098.0C621.1 1098.9 628.9 1111.4 630.5 1111.2C632.0 1111.1 639.9 1097.6 641.4 1096.5C642.9 1095.4 650.8 1095.2 652.3 1095.2C653.9 1095.2 661.7 1096.4 663.3 1096.5C664.8 1096.6 672.7 1098.0 674.2 1097.2C675.7 1096.5 683.6 1086.3 685.2 1086.2C686.7 1086.2 694.6 1096.4 696.1 1097.0C697.6 1097.6 705.5 1094.5 707.0 1095.0C708.6 1095.5 716.4 1103.9 718.0 1104.0C719.5 1104.1 727.4 1096.9 728.9 1097.0C730.4 1097.1 738.3 1105.3 739.8 1105.2C741.4 1105.2 749.2 1097.6 750.8 1096.8C752.3 1095.9 760.2 1093.1 761.7 1092.8C763.2 1092.4 771.1 1092.6 772.6 1092.2C774.2 1091.9 782.1 1087.3 783.6 1087.2C785.1 1087.2 793.0 1090.0 794.5 1091.2C796.1 1092.5 803.9 1104.4 805.5 1105.5C807.0 1106.6 814.9 1107.4 816.4 1107.0C817.9 1106.6 825.8 1100.0 827.3 1099.5C828.9 1099.0 836.7 1100.5 838.3 1100.5C839.8 1100.5 847.7 1099.3 849.2 1099.5C850.7 1099.7 858.6 1102.4 860.1 1103.2C861.7 1104.1 869.5 1110.7 871.1 1111.0C872.6 1111.3 880.5 1106.8 882.0 1107.2C883.5 1107.7 891.4 1116.4 893.0 1117.0C894.5 1117.6 902.4 1115.2 903.9 1115.5C905.4 1115.8 913.3 1121.1 914.8 1121.2C916.4 1121.4 924.2 1120.6 925.8 1117.0C927.3 1113.4 935.2 1073.3 936.7 1070.5C938.2 1067.7 946.1 1076.6 947.6 1077.0C949.2 1077.4 957.0 1075.4 958.6 1076.5C960.1 1077.6 968.0 1091.2 969.5 1092.2C971.0 1093.3 978.9 1091.3 980.4 1091.5C982.0 1091.7 989.9 1093.1 991.4 1095.0C992.9 1096.9 1000.8 1116.0 1002.3 1118.0C1003.9 1120.0 1011.7 1123.0 1013.3 1123.4C1014.8 1123.8 1022.7 1123.6 1024.2 1124.0C1025.7 1124.4 1033.6 1129.0 1035.1 1129.6C1036.7 1130.2 1044.5 1131.6 1046.1 1132.0C1047.6 1132.4 1055.5 1135.6 1057.0 1135.0C1058.5 1134.4 1066.4 1124.0 1067.9 1123.2C1069.5 1122.4 1077.3 1122.7 1078.9 1123.4C1080.4 1124.1 1088.3 1132.9 1089.8 1133.4C1091.3 1133.9 1099.2 1131.8 1100.8 1131.0C1102.3 1130.2 1110.2 1122.9 1111.7 1122.4C1113.2 1121.9 1121.1 1123.7 1122.6 1124.0C1124.2 1124.3 1132.0 1128.2 1133.6 1127.0C1135.1 1125.8 1143.7 1107.8 1144.5 1106.4" fill="none" stroke="#f24848" stroke-width="1"/>
<line x1="100.5" y1="1012" x2="100.5" y2="1201" stroke="#000" stroke-width="1"/>
<polygon points="100.5,1013 96.9,1020 104.1,1020" fill="#000"/>
<line x1="100" y1="1200.5" x2="1163" y2="1200.5" stroke="#000" stroke-width="1"/>
<polygon points="1162,1200.5 1155,1196.9 1155,1204.1" fill="#000"/>
<line x1="98" y1="1025.5" x2="103" y2="1025.5" stroke="#000" stroke-width="1"/>
<text x="98.40" y="1029.90" font-size="10.8" text-anchor="end" fill="#000"  textLength="37.78" lengthAdjust="spacingAndGlyphs">100.00</text>
<line x1="98" y1="1042.5" x2="101" y2="1042.5" stroke="#f00" stroke-width="1"/>
<line x1="98" y1="1060.5" x2="103" y2="1060.5" stroke="#000" stroke-width="1"/>
<text x="98.40" y="1064.90" font-size="10.8" text-anchor="end" fill="#000"  textLength="31.00" lengthAdjust="spacingAndGlyphs">80.00</text>
<line x1="98" y1="1077.5" x2="101" y2="1077.5" stroke="#f00" stroke-width="1"/>
<line x1="98" y1="1095.5" x2="103" y2="1095.5" stroke="#000" stroke-width="1"/>
<text x="98.40" y="1099.90" font-size="10.8" text-anchor="end" fill="#000"  textLength="31.00" lengthAdjust="spacingAndGlyphs">60.00</text>
<line x1="98" y1="1112.5" x2="101" y2="1112.5" stroke="#f00" stroke-width="1"/>
<line x1="98" y1="1130.5" x2="103" y2="1130.5" stroke="#000" stroke-width="1"/>
<text x="98.40" y="1134.90" font-size="10.8" text-anchor="end" fill="#000"  textLength="31.00" lengthAdjust="spacingAndGlyphs">40.00</text>
<line x1="98" y1="1147.5" x2="101" y2="1147.5" stroke="#f00" stroke-width="1"/>
<line x1="98" y1="1165.5" x2="103" y2="1165.5" stroke="#000" stroke-width="1"/>
<text x="98.40" y="1169.90" font-size="10.8" text-anchor="end" fill="#000"  textLength="31.00" lengthAdjust="spacingAndGlyphs">20.00</text>
<line x1="98" y1="1182.5" x2="101" y2="1182.5" stroke="#f00" stroke-width="1"/>
<line x1="98" y1="1200.5" x2="103" y2="1200.5" stroke="#000" stroke-width="1"/>
<text x="98.40" y="1204.90" font-size="10.8" text-anchor="end" fill="#000"  textLength="24.22" lengthAdjust="spacingAndGlyphs">0.00</text>
<line x1="105.5" y1="1198" x2="105.5" y2="1203" stroke="#000" stroke-width="1"/>
<text x="107.10" y="1213.80" font-size="10.8" text-anchor="middle" fill="#000"  textLength="35.50" lengthAdjust="spacingAndGlyphs">27 Juil</text>
<line x1="116.5" y1="1201" x2="116.5" y2="1203" stroke="#c4c4c4" stroke-width="1"/>
<line x1="127.5" y1="1201" x2="127.5" y2="1203" stroke="#c4c4c4" stroke-width="1"/>
<line x1="138.5" y1="1201" x2="138.5" y2="1203" stroke="#c4c4c4" stroke-width="1"/>
<line x1="149.5" y1="1201" x2="149.5" y2="1203" stroke="#c4c4c4" stroke-width="1"/>
<line x1="160.5" y1="1198" x2="160.5" y2="1203" stroke="#000" stroke-width="1"/>
<text x="162.10" y="1213.80" font-size="10.8" text-anchor="middle" fill="#000"  textLength="37.10" lengthAdjust="spacingAndGlyphs">3 Août</text>
<line x1="171.5" y1="1201" x2="171.5" y2="1203" stroke="#c4c4c4" stroke-width="1"/>
<line x1="182.5" y1="1201" x2="182.5" y2="1203" stroke="#c4c4c4" stroke-width="1"/>
<line x1="192.5" y1="1201" x2="192.5" y2="1203" stroke="#c4c4c4" stroke-width="1"/>
<line x1="203.5" y1="1201" x2="203.5" y2="1203" stroke="#c4c4c4" stroke-width="1"/>
<line x1="214.5" y1="1198" x2="214.5" y2="1203" stroke="#000" stroke-width="1"/>
<text x="216.10" y="1213.80" font-size="10.8" text-anchor="middle" fill="#000"  textLength="43.80" lengthAdjust="spacingAndGlyphs">10 Août</text>
<line x1="225.5" y1="1201" x2="225.5" y2="1203" stroke="#c4c4c4" stroke-width="1"/>
<line x1="236.5" y1="1201" x2="236.5" y2="1203" stroke="#c4c4c4" stroke-width="1"/>
<line x1="247.5" y1="1201" x2="247.5" y2="1203" stroke="#c4c4c4" stroke-width="1"/>
<line x1="258.5" y1="1201" x2="258.5" y2="1203" stroke="#c4c4c4" stroke-width="1"/>
<line x1="269.5" y1="1198" x2="269.5" y2="1203" stroke="#000" stroke-width="1"/>
<text x="271.10" y="1213.80" font-size="10.8" text-anchor="middle" fill="#000"  textLength="43.80" lengthAdjust="spacingAndGlyphs">17 Août</text>
<line x1="280.5" y1="1201" x2="280.5" y2="1203" stroke="#c4c4c4" stroke-width="1"/>
<line x1="291.5" y1="1201" x2="291.5" y2="1203" stroke="#c4c4c4" stroke-width="1"/>
<line x1="302.5" y1="1201" x2="302.5" y2="1203" stroke="#c4c4c4" stroke-width="1"/>
<line x1="313.5" y1="1201" x2="313.5" y2="1203" stroke="#c4c4c4" stroke-width="1"/>
<line x1="324.5" y1="1198" x2="324.5" y2="1203" stroke="#000" stroke-width="1"/>
<text x="326.10" y="1213.80" font-size="10.8" text-anchor="middle" fill="#000"  textLength="43.80" lengthAdjust="spacingAndGlyphs">24 Août</text>
<line x1="335.5" y1="1201" x2="335.5" y2="1203" stroke="#c4c4c4" stroke-width="1"/>
<line x1="346.5" y1="1201" x2="346.5" y2="1203" stroke="#c4c4c4" stroke-width="1"/>
<line x1="357.5" y1="1201" x2="357.5" y2="1203" stroke="#c4c4c4" stroke-width="1"/>
<line x1="367.5" y1="1201" x2="367.5" y2="1203" stroke="#c4c4c4" stroke-width="1"/>
<line x1="378.5" y1="1198" x2="378.5" y2="1203" stroke="#000" stroke-width="1"/>
<text x="380.10" y="1213.80" font-size="10.8" text-anchor="middle" fill="#000"  textLength="43.80" lengthAdjust="spacingAndGlyphs">31 Août</text>
<line x1="389.5" y1="1201" x2="389.5" y2="1203" stroke="#c4c4c4" stroke-width="1"/>
<line x1="400.5" y1="1201" x2="400.5" y2="1203" stroke="#c4c4c4" stroke-width="1"/>
<line x1="411.5" y1="1201" x2="411.5" y2="1203" stroke="#c4c4c4" stroke-width="1"/>
<line x1="422.5" y1="1201" x2="422.5" y2="1203" stroke="#c4c4c4" stroke-width="1"/>
<line x1="433.5" y1="1198" x2="433.5" y2="1203" stroke="#000" stroke-width="1"/>
<text x="435.10" y="1212.80" font-size="10.8" text-anchor="middle" fill="#000"  textLength="36.90" lengthAdjust="spacingAndGlyphs">7 Sept</text>
<line x1="444.5" y1="1201" x2="444.5" y2="1203" stroke="#c4c4c4" stroke-width="1"/>
<line x1="455.5" y1="1201" x2="455.5" y2="1203" stroke="#c4c4c4" stroke-width="1"/>
<line x1="466.5" y1="1201" x2="466.5" y2="1203" stroke="#c4c4c4" stroke-width="1"/>
<line x1="477.5" y1="1201" x2="477.5" y2="1203" stroke="#c4c4c4" stroke-width="1"/>
<line x1="488.5" y1="1198" x2="488.5" y2="1203" stroke="#000" stroke-width="1"/>
<text x="490.10" y="1212.80" font-size="10.8" text-anchor="middle" fill="#000"  textLength="44.20" lengthAdjust="spacingAndGlyphs">14 Sept</text>
<line x1="499.5" y1="1201" x2="499.5" y2="1203" stroke="#c4c4c4" stroke-width="1"/>
<line x1="510.5" y1="1201" x2="510.5" y2="1203" stroke="#c4c4c4" stroke-width="1"/>
<line x1="521.5" y1="1201" x2="521.5" y2="1203" stroke="#c4c4c4" stroke-width="1"/>
<line x1="532.5" y1="1201" x2="532.5" y2="1203" stroke="#c4c4c4" stroke-width="1"/>
<line x1="542.5" y1="1198" x2="542.5" y2="1203" stroke="#000" stroke-width="1"/>
<text x="544.10" y="1212.80" font-size="10.8" text-anchor="middle" fill="#000"  textLength="44.20" lengthAdjust="spacingAndGlyphs">21 Sept</text>
<line x1="553.5" y1="1201" x2="553.5" y2="1203" stroke="#c4c4c4" stroke-width="1"/>
<line x1="564.5" y1="1201" x2="564.5" y2="1203" stroke="#c4c4c4" stroke-width="1"/>
<line x1="575.5" y1="1201" x2="575.5" y2="1203" stroke="#c4c4c4" stroke-width="1"/>
<line x1="586.5" y1="1201" x2="586.5" y2="1203" stroke="#c4c4c4" stroke-width="1"/>
<line x1="597.5" y1="1198" x2="597.5" y2="1203" stroke="#000" stroke-width="1"/>
<text x="599.10" y="1212.80" font-size="10.8" text-anchor="middle" fill="#000"  textLength="44.20" lengthAdjust="spacingAndGlyphs">28 Sept</text>
<line x1="608.5" y1="1201" x2="608.5" y2="1203" stroke="#c4c4c4" stroke-width="1"/>
<line x1="619.5" y1="1201" x2="619.5" y2="1203" stroke="#c4c4c4" stroke-width="1"/>
<line x1="630.5" y1="1201" x2="630.5" y2="1203" stroke="#c4c4c4" stroke-width="1"/>
<line x1="641.5" y1="1201" x2="641.5" y2="1203" stroke="#c4c4c4" stroke-width="1"/>
<line x1="652.5" y1="1198" x2="652.5" y2="1203" stroke="#000" stroke-width="1"/>
<text x="654.10" y="1212.80" font-size="10.8" text-anchor="middle" fill="#000"  textLength="29.50" lengthAdjust="spacingAndGlyphs">5 Oct</text>
<line x1="663.5" y1="1201" x2="663.5" y2="1203" stroke="#c4c4c4" stroke-width="1"/>
<line x1="674.5" y1="1201" x2="674.5" y2="1203" stroke="#c4c4c4" stroke-width="1"/>
<line x1="685.5" y1="1201" x2="685.5" y2="1203" stroke="#c4c4c4" stroke-width="1"/>
<line x1="696.5" y1="1201" x2="696.5" y2="1203" stroke="#c4c4c4" stroke-width="1"/>
<line x1="707.5" y1="1198" x2="707.5" y2="1203" stroke="#000" stroke-width="1"/>
<text x="709.10" y="1212.80" font-size="10.8" text-anchor="middle" fill="#000"  textLength="36.90" lengthAdjust="spacingAndGlyphs">12 Oct</text>
<line x1="717.5" y1="1201" x2="717.5" y2="1203" stroke="#c4c4c4" stroke-width="1"/>
<line x1="728.5" y1="1201" x2="728.5" y2="1203" stroke="#c4c4c4" stroke-width="1"/>
<line x1="739.5" y1="1201" x2="739.5" y2="1203" stroke="#c4c4c4" stroke-width="1"/>
<line x1="750.5" y1="1201" x2="750.5" y2="1203" stroke="#c4c4c4" stroke-width="1"/>
<line x1="761.5" y1="1198" x2="761.5" y2="1203" stroke="#000" stroke-width="1"/>
<text x="763.10" y="1212.80" font-size="10.8" text-anchor="middle" fill="#000"  textLength="36.90" lengthAdjust="spacingAndGlyphs">19 Oct</text>
<line x1="772.5" y1="1201" x2="772.5" y2="1203" stroke="#c4c4c4" stroke-width="1"/>
<line x1="783.5" y1="1201" x2="783.5" y2="1203" stroke="#c4c4c4" stroke-width="1"/>
<line x1="794.5" y1="1201" x2="794.5" y2="1203" stroke="#c4c4c4" stroke-width="1"/>
<line x1="805.5" y1="1201" x2="805.5" y2="1203" stroke="#c4c4c4" stroke-width="1"/>
<line x1="816.5" y1="1198" x2="816.5" y2="1203" stroke="#000" stroke-width="1"/>
<text x="818.10" y="1212.80" font-size="10.8" text-anchor="middle" fill="#000"  textLength="36.90" lengthAdjust="spacingAndGlyphs">26 Oct</text>
<line x1="827.5" y1="1201" x2="827.5" y2="1203" stroke="#c4c4c4" stroke-width="1"/>
<line x1="838.5" y1="1201" x2="838.5" y2="1203" stroke="#c4c4c4" stroke-width="1"/>
<line x1="849.5" y1="1201" x2="849.5" y2="1203" stroke="#c4c4c4" stroke-width="1"/>
<line x1="860.5" y1="1201" x2="860.5" y2="1203" stroke="#c4c4c4" stroke-width="1"/>
<line x1="871.5" y1="1198" x2="871.5" y2="1203" stroke="#000" stroke-width="1"/>
<text x="873.10" y="1212.80" font-size="10.8" text-anchor="middle" fill="#000"  textLength="31.70" lengthAdjust="spacingAndGlyphs">2 Nov</text>
<line x1="882.5" y1="1201" x2="882.5" y2="1203" stroke="#c4c4c4" stroke-width="1"/>
<line x1="892.5" y1="1201" x2="892.5" y2="1203" stroke="#c4c4c4" stroke-width="1"/>
<line x1="903.5" y1="1201" x2="903.5" y2="1203" stroke="#c4c4c4" stroke-width="1"/>
<line x1="914.5" y1="1201" x2="914.5" y2="1203" stroke="#c4c4c4" stroke-width="1"/>
<line x1="925.5" y1="1198" x2="925.5" y2="1203" stroke="#000" stroke-width="1"/>
<text x="927.10" y="1212.80" font-size="10.8" text-anchor="middle" fill="#000"  textLength="31.70" lengthAdjust="spacingAndGlyphs">9 Nov</text>
<line x1="936.5" y1="1201" x2="936.5" y2="1203" stroke="#c4c4c4" stroke-width="1"/>
<line x1="947.5" y1="1201" x2="947.5" y2="1203" stroke="#c4c4c4" stroke-width="1"/>
<line x1="958.5" y1="1201" x2="958.5" y2="1203" stroke="#c4c4c4" stroke-width="1"/>
<line x1="969.5" y1="1201" x2="969.5" y2="1203" stroke="#c4c4c4" stroke-width="1"/>
<line x1="980.5" y1="1198" x2="980.5" y2="1203" stroke="#000" stroke-width="1"/>
<text x="982.10" y="1212.80" font-size="10.8" text-anchor="middle" fill="#000"  textLength="38.70" lengthAdjust="spacingAndGlyphs">16 Nov</text>
<line x1="991.5" y1="1201" x2="991.5" y2="1203" stroke="#c4c4c4" stroke-width="1"/>
<line x1="1002.5" y1="1201" x2="1002.5" y2="1203" stroke="#c4c4c4" stroke-width="1"/>
<line x1="1013.5" y1="1201" x2="1013.5" y2="1203" stroke="#c4c4c4" stroke-width="1"/>
<line x1="1024.5" y1="1201" x2="1024.5" y2="1203" stroke="#c4c4c4" stroke-width="1"/>
<line x1="1035.5" y1="1198" x2="1035.5" y2="1203" stroke="#000" stroke-width="1"/>
<text x="1037.10" y="1212.80" font-size="10.8" text-anchor="middle" fill="#000"  textLength="38.70" lengthAdjust="spacingAndGlyphs">23 Nov</text>
<line x1="1046.5" y1="1201" x2="1046.5" y2="1203" stroke="#c4c4c4" stroke-width="1"/>
<line x1="1057.5" y1="1201" x2="1057.5" y2="1203" stroke="#c4c4c4" stroke-width="1"/>
<line x1="1067.5" y1="1201" x2="1067.5" y2="1203" stroke="#c4c4c4" stroke-width="1"/>
<line x1="1078.5" y1="1201" x2="1078.5" y2="1203" stroke="#c4c4c4" stroke-width="1"/>
<line x1="1089.5" y1="1198" x2="1089.5" y2="1203" stroke="#000" stroke-width="1"/>
<text x="1091.10" y="1213.80" font-size="10.8" text-anchor="middle" fill="#000"  textLength="32.70" lengthAdjust="spacingAndGlyphs">2 Déc</text>
<line x1="1100.5" y1="1201" x2="1100.5" y2="1203" stroke="#c4c4c4" stroke-width="1"/>
<line x1="1111.5" y1="1201" x2="1111.5" y2="1203" stroke="#c4c4c4" stroke-width="1"/>
<line x1="1122.5" y1="1201" x2="1122.5" y2="1203" stroke="#c4c4c4" stroke-width="1"/>
<line x1="1133.5" y1="1201" x2="1133.5" y2="1203" stroke="#c4c4c4" stroke-width="1"/>
<line x1="1144.5" y1="1198" x2="1144.5" y2="1203" stroke="#000" stroke-width="1"/>
<text x="1146.10" y="1213.80" font-size="10.8" text-anchor="middle" fill="#000"  textLength="32.70" lengthAdjust="spacingAndGlyphs">9 Déc</text>
<text x="626.30" y="1226.60" font-size="10.8" text-anchor="middle" fill="#000"  textLength="264.50" lengthAdjust="spacingAndGlyphs">Date (du 27 Juillet 2016 au 9 Décembre 2016)</text>
<text x="111.00" y="994.90" font-size="25" text-anchor="start" fill="#000"  textLength="671.50" lengthAdjust="spacingAndGlyphs">Vivendi: graphique du RSI - RSI(14) - AnalyBourse.com</text>
<text transform="translate(58,1110.3) rotate(-90)" font-size="10.8" text-anchor="middle" textLength="19.6" lengthAdjust="spacingAndGlyphs">RSI</text>
<rect x="101" y="1350.5" width="1049.8" height="25.0" fill="#f9f9f9"/>
<rect x="101" y="1400.5" width="1049.8" height="25.0" fill="#f9f9f9"/>
<rect x="101" y="1450.5" width="1049.8" height="25.0" fill="#f9f9f9"/>
<line x1="105.5" y1="1325" x2="105.5" y2="1500" stroke="#000" stroke-opacity="0.09" stroke-dasharray="4 4" stroke-width="1" stroke-dashoffset="1"/>
<line x1="116.5" y1="1325" x2="116.5" y2="1500" stroke="#000" stroke-opacity="0.022" stroke-dasharray="6 6" stroke-width="1" stroke-dashoffset="1"/>
<line x1="127.5" y1="1325" x2="127.5" y2="1500" stroke="#000" stroke-opacity="0.022" stroke-dasharray="6 6" stroke-width="1" stroke-dashoffset="1"/>
<line x1="138.5" y1="1325" x2="138.5" y2="1500" stroke="#000" stroke-opacity="0.022" stroke-dasharray="6 6" stroke-width="1" stroke-dashoffset="1"/>
<line x1="149.5" y1="1325" x2="149.5" y2="1500" stroke="#000" stroke-opacity="0.022" stroke-dasharray="6 6" stroke-width="1" stroke-dashoffset="1"/>
<line x1="160.5" y1="1325" x2="160.5" y2="1500" stroke="#000" stroke-opacity="0.09" stroke-dasharray="4 4" stroke-width="1" stroke-dashoffset="1"/>
<line x1="171.5" y1="1325" x2="171.5" y2="1500" stroke="#000" stroke-opacity="0.022" stroke-dasharray="6 6" stroke-width="1" stroke-dashoffset="1"/>
<line x1="182.5" y1="1325" x2="182.5" y2="1500" stroke="#000" stroke-opacity="0.022" stroke-dasharray="6 6" stroke-width="1" stroke-dashoffset="1"/>
<line x1="192.5" y1="1325" x2="192.5" y2="1500" stroke="#000" stroke-opacity="0.022" stroke-dasharray="6 6" stroke-width="1" stroke-dashoffset="1"/>
<line x1="203.5" y1="1325" x2="203.5" y2="1500" stroke="#000" stroke-opacity="0.022" stroke-dasharray="6 6" stroke-width="1" stroke-dashoffset="1"/>
<line x1="214.5" y1="1325" x2="214.5" y2="1500" stroke="#000" stroke-opacity="0.09" stroke-dasharray="4 4" stroke-width="1" stroke-dashoffset="1"/>
<line x1="225.5" y1="1325" x2="225.5" y2="1500" stroke="#000" stroke-opacity="0.022" stroke-dasharray="6 6" stroke-width="1" stroke-dashoffset="1"/>
<line x1="236.5" y1="1325" x2="236.5" y2="1500" stroke="#000" stroke-opacity="0.022" stroke-dasharray="6 6" stroke-width="1" stroke-dashoffset="1"/>
<line x1="247.5" y1="1325" x2="247.5" y2="1500" stroke="#000" stroke-opacity="0.022" stroke-dasharray="6 6" stroke-width="1" stroke-dashoffset="1"/>
<line x1="258.5" y1="1325" x2="258.5" y2="1500" stroke="#000" stroke-opacity="0.022" stroke-dasharray="6 6" stroke-width="1" stroke-dashoffset="1"/>
<line x1="269.5" y1="1325" x2="269.5" y2="1500" stroke="#000" stroke-opacity="0.09" stroke-dasharray="4 4" stroke-width="1" stroke-dashoffset="1"/>
<line x1="280.5" y1="1325" x2="280.5" y2="1500" stroke="#000" stroke-opacity="0.022" stroke-dasharray="6 6" stroke-width="1" stroke-dashoffset="1"/>
<line x1="291.5" y1="1325" x2="291.5" y2="1500" stroke="#000" stroke-opacity="0.022" stroke-dasharray="6 6" stroke-width="1" stroke-dashoffset="1"/>
<line x1="302.5" y1="1325" x2="302.5" y2="1500" stroke="#000" stroke-opacity="0.022" stroke-dasharray="6 6" stroke-width="1" stroke-dashoffset="1"/>
<line x1="313.5" y1="1325" x2="313.5" y2="1500" stroke="#000" stroke-opacity="0.022" stroke-dasharray="6 6" stroke-width="1" stroke-dashoffset="1"/>
<line x1="324.5" y1="1325" x2="324.5" y2="1500" stroke="#000" stroke-opacity="0.09" stroke-dasharray="4 4" stroke-width="1" stroke-dashoffset="1"/>
<line x1="335.5" y1="1325" x2="335.5" y2="1500" stroke="#000" stroke-opacity="0.022" stroke-dasharray="6 6" stroke-width="1" stroke-dashoffset="1"/>
<line x1="346.5" y1="1325" x2="346.5" y2="1500" stroke="#000" stroke-opacity="0.022" stroke-dasharray="6 6" stroke-width="1" stroke-dashoffset="1"/>
<line x1="357.5" y1="1325" x2="357.5" y2="1500" stroke="#000" stroke-opacity="0.022" stroke-dasharray="6 6" stroke-width="1" stroke-dashoffset="1"/>
<line x1="367.5" y1="1325" x2="367.5" y2="1500" stroke="#000" stroke-opacity="0.022" stroke-dasharray="6 6" stroke-width="1" stroke-dashoffset="1"/>
<line x1="378.5" y1="1325" x2="378.5" y2="1500" stroke="#000" stroke-opacity="0.09" stroke-dasharray="4 4" stroke-width="1" stroke-dashoffset="1"/>
<line x1="389.5" y1="1325" x2="389.5" y2="1500" stroke="#000" stroke-opacity="0.022" stroke-dasharray="6 6" stroke-width="1" stroke-dashoffset="1"/>
<line x1="400.5" y1="1325" x2="400.5" y2="1500" stroke="#000" stroke-opacity="0.022" stroke-dasharray="6 6" stroke-width="1" stroke-dashoffset="1"/>
<line x1="411.5" y1="1325" x2="411.5" y2="1500" stroke="#000" stroke-opacity="0.022" stroke-dasharray="6 6" stroke-width="1" stroke-dashoffset="1"/>
<line x1="422.5" y1="1325" x2="422.5" y2="1500" stroke="#000" stroke-opacity="0.022" stroke-dasharray="6 6" stroke-width="1" stroke-dashoffset="1"/>
<line x1="433.5" y1="1325" x2="433.5" y2="1500" stroke="#000" stroke-opacity="0.09" stroke-dasharray="4 4" stroke-width="1" stroke-dashoffset="1"/>
<line x1="444.5" y1="1325" x2="444.5" y2="1500" stroke="#000" stroke-opacity="0.022" stroke-dasharray="6 6" stroke-width="1" stroke-dashoffset="1"/>
<line x1="455.5" y1="1325" x2="455.5" y2="1500" stroke="#000" stroke-opacity="0.022" stroke-dasharray="6 6" stroke-width="1" stroke-dashoffset="1"/>
<line x1="466.5" y1="1325" x2="466.5" y2="1500" stroke="#000" stroke-opacity="0.022" stroke-dasharray="6 6" stroke-width="1" stroke-dashoffset="1"/>
<line x1="477.5" y1="1325" x2="477.5" y2="1500" stroke="#000" stroke-opacity="0.022" stroke-dasharray="6 6" stroke-width="1" stroke-dashoffset="1"/>
<line x1="488.5" y1="1325" x2="488.5" y2="1500" stroke="#000" stroke-opacity="0.09" stroke-dasharray="4 4" stroke-width="1" stroke-dashoffset="1"/>
<line x1="499.5" y1="1325" x2="499.5" y2="1500" stroke="#000" stroke-opacity="0.022" stroke-dasharray="6 6" stroke-width="1" stroke-dashoffset="1"/>
<line x1="510.5" y1="1325" x2="510.5" y2="1500" stroke="#000" stroke-opacity="0.022" stroke-dasharray="6 6" stroke-width="1" stroke-dashoffset="1"/>
<line x1="521.5" y1="1325" x2="521.5" y2="1500" stroke="#000" stroke-opacity="0.022" stroke-dasharray="6 6" stroke-width="1" stroke-dashoffset="1"/>
<line x1="532.5" y1="1325" x2="532.5" y2="1500" stroke="#000" stroke-opacity="0.022" stroke-dasharray="6 6" stroke-width="1" stroke-dashoffset="1"/>
<line x1="542.5" y1="1325" x2="542.5" y2="1500" stroke="#000" stroke-opacity="0.09" stroke-dasharray="4 4" stroke-width="1" stroke-dashoffset="1"/>
<line x1="553.5" y1="1325" x2="553.5" y2="1500" stroke="#000" stroke-opacity="0.022" stroke-dasharray="6 6" stroke-width="1" stroke-dashoffset="1"/>
<line x1="564.5" y1="1325" x2="564.5" y2="1500" stroke="#000" stroke-opacity="0.022" stroke-dasharray="6 6" stroke-width="1" stroke-dashoffset="1"/>
<line x1="575.5" y1="1325" x2="575.5" y2="1500" stroke="#000" stroke-opacity="0.022" stroke-dasharray="6 6" stroke-width="1" stroke-dashoffset="1"/>
<line x1="586.5" y1="1325" x2="586.5" y2="1500" stroke="#000" stroke-opacity="0.022" stroke-dasharray="6 6" stroke-width="1" stroke-dashoffset="1"/>
<line x1="597.5" y1="1325" x2="597.5" y2="1500" stroke="#000" stroke-opacity="0.09" stroke-dasharray="4 4" stroke-width="1" stroke-dashoffset="1"/>
<line x1="608.5" y1="1325" x2="608.5" y2="1500" stroke="#000" stroke-opacity="0.022" stroke-dasharray="6 6" stroke-width="1" stroke-dashoffset="1"/>
<line x1="619.5" y1="1325" x2="619.5" y2="1500" stroke="#000" stroke-opacity="0.022" stroke-dasharray="6 6" stroke-width="1" stroke-dashoffset="1"/>
<line x1="630.5" y1="1325" x2="630.5" y2="1500" stroke="#000" stroke-opacity="0.022" stroke-dasharray="6 6" stroke-width="1" stroke-dashoffset="1"/>
<line x1="641.5" y1="1325" x2="641.5" y2="1500" stroke="#000" stroke-opacity="0.022" stroke-dasharray="6 6" stroke-width="1" stroke-dashoffset="1"/>
<line x1="652.5" y1="1325" x2="652.5" y2="1500" stroke="#000" stroke-opacity="0.09" stroke-dasharray="4 4" stroke-width="1" stroke-dashoffset="1"/>
<line x1="663.5" y1="1325" x2="663.5" y2="1500" stroke="#000" stroke-opacity="0.022" stroke-dasharray="6 6" stroke-width="1" stroke-dashoffset="1"/>
<line x1="674.5" y1="1325" x2="674.5" y2="1500" stroke="#000" stroke-opacity="0.022" stroke-dasharray="6 6" stroke-width="1" stroke-dashoffset="1"/>
<line x1="685.5" y1="1325" x2="685.5" y2="1500" stroke="#000" stroke-opacity="0.022" stroke-dasharray="6 6" stroke-width="1" stroke-dashoffset="1"/>
<line x1="696.5" y1="1325" x2="696.5" y2="1500" stroke="#000" stroke-opacity="0.022" stroke-dasharray="6 6" stroke-width="1" stroke-dashoffset="1"/>
<line x1="707.5" y1="1325" x2="707.5" y2="1500" stroke="#000" stroke-opacity="0.09" stroke-dasharray="4 4" stroke-width="1" stroke-dashoffset="1"/>
<line x1="717.5" y1="1325" x2="717.5" y2="1500" stroke="#000" stroke-opacity="0.022" stroke-dasharray="6 6" stroke-width="1" stroke-dashoffset="1"/>
<line x1="728.5" y1="1325" x2="728.5" y2="1500" stroke="#000" stroke-opacity="0.022" stroke-dasharray="6 6" stroke-width="1" stroke-dashoffset="1"/>
<line x1="739.5" y1="1325" x2="739.5" y2="1500" stroke="#000" stroke-opacity="0.022" stroke-dasharray="6 6" stroke-width="1" stroke-dashoffset="1"/>
<line x1="750.5" y1="1325" x2="750.5" y2="1500" stroke="#000" stroke-opacity="0.022" stroke-dasharray="6 6" stroke-width="1" stroke-dashoffset="1"/>
<line x1="761.5" y1="1325" x2="761.5" y2="1500" stroke="#000" stroke-opacity="0.09" stroke-dasharray="4 4" stroke-width="1" stroke-dashoffset="1"/>
<line x1="772.5" y1="1325" x2="772.5" y2="1500" stroke="#000" stroke-opacity="0.022" stroke-dasharray="6 6" stroke-width="1" stroke-dashoffset="1"/>
<line x1="783.5" y1="1325" x2="783.5" y2="1500" stroke="#000" stroke-opacity="0.022" stroke-dasharray="6 6" stroke-width="1" stroke-dashoffset="1"/>
<line x1="794.5" y1="1325" x2="794.5" y2="1500" stroke="#000" stroke-opacity="0.022" stroke-dasharray="6 6" stroke-width="1" stroke-dashoffset="1"/>
<line x1="805.5" y1="1325" x2="805.5" y2="1500" stroke="#000" stroke-opacity="0.022" stroke-dasharray="6 6" stroke-width="1" stroke-dashoffset="1"/>
<line x1="816.5" y1="1325" x2="816.5" y2="1500" stroke="#000" stroke-opacity="0.09" stroke-dasharray="4 4" stroke-width="1" stroke-dashoffset="1"/>
<line x1="827.5" y1="1325" x2="827.5" y2="1500" stroke="#000" stroke-opacity="0.022" stroke-dasharray="6 6" stroke-width="1" stroke-dashoffset="1"/>
<line x1="838.5" y1="1325" x2="838.5" y2="1500" stroke="#000" stroke-opacity="0.022" stroke-dasharray="6 6" stroke-width="1" stroke-dashoffset="1"/>
<line x1="849.5" y1="1325" x2="849.5" y2="1500" stroke="#000" stroke-opacity="0.022" stroke-dasharray="6 6" stroke-width="1" stroke-dashoffset="1"/>
<line x1="860.5" y1="1325" x2="860.5" y2="1500" stroke="#000" stroke-opacity="0.022" stroke-dasharray="6 6" stroke-width="1" stroke-dashoffset="1"/>
<line x1="871.5" y1="1325" x2="871.5" y2="1500" stroke="#000" stroke-opacity="0.09" stroke-dasharray="4 4" stroke-width="1" stroke-dashoffset="1"/>
<line x1="882.5" y1="1325" x2="882.5" y2="1500" stroke="#000" stroke-opacity="0.022" stroke-dasharray="6 6" stroke-width="1" stroke-dashoffset="1"/>
<line x1="892.5" y1="1325" x2="892.5" y2="1500" stroke="#000" stroke-opacity="0.022" stroke-dasharray="6 6" stroke-width="1" stroke-dashoffset="1"/>
<line x1="903.5" y1="1325" x2="903.5" y2="1500" stroke="#000" stroke-opacity="0.022" stroke-dasharray="6 6" stroke-width="1" stroke-dashoffset="1"/>
<line x1="914.5" y1="1325" x2="914.5" y2="1500" stroke="#000" stroke-opacity="0.022" stroke-dasharray="6 6" stroke-width="1" stroke-dashoffset="1"/>
<line x1="925.5" y1="1325" x2="925.5" y2="1500" stroke="#000" stroke-opacity="0.09" stroke-dasharray="4 4" stroke-width="1" stroke-dashoffset="1"/>
<line x1="936.5" y1="1325" x2="936.5" y2="1500" stroke="#000" stroke-opacity="0.022" stroke-dasharray="6 6" stroke-width="1" stroke-dashoffset="1"/>
<line x1="947.5" y1="1325" x2="947.5" y2="1500" stroke="#000" stroke-opacity="0.022" stroke-dasharray="6 6" stroke-width="1" stroke-dashoffset="1"/>
<line x1="958.5" y1="1325" x2="958.5" y2="1500" stroke="#000" stroke-opacity="0.022" stroke-dasharray="6 6" stroke-width="1" stroke-dashoffset="1"/>
<line x1="969.5" y1="1325" x2="969.5" y2="1500" stroke="#000" stroke-opacity="0.022" stroke-dasharray="6 6" stroke-width="1" stroke-dashoffset="1"/>
<line x1="980.5" y1="1325" x2="980.5" y2="1500" stroke="#000" stroke-opacity="0.09" stroke-dasharray="4 4" stroke-width="1" stroke-dashoffset="1"/>
<line x1="991.5" y1="1325" x2="991.5" y2="1500" stroke="#000" stroke-opacity="0.022" stroke-dasharray="6 6" stroke-width="1" stroke-dashoffset="1"/>
<line x1="1002.5" y1="1325" x2="1002.5" y2="1500" stroke="#000" stroke-opacity="0.022" stroke-dasharray="6 6" stroke-width="1" stroke-dashoffset="1"/>
<line x1="1013.5" y1="1325" x2="1013.5" y2="1500" stroke="#000" stroke-opacity="0.022" stroke-dasharray="6 6" stroke-width="1" stroke-dashoffset="1"/>
<line x1="1024.5" y1="1325" x2="1024.5" y2="1500" stroke="#000" stroke-opacity="0.022" stroke-dasharray="6 6" stroke-width="1" stroke-dashoffset="1"/>
<line x1="1035.5" y1="1325" x2="1035.5" y2="1500" stroke="#000" stroke-opacity="0.09" stroke-dasharray="4 4" stroke-width="1" stroke-dashoffset="1"/>
<line x1="1046.5" y1="1325" x2="1046.5" y2="1500" stroke="#000" stroke-opacity="0.022" stroke-dasharray="6 6" stroke-width="1" stroke-dashoffset="1"/>
<line x1="1057.5" y1="1325" x2="1057.5" y2="1500" stroke="#000" stroke-opacity="0.022" stroke-dasharray="6 6" stroke-width="1" stroke-dashoffset="1"/>
<line x1="1067.5" y1="1325" x2="1067.5" y2="1500" stroke="#000" stroke-opacity="0.022" stroke-dasharray="6 6" stroke-width="1" stroke-dashoffset="1"/>
<line x1="1078.5" y1="1325" x2="1078.5" y2="1500" stroke="#000" stroke-opacity="0.022" stroke-dasharray="6 6" stroke-width="1" stroke-dashoffset="1"/>
<line x1="1089.5" y1="1325" x2="1089.5" y2="1500" stroke="#000" stroke-opacity="0.09" stroke-dasharray="4 4" stroke-width="1" stroke-dashoffset="1"/>
<line x1="1100.5" y1="1325" x2="1100.5" y2="1500" stroke="#000" stroke-opacity="0.022" stroke-dasharray="6 6" stroke-width="1" stroke-dashoffset="1"/>
<line x1="1111.5" y1="1325" x2="1111.5" y2="1500" stroke="#000" stroke-opacity="0.022" stroke-dasharray="6 6" stroke-width="1" stroke-dashoffset="1"/>
<line x1="1122.5" y1="1325" x2="1122.5" y2="1500" stroke="#000" stroke-opacity="0.022" stroke-dasharray="6 6" stroke-width="1" stroke-dashoffset="1"/>
<line x1="1133.5" y1="1325" x2="1133.5" y2="1500" stroke="#000" stroke-opacity="0.022" stroke-dasharray="6 6" stroke-width="1" stroke-dashoffset="1"/>
<line x1="1144.5" y1="1325" x2="1144.5" y2="1500" stroke="#000" stroke-opacity="0.09" stroke-dasharray="4 4" stroke-width="1" stroke-dashoffset="1"/>
<line x1="107" y1="1325.5" x2="1151" y2="1325.5" stroke="#000" stroke-opacity="0.09" stroke-width="1" stroke-dasharray="4 4"/>
<line x1="107" y1="1350.5" x2="1151" y2="1350.5" stroke="#000" stroke-opacity="0.09" stroke-width="1" stroke-dasharray="4 4"/>
<line x1="107" y1="1375.5" x2="1151" y2="1375.5" stroke="#000" stroke-opacity="0.09" stroke-width="1" stroke-dasharray="4 4"/>
<line x1="107" y1="1400.5" x2="1151" y2="1400.5" stroke="#000" stroke-opacity="0.09" stroke-width="1" stroke-dasharray="4 4"/>
<line x1="107" y1="1425.5" x2="1151" y2="1425.5" stroke="#000" stroke-opacity="0.09" stroke-width="1" stroke-dasharray="4 4"/>
<line x1="107" y1="1450.5" x2="1151" y2="1450.5" stroke="#000" stroke-opacity="0.09" stroke-width="1" stroke-dasharray="4 4"/>
<line x1="107" y1="1475.5" x2="1151" y2="1475.5" stroke="#000" stroke-opacity="0.09" stroke-width="1" stroke-dasharray="4 4"/>
<clipPath id="cpU"><rect x="100" y="1300" width="1060" height="100.5"/></clipPath>
<clipPath id="cpD"><rect x="100" y="1400.5" width="1060" height="120"/></clipPath>
<path d="M105 1400.5L105.5 1373.0C106.6 1373.1 114.2 1373.3 116.4 1373.8C118.6 1374.2 125.2 1376.1 127.4 1377.0C129.6 1377.9 136.1 1381.1 138.3 1382.5C140.5 1383.9 147.1 1389.5 149.2 1391.2C151.4 1393.0 158.0 1398.6 160.2 1400.0C162.4 1401.4 168.9 1404.8 171.1 1405.0C173.3 1405.2 179.9 1402.9 182.1 1402.5C184.2 1402.1 190.8 1402.0 193.0 1400.8C195.2 1399.5 201.7 1391.6 203.9 1390.0C206.1 1388.4 212.7 1385.2 214.9 1384.5C217.1 1383.8 223.6 1382.8 225.8 1382.5C228.0 1382.2 234.6 1381.8 236.7 1382.0C238.9 1382.2 245.5 1383.3 247.7 1384.5C249.9 1385.7 256.4 1391.7 258.6 1393.8C260.8 1395.8 267.4 1402.9 269.6 1405.0C271.7 1407.1 278.3 1413.0 280.5 1415.0C282.7 1417.0 289.2 1422.9 291.4 1424.5C293.6 1426.1 300.2 1430.5 302.4 1431.2C304.6 1432.0 311.1 1432.5 313.3 1432.5C315.5 1432.5 322.0 1431.4 324.2 1431.2C326.4 1431.1 333.0 1430.4 335.2 1431.2C337.4 1432.1 343.9 1438.4 346.1 1440.0C348.3 1441.6 354.9 1447.2 357.0 1447.5C359.2 1447.8 365.8 1444.0 368.0 1443.2C370.2 1442.5 376.7 1441.1 378.9 1440.0C381.1 1438.9 387.7 1434.8 389.9 1432.0C392.0 1429.2 398.6 1415.4 400.8 1412.0C403.0 1408.6 409.5 1400.3 411.7 1398.0C413.9 1395.7 420.5 1390.7 422.7 1389.2C424.9 1387.8 431.4 1384.3 433.6 1383.8C435.8 1383.2 442.4 1382.2 444.5 1383.2C446.7 1384.2 453.3 1391.6 455.5 1393.8C457.7 1395.9 464.2 1402.2 466.4 1405.0C468.6 1407.8 475.2 1418.4 477.4 1421.2C479.5 1424.1 486.1 1431.5 488.3 1433.8C490.5 1436.0 497.0 1442.5 499.2 1443.8C501.4 1445.0 508.0 1447.0 510.2 1446.2C512.4 1445.5 518.9 1438.2 521.1 1436.2C523.3 1434.2 529.8 1428.2 532.0 1426.2C534.2 1424.2 540.8 1419.2 543.0 1416.2C545.2 1413.2 551.7 1399.6 553.9 1396.2C556.1 1392.9 562.7 1383.8 564.8 1382.5C567.0 1381.2 573.6 1382.5 575.8 1383.0C578.0 1383.5 584.5 1386.8 586.7 1387.0C588.9 1387.2 595.5 1386.1 597.7 1385.5C599.8 1384.9 606.4 1381.4 608.6 1380.8C610.8 1380.1 617.3 1378.1 619.5 1378.8C621.7 1379.4 628.3 1386.9 630.5 1387.0C632.7 1387.1 639.2 1381.0 641.4 1380.0C643.6 1379.0 650.2 1376.9 652.3 1376.5C654.5 1376.1 661.1 1375.8 663.3 1376.0C665.5 1376.2 672.0 1378.5 674.2 1378.0C676.4 1377.5 683.0 1371.6 685.2 1371.2C687.3 1370.9 693.9 1373.9 696.1 1374.5C698.3 1375.1 704.8 1375.8 707.0 1377.0C709.2 1378.2 715.8 1386.0 718.0 1387.0C720.2 1388.0 726.7 1386.7 728.9 1387.5C731.1 1388.3 737.6 1394.5 739.8 1395.0C742.0 1395.5 748.6 1392.7 750.8 1392.0C753.0 1391.3 759.5 1388.5 761.7 1388.0C763.9 1387.5 770.5 1387.5 772.6 1387.0C774.8 1386.5 781.4 1383.2 783.6 1383.0C785.8 1382.8 792.3 1383.6 794.5 1385.0C796.7 1386.4 803.3 1395.0 805.5 1397.0C807.6 1399.0 814.2 1403.7 816.4 1404.5C818.6 1405.3 825.1 1404.8 827.3 1405.0C829.5 1405.2 836.1 1406.0 838.3 1406.2C840.5 1406.5 847.0 1407.5 849.2 1408.0C851.4 1408.5 858.0 1410.3 860.1 1411.2C862.3 1412.2 868.9 1416.6 871.1 1417.5C873.3 1418.4 879.8 1419.2 882.0 1420.0C884.2 1420.8 890.8 1425.0 893.0 1425.8C895.1 1426.5 901.7 1427.3 903.9 1428.0C906.1 1428.7 912.6 1432.0 914.8 1432.5C917.0 1433.0 923.6 1438.1 925.8 1432.5C928.0 1426.9 934.5 1384.2 936.7 1376.2C938.9 1368.3 945.4 1356.6 947.6 1352.8C949.8 1348.9 956.4 1338.9 958.6 1338.1C960.8 1337.3 967.3 1343.6 969.5 1345.0C971.7 1346.4 978.3 1350.1 980.4 1352.0C982.6 1353.9 989.2 1359.2 991.4 1364.0C993.6 1368.8 1000.1 1394.0 1002.3 1400.4C1004.5 1406.8 1011.1 1423.4 1013.3 1428.0C1015.4 1432.6 1022.0 1442.5 1024.2 1446.0C1026.4 1449.5 1032.9 1460.1 1035.1 1463.0C1037.3 1465.9 1043.9 1473.0 1046.1 1475.0C1048.3 1477.0 1054.8 1483.0 1057.0 1483.0C1059.2 1483.0 1065.8 1476.9 1067.9 1475.0C1070.1 1473.1 1076.7 1465.2 1078.9 1464.4C1081.1 1463.6 1087.6 1467.1 1089.8 1467.0C1092.0 1466.9 1098.6 1465.1 1100.8 1463.6C1102.9 1462.1 1109.5 1454.3 1111.7 1452.0C1113.9 1449.7 1120.4 1442.6 1122.6 1441.0C1124.8 1439.4 1131.4 1439.0 1133.6 1436.0C1135.8 1433.0 1143.4 1413.5 1144.5 1411.0L1144.5 1400.5Z" fill="#00ff00" fill-opacity="0.41" clip-path="url(#cpU)"/>
<path d="M105 1400.5L105.5 1373.0C106.6 1373.1 114.2 1373.3 116.4 1373.8C118.6 1374.2 125.2 1376.1 127.4 1377.0C129.6 1377.9 136.1 1381.1 138.3 1382.5C140.5 1383.9 147.1 1389.5 149.2 1391.2C151.4 1393.0 158.0 1398.6 160.2 1400.0C162.4 1401.4 168.9 1404.8 171.1 1405.0C173.3 1405.2 179.9 1402.9 182.1 1402.5C184.2 1402.1 190.8 1402.0 193.0 1400.8C195.2 1399.5 201.7 1391.6 203.9 1390.0C206.1 1388.4 212.7 1385.2 214.9 1384.5C217.1 1383.8 223.6 1382.8 225.8 1382.5C228.0 1382.2 234.6 1381.8 236.7 1382.0C238.9 1382.2 245.5 1383.3 247.7 1384.5C249.9 1385.7 256.4 1391.7 258.6 1393.8C260.8 1395.8 267.4 1402.9 269.6 1405.0C271.7 1407.1 278.3 1413.0 280.5 1415.0C282.7 1417.0 289.2 1422.9 291.4 1424.5C293.6 1426.1 300.2 1430.5 302.4 1431.2C304.6 1432.0 311.1 1432.5 313.3 1432.5C315.5 1432.5 322.0 1431.4 324.2 1431.2C326.4 1431.1 333.0 1430.4 335.2 1431.2C337.4 1432.1 343.9 1438.4 346.1 1440.0C348.3 1441.6 354.9 1447.2 357.0 1447.5C359.2 1447.8 365.8 1444.0 368.0 1443.2C370.2 1442.5 376.7 1441.1 378.9 1440.0C381.1 1438.9 387.7 1434.8 389.9 1432.0C392.0 1429.2 398.6 1415.4 400.8 1412.0C403.0 1408.6 409.5 1400.3 411.7 1398.0C413.9 1395.7 420.5 1390.7 422.7 1389.2C424.9 1387.8 431.4 1384.3 433.6 1383.8C435.8 1383.2 442.4 1382.2 444.5 1383.2C446.7 1384.2 453.3 1391.6 455.5 1393.8C457.7 1395.9 464.2 1402.2 466.4 1405.0C468.6 1407.8 475.2 1418.4 477.4 1421.2C479.5 1424.1 486.1 1431.5 488.3 1433.8C490.5 1436.0 497.0 1442.5 499.2 1443.8C501.4 1445.0 508.0 1447.0 510.2 1446.2C512.4 1445.5 518.9 1438.2 521.1 1436.2C523.3 1434.2 529.8 1428.2 532.0 1426.2C534.2 1424.2 540.8 1419.2 543.0 1416.2C545.2 1413.2 551.7 1399.6 553.9 1396.2C556.1 1392.9 562.7 1383.8 564.8 1382.5C567.0 1381.2 573.6 1382.5 575.8 1383.0C578.0 1383.5 584.5 1386.8 586.7 1387.0C588.9 1387.2 595.5 1386.1 597.7 1385.5C599.8 1384.9 606.4 1381.4 608.6 1380.8C610.8 1380.1 617.3 1378.1 619.5 1378.8C621.7 1379.4 628.3 1386.9 630.5 1387.0C632.7 1387.1 639.2 1381.0 641.4 1380.0C643.6 1379.0 650.2 1376.9 652.3 1376.5C654.5 1376.1 661.1 1375.8 663.3 1376.0C665.5 1376.2 672.0 1378.5 674.2 1378.0C676.4 1377.5 683.0 1371.6 685.2 1371.2C687.3 1370.9 693.9 1373.9 696.1 1374.5C698.3 1375.1 704.8 1375.8 707.0 1377.0C709.2 1378.2 715.8 1386.0 718.0 1387.0C720.2 1388.0 726.7 1386.7 728.9 1387.5C731.1 1388.3 737.6 1394.5 739.8 1395.0C742.0 1395.5 748.6 1392.7 750.8 1392.0C753.0 1391.3 759.5 1388.5 761.7 1388.0C763.9 1387.5 770.5 1387.5 772.6 1387.0C774.8 1386.5 781.4 1383.2 783.6 1383.0C785.8 1382.8 792.3 1383.6 794.5 1385.0C796.7 1386.4 803.3 1395.0 805.5 1397.0C807.6 1399.0 814.2 1403.7 816.4 1404.5C818.6 1405.3 825.1 1404.8 827.3 1405.0C829.5 1405.2 836.1 1406.0 838.3 1406.2C840.5 1406.5 847.0 1407.5 849.2 1408.0C851.4 1408.5 858.0 1410.3 860.1 1411.2C862.3 1412.2 868.9 1416.6 871.1 1417.5C873.3 1418.4 879.8 1419.2 882.0 1420.0C884.2 1420.8 890.8 1425.0 893.0 1425.8C895.1 1426.5 901.7 1427.3 903.9 1428.0C906.1 1428.7 912.6 1432.0 914.8 1432.5C917.0 1433.0 923.6 1438.1 925.8 1432.5C928.0 1426.9 934.5 1384.2 936.7 1376.2C938.9 1368.3 945.4 1356.6 947.6 1352.8C949.8 1348.9 956.4 1338.9 958.6 1338.1C960.8 1337.3 967.3 1343.6 969.5 1345.0C971.7 1346.4 978.3 1350.1 980.4 1352.0C982.6 1353.9 989.2 1359.2 991.4 1364.0C993.6 1368.8 1000.1 1394.0 1002.3 1400.4C1004.5 1406.8 1011.1 1423.4 1013.3 1428.0C1015.4 1432.6 1022.0 1442.5 1024.2 1446.0C1026.4 1449.5 1032.9 1460.1 1035.1 1463.0C1037.3 1465.9 1043.9 1473.0 1046.1 1475.0C1048.3 1477.0 1054.8 1483.0 1057.0 1483.0C1059.2 1483.0 1065.8 1476.9 1067.9 1475.0C1070.1 1473.1 1076.7 1465.2 1078.9 1464.4C1081.1 1463.6 1087.6 1467.1 1089.8 1467.0C1092.0 1466.9 1098.6 1465.1 1100.8 1463.6C1102.9 1462.1 1109.5 1454.3 1111.7 1452.0C1113.9 1449.7 1120.4 1442.6 1122.6 1441.0C1124.8 1439.4 1131.4 1439.0 1133.6 1436.0C1135.8 1433.0 1143.4 1413.5 1144.5 1411.0L1144.5 1400.5Z" fill="#ff0000" fill-opacity="0.42" clip-path="url(#cpD)"/>
<line x1="105" y1="1400.0" x2="1144" y2="1400.0" stroke="#00ff00" stroke-opacity="0.42" stroke-width="1"/>
<line x1="100.5" y1="1312" x2="100.5" y2="1501" stroke="#000" stroke-width="1"/>
<polygon points="100.5,1313 96.9,1320 104.1,1320" fill="#000"/>
<line x1="100" y1="1500.5" x2="1163" y2="1500.5" stroke="#000" stroke-width="1"/>
<polygon points="1162,1500.5 1155,1496.9 1155,1504.1" fill="#000"/>
<line x1="98" y1="1325.5" x2="103" y2="1325.5" stroke="#000" stroke-width="1"/>
<text x="98.40" y="1329.90" font-size="10.8" text-anchor="end" fill="#000"  textLength="24.22" lengthAdjust="spacingAndGlyphs">0.15</text>
<line x1="98" y1="1337.5" x2="101" y2="1337.5" stroke="#f00" stroke-width="1"/>
<line x1="98" y1="1350.5" x2="103" y2="1350.5" stroke="#000" stroke-width="1"/>
<text x="98.40" y="1354.90" font-size="10.8" text-anchor="end" fill="#000"  textLength="24.22" lengthAdjust="spacingAndGlyphs">0.10</text>
<line x1="98" y1="1362.5" x2="101" y2="1362.5" stroke="#f00" stroke-width="1"/>
<line x1="98" y1="1375.5" x2="103" y2="1375.5" stroke="#000" stroke-width="1"/>
<text x="98.40" y="1379.90" font-size="10.8" text-anchor="end" fill="#000"  textLength="24.22" lengthAdjust="spacingAndGlyphs">0.05</text>
<line x1="98" y1="1387.5" x2="101" y2="1387.5" stroke="#f00" stroke-width="1"/>
<line x1="98" y1="1400.5" x2="103" y2="1400.5" stroke="#000" stroke-width="1"/>
<text x="98.40" y="1404.90" font-size="10.8" text-anchor="end" fill="#000"  textLength="24.22" lengthAdjust="spacingAndGlyphs">0.00</text>
<line x1="98" y1="1412.5" x2="101" y2="1412.5" stroke="#f00" stroke-width="1"/>
<line x1="98" y1="1425.5" x2="103" y2="1425.5" stroke="#000" stroke-width="1"/>
<text x="98.40" y="1429.90" font-size="10.8" text-anchor="end" fill="#000"  textLength="29.07" lengthAdjust="spacingAndGlyphs">-0.05</text>
<line x1="98" y1="1437.5" x2="101" y2="1437.5" stroke="#f00" stroke-width="1"/>
<line x1="98" y1="1450.5" x2="103" y2="1450.5" stroke="#000" stroke-width="1"/>
<text x="98.40" y="1454.90" font-size="10.8" text-anchor="end" fill="#000"  textLength="29.07" lengthAdjust="spacingAndGlyphs">-0.10</text>
<line x1="98" y1="1462.5" x2="101" y2="1462.5" stroke="#f00" stroke-width="1"/>
<line x1="98" y1="1475.5" x2="103" y2="1475.5" stroke="#000" stroke-width="1"/>
<text x="98.40" y="1479.90" font-size="10.8" text-anchor="end" fill="#000"  textLength="29.07" lengthAdjust="spacingAndGlyphs">-0.15</text>
<line x1="98" y1="1487.5" x2="101" y2="1487.5" stroke="#f00" stroke-width="1"/>
<line x1="98" y1="1500.5" x2="103" y2="1500.5" stroke="#000" stroke-width="1"/>
<text x="98.40" y="1504.90" font-size="10.8" text-anchor="end" fill="#000"  textLength="29.07" lengthAdjust="spacingAndGlyphs">-0.20</text>
<line x1="105.5" y1="1498" x2="105.5" y2="1503" stroke="#000" stroke-width="1"/>
<text x="107.10" y="1513.80" font-size="10.8" text-anchor="middle" fill="#000"  textLength="35.50" lengthAdjust="spacingAndGlyphs">27 Juil</text>
<line x1="116.5" y1="1501" x2="116.5" y2="1503" stroke="#c4c4c4" stroke-width="1"/>
<line x1="127.5" y1="1501" x2="127.5" y2="1503" stroke="#c4c4c4" stroke-width="1"/>
<line x1="138.5" y1="1501" x2="138.5" y2="1503" stroke="#c4c4c4" stroke-width="1"/>
<line x1="149.5" y1="1501" x2="149.5" y2="1503" stroke="#c4c4c4" stroke-width="1"/>
<line x1="160.5" y1="1498" x2="160.5" y2="1503" stroke="#000" stroke-width="1"/>
<text x="162.10" y="1513.80" font-size="10.8" text-anchor="middle" fill="#000"  textLength="37.10" lengthAdjust="spacingAndGlyphs">3 Août</text>
<line x1="171.5" y1="1501" x2="171.5" y2="1503" stroke="#c4c4c4" stroke-width="1"/>
<line x1="182.5" y1="1501" x2="182.5" y2="1503" stroke="#c4c4c4" stroke-width="1"/>
<line x1="192.5" y1="1501" x2="192.5" y2="1503" stroke="#c4c4c4" stroke-width="1"/>
<line x1="203.5" y1="1501" x2="203.5" y2="1503" stroke="#c4c4c4" stroke-width="1"/>
<line x1="214.5" y1="1498" x2="214.5" y2="1503" stroke="#000" stroke-width="1"/>
<text x="216.10" y="1513.80" font-size="10.8" text-anchor="middle" fill="#000"  textLength="43.80" lengthAdjust="spacingAndGlyphs">10 Août</text>
<line x1="225.5" y1="1501" x2="225.5" y2="1503" stroke="#c4c4c4" stroke-width="1"/>
<line x1="236.5" y1="1501" x2="236.5" y2="1503" stroke="#c4c4c4" stroke-width="1"/>
<line x1="247.5" y1="1501" x2="247.5" y2="1503" stroke="#c4c4c4" stroke-width="1"/>
<line x1="258.5" y1="1501" x2="258.5" y2="1503" stroke="#c4c4c4" stroke-width="1"/>
<line x1="269.5" y1="1498" x2="269.5" y2="1503" stroke="#000" stroke-width="1"/>
<text x="271.10" y="1513.80" font-size="10.8" text-anchor="middle" fill="#000"  textLength="43.80" lengthAdjust="spacingAndGlyphs">17 Août</text>
<line x1="280.5" y1="1501" x2="280.5" y2="1503" stroke="#c4c4c4" stroke-width="1"/>
<line x1="291.5" y1="1501" x2="291.5" y2="1503" stroke="#c4c4c4" stroke-width="1"/>
<line x1="302.5" y1="1501" x2="302.5" y2="1503" stroke="#c4c4c4" stroke-width="1"/>
<line x1="313.5" y1="1501" x2="313.5" y2="1503" stroke="#c4c4c4" stroke-width="1"/>
<line x1="324.5" y1="1498" x2="324.5" y2="1503" stroke="#000" stroke-width="1"/>
<text x="326.10" y="1513.80" font-size="10.8" text-anchor="middle" fill="#000"  textLength="43.80" lengthAdjust="spacingAndGlyphs">24 Août</text>
<line x1="335.5" y1="1501" x2="335.5" y2="1503" stroke="#c4c4c4" stroke-width="1"/>
<line x1="346.5" y1="1501" x2="346.5" y2="1503" stroke="#c4c4c4" stroke-width="1"/>
<line x1="357.5" y1="1501" x2="357.5" y2="1503" stroke="#c4c4c4" stroke-width="1"/>
<line x1="367.5" y1="1501" x2="367.5" y2="1503" stroke="#c4c4c4" stroke-width="1"/>
<line x1="378.5" y1="1498" x2="378.5" y2="1503" stroke="#000" stroke-width="1"/>
<text x="380.10" y="1513.80" font-size="10.8" text-anchor="middle" fill="#000"  textLength="43.80" lengthAdjust="spacingAndGlyphs">31 Août</text>
<line x1="389.5" y1="1501" x2="389.5" y2="1503" stroke="#c4c4c4" stroke-width="1"/>
<line x1="400.5" y1="1501" x2="400.5" y2="1503" stroke="#c4c4c4" stroke-width="1"/>
<line x1="411.5" y1="1501" x2="411.5" y2="1503" stroke="#c4c4c4" stroke-width="1"/>
<line x1="422.5" y1="1501" x2="422.5" y2="1503" stroke="#c4c4c4" stroke-width="1"/>
<line x1="433.5" y1="1498" x2="433.5" y2="1503" stroke="#000" stroke-width="1"/>
<text x="435.10" y="1512.80" font-size="10.8" text-anchor="middle" fill="#000"  textLength="36.90" lengthAdjust="spacingAndGlyphs">7 Sept</text>
<line x1="444.5" y1="1501" x2="444.5" y2="1503" stroke="#c4c4c4" stroke-width="1"/>
<line x1="455.5" y1="1501" x2="455.5" y2="1503" stroke="#c4c4c4" stroke-width="1"/>
<line x1="466.5" y1="1501" x2="466.5" y2="1503" stroke="#c4c4c4" stroke-width="1"/>
<line x1="477.5" y1="1501" x2="477.5" y2="1503" stroke="#c4c4c4" stroke-width="1"/>
<line x1="488.5" y1="1498" x2="488.5" y2="1503" stroke="#000" stroke-width="1"/>
<text x="490.10" y="1512.80" font-size="10.8" text-anchor="middle" fill="#000"  textLength="44.20" lengthAdjust="spacingAndGlyphs">14 Sept</text>
<line x1="499.5" y1="1501" x2="499.5" y2="1503" stroke="#c4c4c4" stroke-width="1"/>
<line x1="510.5" y1="1501" x2="510.5" y2="1503" stroke="#c4c4c4" stroke-width="1"/>
<line x1="521.5" y1="1501" x2="521.5" y2="1503" stroke="#c4c4c4" stroke-width="1"/>
<line x1="532.5" y1="1501" x2="532.5" y2="1503" stroke="#c4c4c4" stroke-width="1"/>
<line x1="542.5" y1="1498" x2="542.5" y2="1503" stroke="#000" stroke-width="1"/>
<text x="544.10" y="1512.80" font-size="10.8" text-anchor="middle" fill="#000"  textLength="44.20" lengthAdjust="spacingAndGlyphs">21 Sept</text>
<line x1="553.5" y1="1501" x2="553.5" y2="1503" stroke="#c4c4c4" stroke-width="1"/>
<line x1="564.5" y1="1501" x2="564.5" y2="1503" stroke="#c4c4c4" stroke-width="1"/>
<line x1="575.5" y1="1501" x2="575.5" y2="1503" stroke="#c4c4c4" stroke-width="1"/>
<line x1="586.5" y1="1501" x2="586.5" y2="1503" stroke="#c4c4c4" stroke-width="1"/>
<line x1="597.5" y1="1498" x2="597.5" y2="1503" stroke="#000" stroke-width="1"/>
<text x="599.10" y="1512.80" font-size="10.8" text-anchor="middle" fill="#000"  textLength="44.20" lengthAdjust="spacingAndGlyphs">28 Sept</text>
<line x1="608.5" y1="1501" x2="608.5" y2="1503" stroke="#c4c4c4" stroke-width="1"/>
<line x1="619.5" y1="1501" x2="619.5" y2="1503" stroke="#c4c4c4" stroke-width="1"/>
<line x1="630.5" y1="1501" x2="630.5" y2="1503" stroke="#c4c4c4" stroke-width="1"/>
<line x1="641.5" y1="1501" x2="641.5" y2="1503" stroke="#c4c4c4" stroke-width="1"/>
<line x1="652.5" y1="1498" x2="652.5" y2="1503" stroke="#000" stroke-width="1"/>
<text x="654.10" y="1512.80" font-size="10.8" text-anchor="middle" fill="#000"  textLength="29.50" lengthAdjust="spacingAndGlyphs">5 Oct</text>
<line x1="663.5" y1="1501" x2="663.5" y2="1503" stroke="#c4c4c4" stroke-width="1"/>
<line x1="674.5" y1="1501" x2="674.5" y2="1503" stroke="#c4c4c4" stroke-width="1"/>
<line x1="685.5" y1="1501" x2="685.5" y2="1503" stroke="#c4c4c4" stroke-width="1"/>
<line x1="696.5" y1="1501" x2="696.5" y2="1503" stroke="#c4c4c4" stroke-width="1"/>
<line x1="707.5" y1="1498" x2="707.5" y2="1503" stroke="#000" stroke-width="1"/>
<text x="709.10" y="1512.80" font-size="10.8" text-anchor="middle" fill="#000"  textLength="36.90" lengthAdjust="spacingAndGlyphs">12 Oct</text>
<line x1="717.5" y1="1501" x2="717.5" y2="1503" stroke="#c4c4c4" stroke-width="1"/>
<line x1="728.5" y1="1501" x2="728.5" y2="1503" stroke="#c4c4c4" stroke-width="1"/>
<line x1="739.5" y1="1501" x2="739.5" y2="1503" stroke="#c4c4c4" stroke-width="1"/>
<line x1="750.5" y1="1501" x2="750.5" y2="1503" stroke="#c4c4c4" stroke-width="1"/>
<line x1="761.5" y1="1498" x2="761.5" y2="1503" stroke="#000" stroke-width="1"/>
<text x="763.10" y="1512.80" font-size="10.8" text-anchor="middle" fill="#000"  textLength="36.90" lengthAdjust="spacingAndGlyphs">19 Oct</text>
<line x1="772.5" y1="1501" x2="772.5" y2="1503" stroke="#c4c4c4" stroke-width="1"/>
<line x1="783.5" y1="1501" x2="783.5" y2="1503" stroke="#c4c4c4" stroke-width="1"/>
<line x1="794.5" y1="1501" x2="794.5" y2="1503" stroke="#c4c4c4" stroke-width="1"/>
<line x1="805.5" y1="1501" x2="805.5" y2="1503" stroke="#c4c4c4" stroke-width="1"/>
<line x1="816.5" y1="1498" x2="816.5" y2="1503" stroke="#000" stroke-width="1"/>
<text x="818.10" y="1512.80" font-size="10.8" text-anchor="middle" fill="#000"  textLength="36.90" lengthAdjust="spacingAndGlyphs">26 Oct</text>
<line x1="827.5" y1="1501" x2="827.5" y2="1503" stroke="#c4c4c4" stroke-width="1"/>
<line x1="838.5" y1="1501" x2="838.5" y2="1503" stroke="#c4c4c4" stroke-width="1"/>
<line x1="849.5" y1="1501" x2="849.5" y2="1503" stroke="#c4c4c4" stroke-width="1"/>
<line x1="860.5" y1="1501" x2="860.5" y2="1503" stroke="#c4c4c4" stroke-width="1"/>
<line x1="871.5" y1="1498" x2="871.5" y2="1503" stroke="#000" stroke-width="1"/>
<text x="873.10" y="1512.80" font-size="10.8" text-anchor="middle" fill="#000"  textLength="31.70" lengthAdjust="spacingAndGlyphs">2 Nov</text>
<line x1="882.5" y1="1501" x2="882.5" y2="1503" stroke="#c4c4c4" stroke-width="1"/>
<line x1="892.5" y1="1501" x2="892.5" y2="1503" stroke="#c4c4c4" stroke-width="1"/>
<line x1="903.5" y1="1501" x2="903.5" y2="1503" stroke="#c4c4c4" stroke-width="1"/>
<line x1="914.5" y1="1501" x2="914.5" y2="1503" stroke="#c4c4c4" stroke-width="1"/>
<line x1="925.5" y1="1498" x2="925.5" y2="1503" stroke="#000" stroke-width="1"/>
<text x="927.10" y="1512.80" font-size="10.8" text-anchor="middle" fill="#000"  textLength="31.70" lengthAdjust="spacingAndGlyphs">9 Nov</text>
<line x1="936.5" y1="1501" x2="936.5" y2="1503" stroke="#c4c4c4" stroke-width="1"/>
<line x1="947.5" y1="1501" x2="947.5" y2="1503" stroke="#c4c4c4" stroke-width="1"/>
<line x1="958.5" y1="1501" x2="958.5" y2="1503" stroke="#c4c4c4" stroke-width="1"/>
<line x1="969.5" y1="1501" x2="969.5" y2="1503" stroke="#c4c4c4" stroke-width="1"/>
<line x1="980.5" y1="1498" x2="980.5" y2="1503" stroke="#000" stroke-width="1"/>
<text x="982.10" y="1512.80" font-size="10.8" text-anchor="middle" fill="#000"  textLength="38.70" lengthAdjust="spacingAndGlyphs">16 Nov</text>
<line x1="991.5" y1="1501" x2="991.5" y2="1503" stroke="#c4c4c4" stroke-width="1"/>
<line x1="1002.5" y1="1501" x2="1002.5" y2="1503" stroke="#c4c4c4" stroke-width="1"/>
<line x1="1013.5" y1="1501" x2="1013.5" y2="1503" stroke="#c4c4c4" stroke-width="1"/>
<line x1="1024.5" y1="1501" x2="1024.5" y2="1503" stroke="#c4c4c4" stroke-width="1"/>
<line x1="1035.5" y1="1498" x2="1035.5" y2="1503" stroke="#000" stroke-width="1"/>
<text x="1037.10" y="1512.80" font-size="10.8" text-anchor="middle" fill="#000"  textLength="38.70" lengthAdjust="spacingAndGlyphs">23 Nov</text>
<line x1="1046.5" y1="1501" x2="1046.5" y2="1503" stroke="#c4c4c4" stroke-width="1"/>
<line x1="1057.5" y1="1501" x2="1057.5" y2="1503" stroke="#c4c4c4" stroke-width="1"/>
<line x1="1067.5" y1="1501" x2="1067.5" y2="1503" stroke="#c4c4c4" stroke-width="1"/>
<line x1="1078.5" y1="1501" x2="1078.5" y2="1503" stroke="#c4c4c4" stroke-width="1"/>
<line x1="1089.5" y1="1498" x2="1089.5" y2="1503" stroke="#000" stroke-width="1"/>
<text x="1091.10" y="1513.80" font-size="10.8" text-anchor="middle" fill="#000"  textLength="32.70" lengthAdjust="spacingAndGlyphs">2 Déc</text>
<line x1="1100.5" y1="1501" x2="1100.5" y2="1503" stroke="#c4c4c4" stroke-width="1"/>
<line x1="1111.5" y1="1501" x2="1111.5" y2="1503" stroke="#c4c4c4" stroke-width="1"/>
<line x1="1122.5" y1="1501" x2="1122.5" y2="1503" stroke="#c4c4c4" stroke-width="1"/>
<line x1="1133.5" y1="1501" x2="1133.5" y2="1503" stroke="#c4c4c4" stroke-width="1"/>
<line x1="1144.5" y1="1498" x2="1144.5" y2="1503" stroke="#000" stroke-width="1"/>
<text x="1146.10" y="1513.80" font-size="10.8" text-anchor="middle" fill="#000"  textLength="32.70" lengthAdjust="spacingAndGlyphs">9 Déc</text>
<text x="626.30" y="1526.60" font-size="10.8" text-anchor="middle" fill="#000"  textLength="264.50" lengthAdjust="spacingAndGlyphs">Date (du 27 Juillet 2016 au 9 Décembre 2016)</text>
<text x="111.00" y="1294.90" font-size="25" text-anchor="start" fill="#000"  textLength="792.40" lengthAdjust="spacingAndGlyphs">Vivendi: graphique du MACD - MACD(12,26,9) - AnalyBourse.com</text>
<text transform="translate(67,1410.3) rotate(-90)" font-size="10.8" text-anchor="middle" textLength="33.6" lengthAdjust="spacingAndGlyphs">MACD</text>
</svg></body></html>
